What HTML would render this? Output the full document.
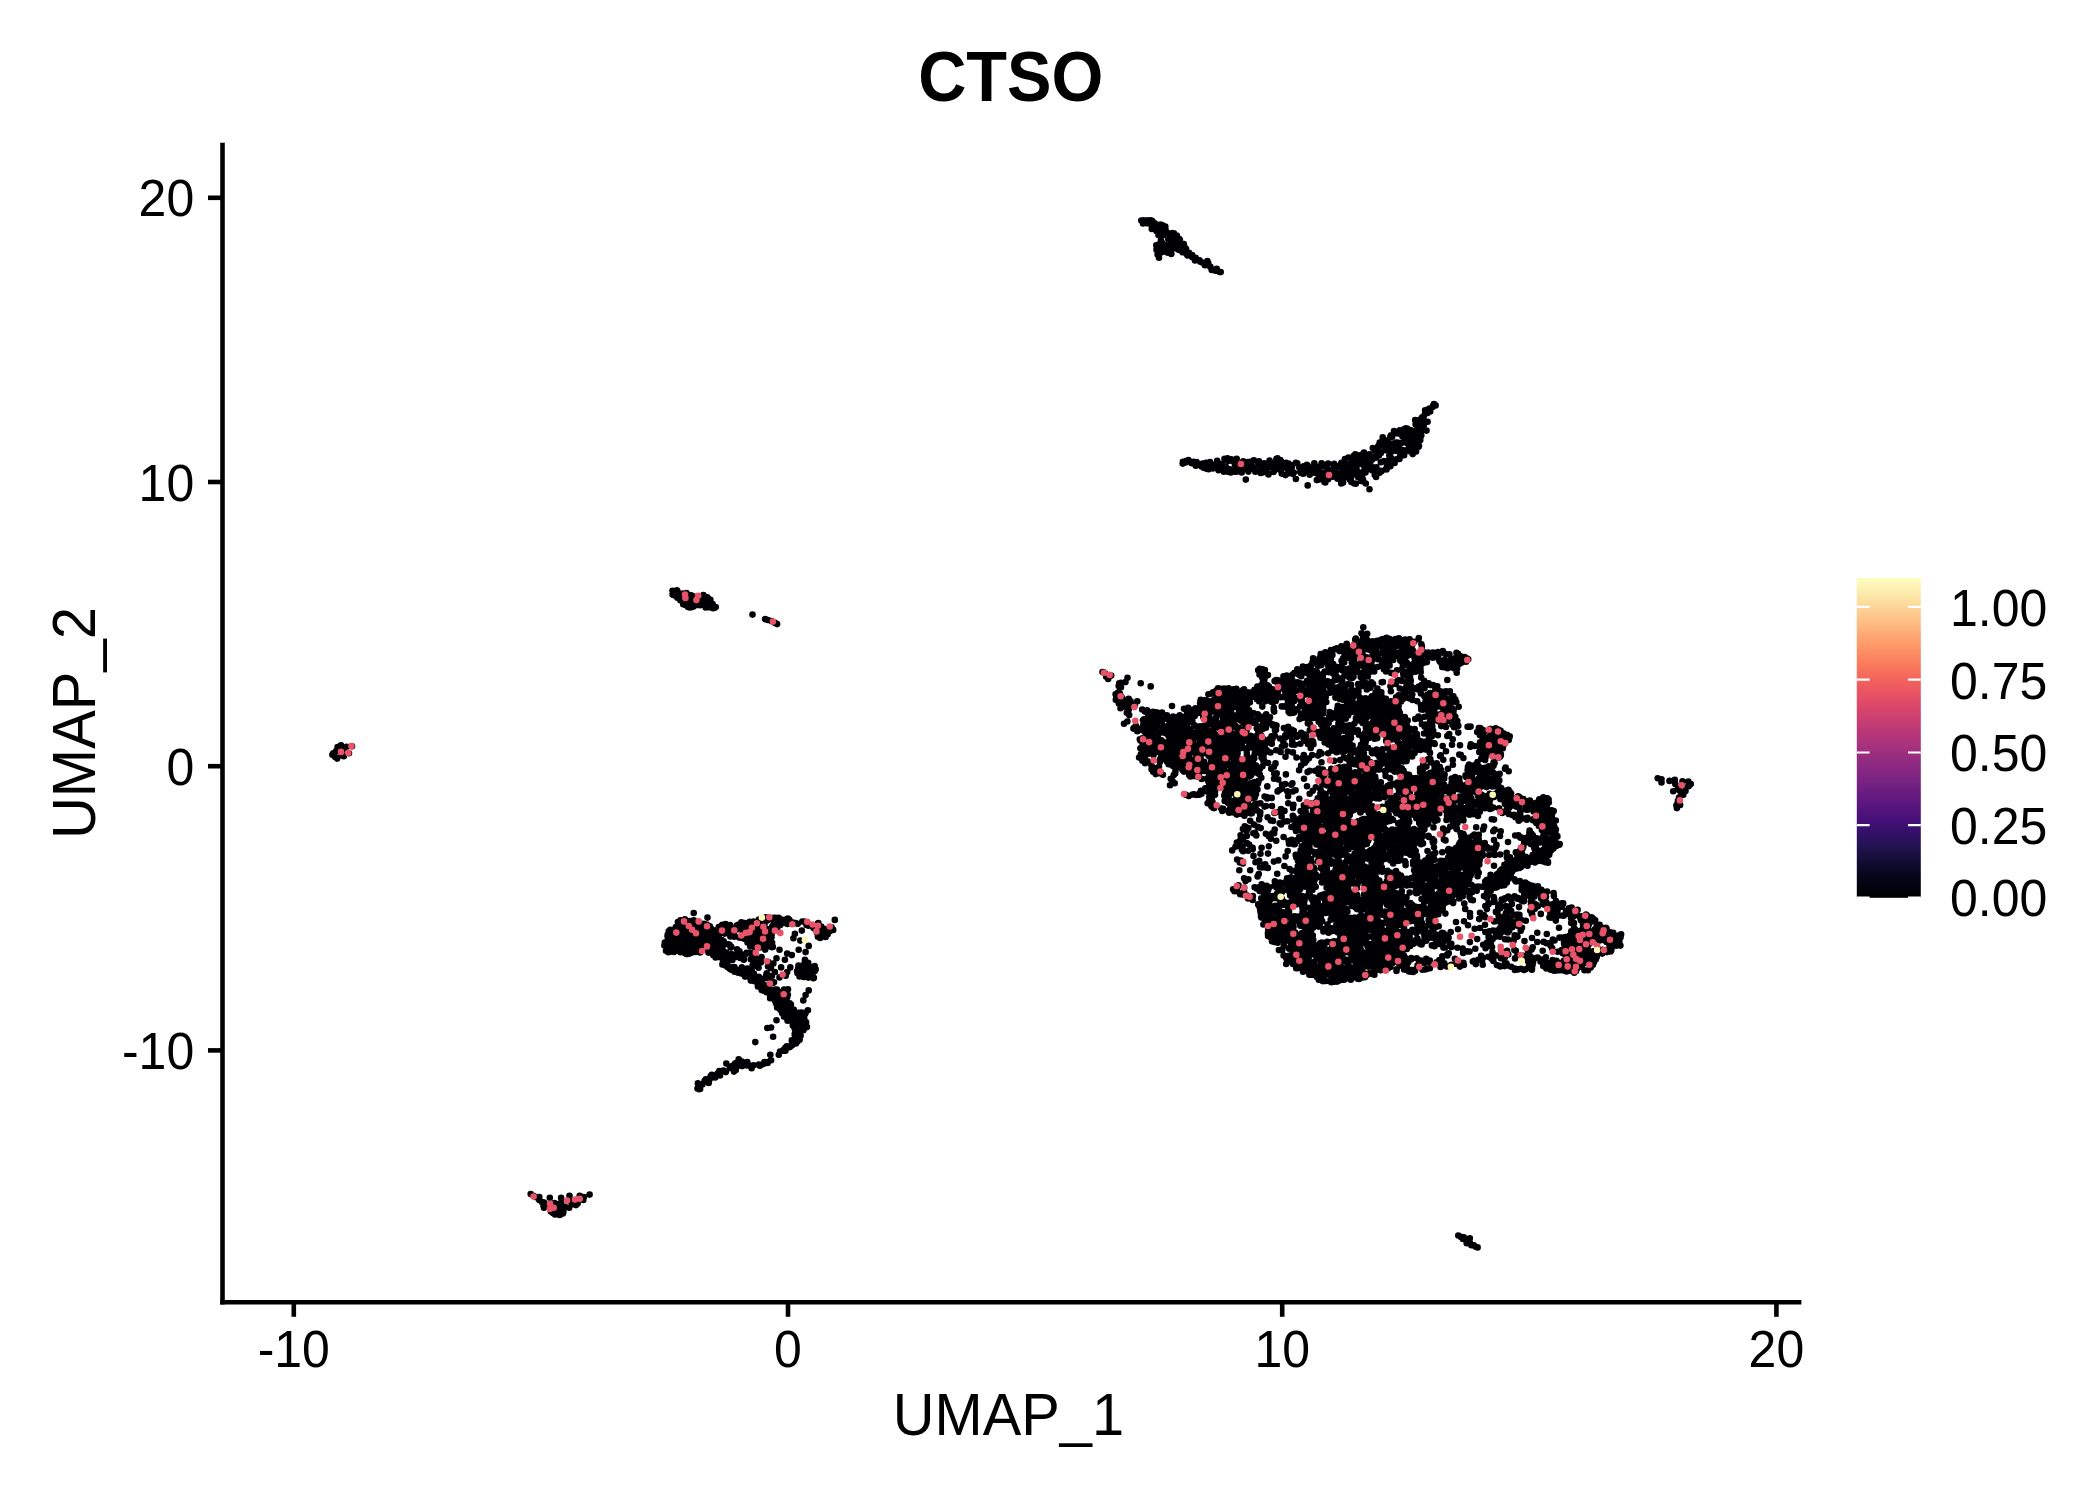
<!DOCTYPE html>
<html lang="en"><head><meta charset="utf-8"><title>CTSO</title><style>html,body{margin:0;padding:0;background:#fff}svg{display:block}</style></head><body>
<svg width="2100" height="1500" viewBox="0 0 2100 1500">
<rect width="2100" height="1500" fill="#fff"/>
<g fill="none" stroke-linecap="round" stroke-width="6.6">
<path stroke="#000004" d="M1147.7 220.4h0M1144.5 221.5h0M1146.3 221.3h0M1149.8 221.3h0M1150.9 221.2h0M1151.4 222.1h0M1152.4 222.6h0M1147.0 223.2h0M1150.9 223.0h0M1152.5 224.9h0M1154.0 224.4h0M1156.0 224.5h0M1159.2 224.9h0M1156.8 225.3h0M1162.4 225.3h0M1165.3 226.5h0M1159.5 227.5h0M1151.8 228.9h0M1152.2 228.1h0M1158.1 228.2h0M1162.4 228.3h0M1164.2 228.8h0M1158.1 229.9h0M1165.5 229.4h0M1156.6 231.3h0M1158.6 231.7h0M1163.2 231.2h0M1165.1 232.3h0M1167.5 232.8h0M1172.5 233.0h0M1161.5 233.9h0M1169.8 233.5h0M1173.9 233.3h0M1162.0 234.1h0M1171.1 234.4h0M1158.5 235.1h0M1163.0 235.2h0M1169.5 235.5h0M1176.8 235.5h0M1174.6 236.2h0M1176.5 236.7h0M1171.2 238.4h0M1174.8 239.0h0M1179.0 238.9h0M1168.3 239.5h0M1173.9 239.8h0M1178.9 239.4h0M1179.9 239.7h0M1160.9 240.9h0M1161.2 241.0h0M1171.4 240.9h0M1173.2 240.3h0M1174.4 240.7h0M1175.3 240.8h0M1177.5 240.7h0M1170.6 241.5h0M1172.5 241.9h0M1174.6 241.9h0M1161.7 242.3h0M1171.3 242.8h0M1174.4 242.4h0M1180.2 242.6h0M1161.5 243.4h0M1183.0 243.8h0M1183.8 244.0h0M1159.1 244.2h0M1171.7 244.4h0M1176.4 244.9h0M1178.1 244.6h0M1179.8 244.5h0M1156.3 245.2h0M1161.1 245.9h0M1164.4 245.1h0M1172.8 245.4h0M1174.3 245.5h0M1166.1 246.1h0M1167.5 246.4h0M1168.8 246.4h0M1170.8 246.1h0M1171.3 246.0h0M1179.3 246.5h0M1182.2 246.7h0M1184.5 246.8h0M1161.3 247.3h0M1164.2 247.0h0M1177.2 247.1h0M1181.7 247.9h0M1183.9 247.5h0M1156.7 248.2h0M1166.2 248.7h0M1175.1 248.0h0M1180.9 248.5h0M1156.5 249.8h0M1164.4 249.5h0M1166.2 249.6h0M1168.3 249.1h0M1169.9 249.3h0M1178.1 249.6h0M1184.8 249.7h0M1186.1 249.1h0M1163.1 250.1h0M1168.2 250.3h0M1171.1 250.3h0M1179.7 250.1h0M1162.8 251.7h0M1164.1 251.5h0M1167.8 251.7h0M1170.2 252.0h0M1184.5 251.7h0M1186.0 252.0h0M1160.0 252.2h0M1167.8 252.8h0M1182.6 252.3h0M1188.7 252.9h0M1160.2 253.0h0M1171.3 253.9h0M1187.7 253.8h0M1188.8 253.6h0M1157.6 254.5h0M1186.8 254.3h0M1158.6 255.1h0M1158.9 256.9h0M1159.0 257.7h0M1433.1 406.1h0M1430.2 411.5h0M1423.6 416.8h0M1422.8 419.8h0M1427.6 421.7h0M1424.1 422.2h0M1415.6 424.2h0M1416.1 424.4h0M1423.9 424.8h0M1417.6 425.2h0M1419.9 426.7h0M1421.4 426.7h0M1420.1 427.5h0M1423.1 427.3h0M1405.9 428.3h0M1407.1 428.6h0M1421.2 429.0h0M1404.4 429.1h0M1409.5 429.8h0M1399.8 430.4h0M1405.8 430.3h0M1411.1 430.2h0M1416.9 430.5h0M1417.2 430.4h0M1426.5 430.6h0M1394.0 431.0h0M1413.1 431.0h0M1421.0 431.9h0M1396.0 432.4h0M1416.0 432.8h0M1397.9 433.4h0M1399.6 433.3h0M1403.3 433.1h0M1410.0 433.4h0M1408.7 435.0h0M1410.7 434.5h0M1411.6 434.1h0M1391.1 435.2h0M1405.6 435.8h0M1406.8 435.5h0M1416.8 435.8h0M1421.3 435.6h0M1390.4 436.6h0M1392.2 436.8h0M1402.5 436.5h0M1405.6 436.5h0M1406.9 436.7h0M1404.0 437.1h0M1408.2 437.8h0M1413.9 437.7h0M1406.3 438.9h0M1414.2 438.3h0M1420.3 439.9h0M1383.5 440.4h0M1387.5 440.2h0M1419.0 440.1h0M1408.5 441.5h0M1415.8 441.7h0M1416.9 441.7h0M1379.7 442.5h0M1383.0 442.4h0M1384.6 442.1h0M1396.0 442.6h0M1397.6 442.5h0M1402.6 442.6h0M1391.3 443.8h0M1392.1 443.5h0M1396.2 443.7h0M1408.1 444.0h0M1410.1 443.4h0M1390.8 444.4h0M1397.7 444.8h0M1378.4 445.9h0M1380.7 445.7h0M1383.9 445.4h0M1388.1 445.7h0M1393.1 446.0h0M1394.7 445.2h0M1399.1 445.9h0M1411.2 445.8h0M1419.0 445.7h0M1388.0 446.0h0M1392.3 446.6h0M1417.2 446.8h0M1418.6 446.8h0M1372.8 448.0h0M1392.4 447.5h0M1414.6 447.8h0M1416.1 447.4h0M1373.9 448.8h0M1378.0 448.3h0M1389.1 448.9h0M1399.4 448.3h0M1411.2 448.4h0M1390.7 449.1h0M1374.7 450.8h0M1375.7 450.6h0M1385.4 450.1h0M1396.0 450.7h0M1397.2 450.2h0M1402.5 450.7h0M1403.3 450.4h0M1406.5 450.2h0M1407.5 450.9h0M1379.1 451.5h0M1391.6 451.7h0M1410.3 451.4h0M1411.0 451.1h0M1416.1 451.4h0M1364.0 452.6h0M1399.6 452.2h0M1363.4 453.6h0M1380.9 453.1h0M1412.7 453.6h0M1355.3 454.3h0M1363.0 454.1h0M1367.6 454.9h0M1369.4 454.3h0M1412.7 454.1h0M1353.8 455.7h0M1358.5 455.6h0M1359.8 455.3h0M1379.0 455.4h0M1389.3 455.2h0M1400.3 455.9h0M1404.1 455.2h0M1369.5 456.4h0M1375.1 456.7h0M1348.5 457.5h0M1356.3 457.2h0M1359.9 457.6h0M1360.2 457.5h0M1375.9 457.7h0M1390.8 457.8h0M1224.5 458.8h0M1227.5 458.4h0M1236.7 458.8h0M1276.5 458.7h0M1277.5 458.3h0M1351.6 458.6h0M1360.0 458.6h0M1363.8 458.2h0M1397.7 458.9h0M1227.6 459.9h0M1228.5 459.7h0M1231.3 459.4h0M1345.0 459.1h0M1364.0 459.4h0M1372.0 459.7h0M1389.1 459.8h0M1395.5 459.5h0M1399.5 459.0h0M1217.2 460.7h0M1227.5 460.3h0M1229.0 460.7h0M1230.3 460.3h0M1253.9 460.3h0M1269.6 460.6h0M1279.8 460.3h0M1280.3 460.1h0M1367.7 460.2h0M1370.0 461.0h0M1232.6 461.1h0M1233.9 461.5h0M1243.2 461.3h0M1250.2 461.8h0M1259.0 461.2h0M1281.1 461.3h0M1355.5 461.0h0M1364.9 461.5h0M1366.6 461.3h0M1367.4 461.6h0M1384.1 461.0h0M1385.3 461.4h0M1194.0 462.5h0M1206.0 462.8h0M1237.0 462.7h0M1246.0 462.9h0M1247.5 462.1h0M1248.5 462.8h0M1251.4 462.5h0M1258.2 462.2h0M1269.1 462.6h0M1272.6 462.8h0M1275.2 462.2h0M1286.3 462.7h0M1341.4 462.8h0M1380.8 462.2h0M1394.6 462.9h0M1191.6 463.2h0M1205.0 463.5h0M1221.7 463.8h0M1235.8 463.3h0M1244.0 463.7h0M1244.1 464.0h0M1264.1 463.3h0M1268.2 463.6h0M1274.2 463.1h0M1283.0 463.3h0M1288.5 463.6h0M1314.3 463.2h0M1321.6 463.3h0M1328.1 463.5h0M1334.1 463.9h0M1354.6 463.0h0M1359.0 463.3h0M1386.8 463.5h0M1392.4 463.1h0M1207.4 464.2h0M1219.6 464.4h0M1234.9 464.5h0M1237.0 464.9h0M1238.8 464.4h0M1278.0 464.6h0M1287.7 465.0h0M1306.9 464.7h0M1343.0 464.2h0M1349.0 464.2h0M1362.5 464.4h0M1217.3 465.9h0M1246.8 465.0h0M1247.5 465.2h0M1258.5 465.0h0M1260.0 465.5h0M1261.0 465.7h0M1262.6 465.7h0M1272.8 465.1h0M1274.8 465.6h0M1283.4 465.2h0M1284.1 465.9h0M1290.6 465.1h0M1291.5 465.6h0M1307.6 465.6h0M1315.3 465.8h0M1322.6 465.1h0M1325.3 465.0h0M1339.8 465.5h0M1340.6 466.0h0M1347.8 466.0h0M1352.6 465.1h0M1353.6 465.3h0M1370.0 465.9h0M1370.5 465.3h0M1387.0 465.9h0M1220.2 466.5h0M1225.8 466.6h0M1252.3 466.5h0M1271.1 466.7h0M1276.0 466.6h0M1279.6 467.0h0M1286.5 466.6h0M1303.7 466.4h0M1313.9 466.2h0M1314.1 466.7h0M1321.4 466.3h0M1324.2 466.4h0M1333.9 467.0h0M1338.8 466.9h0M1342.1 466.1h0M1364.4 466.8h0M1367.0 466.2h0M1390.3 466.3h0M1203.6 467.8h0M1212.6 467.5h0M1213.0 467.8h0M1247.4 467.6h0M1262.3 467.2h0M1264.6 467.3h0M1274.3 467.1h0M1284.1 467.4h0M1287.1 467.6h0M1291.9 467.0h0M1340.1 467.5h0M1345.5 467.7h0M1346.3 467.0h0M1356.5 467.5h0M1373.6 467.2h0M1376.4 467.3h0M1207.3 468.2h0M1212.8 468.4h0M1238.8 468.7h0M1241.3 468.4h0M1245.5 468.4h0M1251.2 468.4h0M1253.9 468.3h0M1260.7 468.9h0M1275.2 468.5h0M1288.3 468.1h0M1311.8 468.4h0M1327.2 468.3h0M1335.6 468.7h0M1351.8 468.7h0M1364.8 468.6h0M1375.4 468.9h0M1208.6 469.2h0M1218.9 469.4h0M1229.9 469.2h0M1236.2 469.3h0M1253.1 469.0h0M1262.2 469.2h0M1266.6 470.0h0M1278.6 469.3h0M1287.8 469.2h0M1307.0 469.8h0M1308.4 469.8h0M1312.1 469.3h0M1316.2 469.6h0M1328.7 470.0h0M1366.6 469.7h0M1369.4 469.1h0M1376.5 469.4h0M1385.8 469.2h0M1386.5 469.4h0M1218.5 470.2h0M1223.9 470.4h0M1224.7 470.6h0M1273.9 470.9h0M1304.3 471.0h0M1343.1 471.0h0M1350.7 470.9h0M1356.8 470.6h0M1372.5 470.4h0M1380.9 470.7h0M1223.9 471.8h0M1230.5 471.4h0M1234.4 471.6h0M1236.5 471.7h0M1248.4 471.6h0M1255.3 471.8h0M1273.5 471.9h0M1300.3 472.0h0M1307.5 471.3h0M1310.8 471.5h0M1314.4 471.4h0M1316.9 471.4h0M1319.1 471.5h0M1334.4 471.7h0M1335.0 471.2h0M1343.3 471.9h0M1344.7 471.6h0M1347.3 471.3h0M1349.0 471.3h0M1353.0 472.0h0M1356.9 471.7h0M1375.4 471.6h0M1381.5 471.3h0M1228.7 472.0h0M1230.8 472.4h0M1241.7 472.4h0M1260.7 473.0h0M1262.0 472.8h0M1267.6 473.0h0M1293.8 472.5h0M1301.8 472.5h0M1312.1 472.9h0M1347.2 472.5h0M1362.8 472.1h0M1365.5 472.4h0M1379.6 472.8h0M1260.9 473.0h0M1281.7 473.6h0M1288.7 473.2h0M1293.0 473.9h0M1301.8 473.1h0M1316.7 473.3h0M1322.4 473.0h0M1323.8 473.3h0M1329.9 473.7h0M1333.2 473.9h0M1334.6 473.8h0M1340.8 473.6h0M1346.4 473.9h0M1349.9 473.6h0M1359.0 473.3h0M1359.3 473.1h0M1268.5 474.4h0M1324.4 474.5h0M1325.5 474.2h0M1330.7 474.5h0M1350.4 475.0h0M1353.0 474.3h0M1359.8 474.5h0M1361.8 474.3h0M1362.7 474.0h0M1285.5 475.1h0M1318.8 475.8h0M1335.8 475.3h0M1342.8 475.2h0M1346.7 475.8h0M1349.1 475.6h0M1374.8 475.1h0M1327.0 476.4h0M1332.8 476.7h0M1337.4 476.9h0M1376.1 476.9h0M1323.4 477.9h0M1339.4 477.1h0M1340.0 477.9h0M1345.0 477.5h0M1350.9 477.8h0M1357.9 477.1h0M1361.1 477.6h0M1327.3 478.2h0M1337.6 478.8h0M1349.6 478.7h0M1318.9 479.6h0M1328.1 479.2h0M1343.0 479.5h0M1350.0 479.8h0M1362.9 479.2h0M1316.8 480.1h0M1350.8 480.3h0M1361.0 480.9h0M1324.4 482.0h0M1363.4 481.4h0M1325.3 482.4h0M1343.1 482.6h0M1351.4 482.1h0M1341.2 483.5h0M1354.3 483.5h0M1355.8 483.8h0M1365.8 483.5h0M676.9 590.3h0M677.7 591.9h0M683.1 593.5h0M686.5 593.0h0M672.6 594.5h0M673.4 595.0h0M675.0 594.6h0M687.2 594.4h0M674.8 595.6h0M675.4 595.4h0M676.8 595.7h0M678.7 595.2h0M688.9 595.1h0M691.1 595.2h0M703.4 595.0h0M680.3 596.1h0M693.2 596.2h0M696.1 596.8h0M677.4 597.7h0M680.5 597.5h0M690.2 597.4h0M695.2 597.3h0M698.3 597.0h0M700.6 597.6h0M701.8 597.2h0M707.3 597.3h0M679.3 598.2h0M684.3 598.3h0M687.0 598.4h0M693.3 598.2h0M694.9 598.0h0M695.8 598.5h0M708.2 598.5h0M686.9 599.2h0M690.7 599.3h0M695.7 599.1h0M697.6 599.4h0M707.5 599.1h0M708.6 599.8h0M710.4 599.9h0M680.4 600.3h0M694.2 600.0h0M695.6 600.6h0M705.4 600.9h0M706.8 600.3h0M688.3 601.9h0M692.2 601.3h0M694.0 601.9h0M696.8 601.8h0M697.1 601.1h0M699.3 601.8h0M702.5 601.2h0M706.5 601.6h0M709.2 601.6h0M686.1 602.5h0M690.0 602.0h0M686.9 603.9h0M694.6 603.4h0M701.5 603.2h0M707.9 603.8h0M709.7 603.7h0M685.2 605.0h0M693.4 604.6h0M697.7 604.9h0M698.0 604.4h0M701.1 604.0h0M712.6 604.1h0M700.1 605.3h0M688.4 606.8h0M693.4 606.4h0M709.5 606.4h0M688.1 607.0h0M692.1 607.1h0M705.7 607.4h0M708.0 607.3h0M708.9 607.2h0M714.4 607.9h0M713.0 608.2h0M713.8 608.0h0M1361.5 633.3h0M1367.2 633.8h0M1365.9 636.4h0M1363.0 637.9h0M1386.6 637.7h0M1418.8 638.0h0M1355.8 638.5h0M1384.0 638.7h0M1398.9 638.2h0M1355.2 639.5h0M1362.7 639.2h0M1364.7 639.5h0M1366.9 639.7h0M1381.5 639.5h0M1389.8 639.1h0M1395.6 639.0h0M1400.1 639.5h0M1405.2 639.5h0M1409.6 639.2h0M1418.6 639.1h0M1377.1 640.7h0M1379.4 640.5h0M1382.5 640.6h0M1397.8 640.1h0M1401.5 641.0h0M1361.0 641.6h0M1362.9 641.2h0M1372.4 641.3h0M1374.8 641.8h0M1377.2 641.7h0M1392.8 641.3h0M1399.8 641.3h0M1412.1 642.0h0M1414.3 641.8h0M1363.8 642.6h0M1385.4 642.0h0M1397.9 642.3h0M1399.4 642.7h0M1406.8 642.1h0M1410.5 642.7h0M1346.7 643.7h0M1361.2 643.1h0M1370.4 643.2h0M1388.4 643.1h0M1392.6 643.0h0M1393.1 643.6h0M1395.8 643.9h0M1408.0 643.4h0M1412.7 643.6h0M1354.1 644.7h0M1360.6 644.4h0M1361.8 644.8h0M1364.4 644.1h0M1380.0 644.8h0M1387.6 644.9h0M1402.5 644.3h0M1421.4 644.2h0M1346.7 645.9h0M1359.0 645.4h0M1365.5 645.5h0M1412.1 645.3h0M1341.4 646.3h0M1347.0 646.0h0M1348.2 646.9h0M1372.9 646.6h0M1377.4 646.2h0M1378.1 646.3h0M1391.0 646.3h0M1393.6 646.0h0M1395.8 646.4h0M1401.0 646.3h0M1421.9 646.4h0M1345.9 647.1h0M1354.2 647.2h0M1357.2 647.9h0M1369.9 647.2h0M1373.0 647.7h0M1376.5 647.8h0M1387.2 647.5h0M1411.1 647.7h0M1336.8 648.2h0M1341.7 648.5h0M1344.1 648.2h0M1362.8 648.1h0M1374.8 648.5h0M1383.6 648.1h0M1389.7 648.7h0M1405.0 648.1h0M1335.0 649.1h0M1351.9 649.2h0M1352.2 649.7h0M1366.6 649.1h0M1368.9 649.6h0M1383.0 649.1h0M1405.9 649.4h0M1406.4 649.1h0M1407.7 649.2h0M1421.8 649.1h0M1330.9 650.0h0M1346.8 650.7h0M1348.1 650.9h0M1358.1 650.5h0M1359.1 651.0h0M1403.9 650.8h0M1406.1 651.0h0M1412.8 650.6h0M1339.5 651.1h0M1344.4 651.5h0M1351.5 651.1h0M1352.2 651.4h0M1361.2 651.3h0M1387.6 651.1h0M1391.4 651.2h0M1400.9 651.9h0M1442.8 651.1h0M1325.4 652.2h0M1328.7 652.6h0M1344.2 652.8h0M1375.7 652.9h0M1395.4 652.6h0M1409.7 652.9h0M1410.2 652.3h0M1423.6 652.1h0M1428.4 652.5h0M1433.0 652.5h0M1438.0 652.1h0M1440.9 652.2h0M1456.5 652.7h0M1324.3 653.3h0M1330.9 653.5h0M1372.6 653.8h0M1379.1 653.3h0M1389.6 653.0h0M1402.9 654.0h0M1424.8 653.7h0M1434.0 653.8h0M1445.2 653.9h0M1458.0 653.9h0M1320.7 654.1h0M1332.4 654.9h0M1344.6 654.1h0M1362.6 654.3h0M1384.1 654.0h0M1392.4 654.4h0M1394.4 654.5h0M1409.7 654.8h0M1413.0 654.3h0M1415.4 654.2h0M1418.7 654.4h0M1434.2 654.8h0M1449.4 654.2h0M1457.4 654.9h0M1326.5 655.2h0M1348.2 655.7h0M1354.9 655.4h0M1377.5 655.8h0M1388.1 655.4h0M1393.3 655.1h0M1394.1 655.5h0M1397.4 655.3h0M1401.4 655.0h0M1407.4 655.8h0M1420.5 655.5h0M1427.5 655.1h0M1437.0 655.1h0M1438.5 655.1h0M1456.7 656.0h0M1459.1 655.5h0M1320.4 656.8h0M1324.6 657.0h0M1350.3 656.7h0M1361.9 656.1h0M1384.8 656.7h0M1393.6 656.4h0M1398.7 656.2h0M1401.8 656.2h0M1421.3 656.8h0M1460.1 656.6h0M1462.0 656.7h0M1321.6 657.3h0M1328.9 657.5h0M1348.4 657.6h0M1351.9 657.5h0M1362.2 657.2h0M1366.6 657.4h0M1388.9 657.4h0M1420.9 657.6h0M1432.7 657.7h0M1458.7 657.1h0M1464.7 657.1h0M1313.1 658.4h0M1323.6 658.6h0M1330.9 659.0h0M1343.1 658.2h0M1354.3 658.7h0M1371.6 658.8h0M1386.9 658.4h0M1405.5 658.1h0M1414.7 658.7h0M1455.2 658.2h0M1463.8 658.1h0M1466.6 658.3h0M1318.6 659.4h0M1320.1 659.6h0M1354.2 659.8h0M1377.9 659.3h0M1378.8 659.3h0M1382.4 659.8h0M1393.3 660.0h0M1401.0 659.4h0M1421.6 659.8h0M1438.9 659.7h0M1444.7 659.8h0M1451.9 659.4h0M1460.0 659.9h0M1468.2 659.2h0M1317.2 660.1h0M1319.2 660.5h0M1326.8 660.9h0M1341.6 660.7h0M1363.5 660.1h0M1371.9 660.8h0M1381.8 660.6h0M1384.2 660.9h0M1400.3 660.6h0M1401.5 660.6h0M1405.0 660.1h0M1426.6 660.2h0M1448.7 660.8h0M1453.7 660.5h0M1465.4 660.4h0M1342.2 661.2h0M1351.9 661.8h0M1361.7 661.6h0M1368.4 661.5h0M1371.4 661.9h0M1388.0 661.4h0M1401.4 661.5h0M1415.5 661.9h0M1439.9 661.8h0M1446.6 661.9h0M1466.0 661.7h0M1312.4 662.5h0M1313.9 662.2h0M1323.0 662.1h0M1330.0 662.8h0M1330.9 663.0h0M1344.2 662.4h0M1351.8 662.4h0M1352.3 662.5h0M1369.5 662.7h0M1423.9 662.5h0M1424.2 662.6h0M1426.9 662.1h0M1447.3 662.3h0M1460.6 662.0h0M1461.8 662.4h0M1320.6 663.4h0M1329.1 663.1h0M1331.7 663.4h0M1355.0 663.6h0M1407.1 663.1h0M1413.7 663.7h0M1421.9 663.8h0M1459.8 663.5h0M1332.7 664.7h0M1333.2 664.1h0M1357.3 664.3h0M1402.9 664.9h0M1403.4 664.2h0M1405.3 664.5h0M1412.2 664.7h0M1445.8 664.1h0M1450.5 664.6h0M1459.1 664.1h0M1310.9 665.6h0M1317.6 665.4h0M1318.9 665.6h0M1321.3 665.1h0M1328.1 665.5h0M1361.3 665.2h0M1365.9 665.9h0M1369.4 665.3h0M1381.2 665.7h0M1389.6 665.5h0M1420.5 665.5h0M1442.0 665.2h0M1302.9 666.6h0M1336.1 666.9h0M1341.3 666.2h0M1356.6 666.8h0M1365.1 666.2h0M1383.8 666.9h0M1411.6 666.5h0M1420.1 666.1h0M1442.2 666.9h0M1446.2 666.9h0M1452.0 666.1h0M1456.3 666.0h0M1307.3 667.0h0M1337.9 667.3h0M1357.5 667.1h0M1372.7 667.8h0M1373.1 667.4h0M1377.3 667.0h0M1409.6 667.9h0M1415.0 667.8h0M1443.1 667.1h0M1446.0 667.6h0M1449.9 667.1h0M1457.0 667.1h0M1259.7 668.8h0M1335.5 668.8h0M1338.1 668.4h0M1349.9 668.2h0M1352.0 668.5h0M1356.1 668.1h0M1365.6 668.4h0M1386.6 668.4h0M1402.3 668.5h0M1420.5 668.8h0M1447.6 668.2h0M1453.9 668.3h0M1457.1 668.4h0M1262.7 669.3h0M1297.3 669.2h0M1305.9 669.3h0M1311.2 669.8h0M1335.3 669.7h0M1346.1 669.4h0M1356.1 669.7h0M1364.7 669.6h0M1373.4 669.5h0M1383.8 669.3h0M1411.0 669.1h0M1415.0 669.1h0M1416.7 669.3h0M1258.2 670.2h0M1264.9 670.1h0M1313.5 671.0h0M1330.1 670.3h0M1336.3 670.6h0M1342.5 670.5h0M1356.1 670.2h0M1397.0 670.2h0M1409.5 670.4h0M1102.5 672.0h0M1264.7 671.9h0M1299.1 671.5h0M1316.8 671.8h0M1324.8 671.5h0M1325.7 671.6h0M1349.3 671.8h0M1350.5 671.2h0M1370.8 671.6h0M1374.2 671.4h0M1386.0 671.5h0M1408.1 671.5h0M1415.3 671.7h0M1420.7 672.0h0M1103.5 672.2h0M1294.5 672.7h0M1302.5 672.3h0M1306.3 672.8h0M1309.5 672.5h0M1316.9 672.2h0M1323.9 673.0h0M1328.7 672.1h0M1345.7 672.0h0M1350.8 672.9h0M1354.6 672.4h0M1359.9 672.7h0M1363.1 672.5h0M1391.2 672.9h0M1409.6 672.6h0M1104.8 673.2h0M1261.4 673.7h0M1264.6 673.8h0M1301.3 673.5h0M1333.0 673.5h0M1351.8 673.5h0M1392.0 673.2h0M1403.2 673.3h0M1405.9 673.0h0M1259.5 674.6h0M1260.2 674.2h0M1263.4 674.7h0M1292.6 674.5h0M1299.1 674.7h0M1309.4 674.7h0M1314.1 674.2h0M1317.2 674.4h0M1320.2 674.8h0M1366.8 674.8h0M1410.2 674.5h0M1111.2 675.6h0M1262.2 675.3h0M1267.9 675.1h0M1286.7 675.5h0M1291.6 675.8h0M1300.4 675.1h0M1312.1 675.8h0M1320.0 675.4h0M1322.5 675.2h0M1334.9 675.7h0M1344.5 675.8h0M1350.9 675.6h0M1352.7 675.6h0M1403.5 675.4h0M1408.3 675.3h0M1410.2 675.0h0M1106.2 676.7h0M1283.5 676.2h0M1286.9 676.3h0M1289.9 676.7h0M1301.2 676.2h0M1314.2 676.1h0M1336.4 676.3h0M1353.5 676.8h0M1367.8 676.5h0M1108.7 677.3h0M1262.0 677.3h0M1265.0 677.3h0M1286.1 677.7h0M1321.3 677.4h0M1322.8 677.5h0M1349.4 677.4h0M1350.3 677.7h0M1351.4 678.0h0M1352.1 677.9h0M1360.7 677.1h0M1363.2 677.9h0M1421.2 677.6h0M1108.2 679.0h0M1284.3 678.9h0M1288.3 678.8h0M1320.2 678.1h0M1334.9 678.8h0M1337.9 678.3h0M1342.0 678.3h0M1408.5 678.8h0M1410.2 678.8h0M1287.4 679.9h0M1336.2 680.0h0M1275.5 680.8h0M1276.1 680.1h0M1278.1 680.4h0M1290.1 680.6h0M1292.3 680.2h0M1307.1 680.8h0M1312.9 680.5h0M1313.3 680.9h0M1315.9 680.1h0M1317.3 680.7h0M1342.2 680.5h0M1362.6 680.9h0M1398.2 680.0h0M1401.8 680.9h0M1410.8 680.7h0M1424.1 680.7h0M1263.0 681.0h0M1264.3 681.3h0M1274.6 681.1h0M1289.9 681.1h0M1312.9 681.5h0M1317.2 681.8h0M1321.5 681.2h0M1326.3 681.4h0M1327.7 681.4h0M1332.1 682.0h0M1392.6 682.0h0M1407.9 681.3h0M1264.1 682.4h0M1277.6 682.6h0M1288.8 682.9h0M1297.4 682.3h0M1307.6 682.8h0M1313.4 682.1h0M1365.3 682.7h0M1371.4 682.4h0M1381.7 682.2h0M1382.9 682.1h0M1279.9 683.3h0M1300.3 683.3h0M1305.5 683.4h0M1306.5 683.6h0M1310.9 683.1h0M1311.4 683.7h0M1317.8 683.1h0M1342.0 683.7h0M1362.9 683.5h0M1370.9 683.2h0M1406.9 684.0h0M1428.6 683.2h0M1119.6 684.8h0M1261.4 685.0h0M1262.6 684.7h0M1281.7 684.1h0M1286.3 684.4h0M1293.2 684.4h0M1300.5 684.4h0M1321.7 684.3h0M1325.1 684.5h0M1342.6 684.9h0M1348.2 684.1h0M1351.1 684.9h0M1358.2 684.1h0M1370.8 684.0h0M1373.1 684.0h0M1395.9 684.0h0M1267.4 685.2h0M1286.0 685.7h0M1286.8 686.0h0M1319.8 685.6h0M1328.5 685.3h0M1331.0 685.4h0M1341.1 685.4h0M1365.5 685.6h0M1366.4 685.1h0M1406.6 685.7h0M1411.0 685.9h0M1421.5 685.1h0M1426.6 685.0h0M1430.6 685.1h0M1433.1 685.0h0M1257.4 686.5h0M1264.7 686.8h0M1268.9 686.5h0M1290.1 686.7h0M1294.4 686.1h0M1329.7 686.7h0M1342.3 686.3h0M1358.7 686.4h0M1359.7 686.8h0M1360.9 686.2h0M1365.3 686.2h0M1390.4 686.3h0M1418.8 686.6h0M1434.8 686.5h0M1435.9 686.2h0M1437.3 686.4h0M1121.0 687.3h0M1292.8 688.0h0M1313.5 687.8h0M1318.6 687.5h0M1319.0 687.6h0M1335.6 687.7h0M1336.0 687.8h0M1339.3 687.1h0M1369.3 687.5h0M1370.5 687.7h0M1405.9 687.7h0M1218.1 688.3h0M1222.1 688.7h0M1224.4 688.5h0M1228.6 688.4h0M1236.3 688.9h0M1281.8 688.3h0M1301.0 688.0h0M1314.2 689.0h0M1321.3 688.7h0M1345.0 688.2h0M1366.7 688.6h0M1377.4 688.5h0M1399.8 688.5h0M1407.8 688.7h0M1415.3 688.3h0M1416.8 689.0h0M1424.6 688.1h0M1221.5 689.9h0M1223.5 689.7h0M1226.2 689.3h0M1227.4 689.4h0M1233.5 689.2h0M1244.0 689.4h0M1254.5 689.8h0M1262.4 689.6h0M1265.4 689.2h0M1272.5 689.4h0M1284.6 689.3h0M1293.8 689.1h0M1301.1 689.7h0M1302.7 689.6h0M1308.3 689.2h0M1322.2 689.0h0M1366.8 689.4h0M1406.5 689.4h0M1418.1 689.5h0M1419.8 689.4h0M1216.5 690.4h0M1231.4 690.4h0M1242.7 690.2h0M1260.0 690.2h0M1270.4 690.9h0M1278.1 690.9h0M1285.8 690.7h0M1287.9 690.7h0M1298.5 690.8h0M1313.6 690.1h0M1315.6 690.9h0M1323.6 690.5h0M1330.5 690.0h0M1332.9 690.1h0M1336.3 690.4h0M1337.8 690.2h0M1339.3 690.3h0M1340.7 690.6h0M1341.2 690.7h0M1350.8 691.0h0M1354.0 690.7h0M1358.4 690.7h0M1408.6 690.7h0M1410.3 690.6h0M1435.4 690.1h0M1436.9 690.6h0M1439.8 691.0h0M1215.8 691.6h0M1221.4 691.4h0M1222.4 691.8h0M1226.9 691.7h0M1232.9 692.0h0M1235.3 691.5h0M1237.4 691.3h0M1244.8 691.4h0M1257.6 691.8h0M1259.2 691.2h0M1267.0 691.4h0M1270.9 691.3h0M1272.3 691.3h0M1285.3 691.9h0M1291.6 691.4h0M1293.5 691.1h0M1295.5 691.0h0M1335.1 691.1h0M1343.6 691.4h0M1345.9 691.7h0M1355.9 691.5h0M1358.4 692.0h0M1390.9 691.3h0M1403.8 691.7h0M1404.1 691.1h0M1405.8 691.2h0M1438.9 691.2h0M1443.8 691.9h0M1446.2 691.4h0M1449.9 691.2h0M1118.1 692.5h0M1213.0 692.2h0M1241.7 692.5h0M1247.8 692.3h0M1251.6 692.2h0M1257.4 692.6h0M1262.0 692.8h0M1293.1 692.2h0M1315.5 692.4h0M1329.9 692.8h0M1347.1 692.1h0M1375.6 692.6h0M1381.3 692.2h0M1404.2 692.5h0M1430.0 693.0h0M1434.5 692.8h0M1443.7 692.3h0M1448.4 692.2h0M1116.5 694.0h0M1119.9 693.5h0M1212.0 693.6h0M1212.3 693.3h0M1214.9 693.3h0M1217.9 693.3h0M1220.8 693.7h0M1224.5 694.0h0M1225.6 693.9h0M1232.9 693.3h0M1241.6 693.5h0M1244.2 693.5h0M1273.5 693.4h0M1311.9 694.0h0M1324.2 693.1h0M1342.0 693.8h0M1349.4 693.6h0M1405.7 693.8h0M1420.9 693.5h0M1430.4 693.7h0M1432.0 693.9h0M1208.4 694.3h0M1216.3 694.8h0M1227.9 694.3h0M1230.4 694.8h0M1231.9 695.0h0M1235.9 694.8h0M1257.6 694.4h0M1262.6 694.8h0M1264.6 694.1h0M1288.8 694.9h0M1305.6 694.5h0M1309.8 694.1h0M1314.6 694.6h0M1317.4 694.4h0M1321.8 694.4h0M1375.9 694.3h0M1381.2 694.9h0M1412.3 694.3h0M1427.5 694.6h0M1429.6 694.4h0M1434.2 694.5h0M1116.3 695.7h0M1218.7 695.9h0M1228.1 695.9h0M1241.4 695.4h0M1245.8 695.5h0M1253.0 695.9h0M1269.1 695.1h0M1301.2 695.1h0M1302.1 695.8h0M1315.1 695.9h0M1335.7 695.0h0M1339.1 695.6h0M1342.6 695.5h0M1354.0 695.9h0M1398.6 695.3h0M1428.0 695.0h0M1430.8 695.9h0M1431.7 695.5h0M1440.1 695.5h0M1116.3 696.4h0M1120.1 696.1h0M1234.6 696.5h0M1251.6 696.8h0M1256.3 696.1h0M1259.4 696.5h0M1261.7 696.3h0M1279.3 696.5h0M1283.3 697.0h0M1325.7 696.9h0M1346.1 696.1h0M1371.9 696.4h0M1375.8 696.7h0M1380.7 696.1h0M1405.3 696.6h0M1424.5 696.5h0M1431.0 696.5h0M1433.3 696.1h0M1453.4 696.4h0M1118.8 697.8h0M1226.2 697.1h0M1230.1 697.3h0M1234.9 697.5h0M1239.5 697.2h0M1244.7 697.6h0M1251.3 697.3h0M1268.0 697.9h0M1269.1 697.9h0M1280.6 697.3h0M1290.9 697.7h0M1294.4 697.5h0M1299.5 697.7h0M1301.9 697.5h0M1320.5 697.2h0M1323.0 697.8h0M1335.4 697.6h0M1338.6 697.4h0M1349.5 697.5h0M1359.7 697.3h0M1382.0 697.4h0M1396.1 697.3h0M1402.9 697.4h0M1405.2 697.8h0M1428.9 697.8h0M1434.0 697.4h0M1436.0 697.1h0M1440.9 697.3h0M1444.4 697.5h0M1451.4 697.9h0M1453.0 697.9h0M1119.8 698.4h0M1122.3 698.4h0M1232.1 698.9h0M1242.9 698.2h0M1247.2 698.1h0M1261.5 698.1h0M1268.6 698.0h0M1270.6 698.8h0M1296.0 698.1h0M1301.9 698.0h0M1310.8 698.9h0M1312.8 698.9h0M1319.2 698.0h0M1339.8 698.9h0M1365.4 698.3h0M1369.7 698.6h0M1374.2 698.0h0M1377.6 698.9h0M1385.9 698.8h0M1397.8 698.1h0M1400.9 698.6h0M1409.6 698.4h0M1434.4 698.1h0M1439.1 698.9h0M1445.2 698.4h0M1116.3 699.3h0M1200.8 699.9h0M1224.0 699.6h0M1227.6 699.2h0M1233.6 699.7h0M1237.4 699.5h0M1243.6 699.6h0M1244.6 699.8h0M1257.0 699.2h0M1261.2 699.0h0M1274.7 699.2h0M1301.0 699.7h0M1313.4 699.8h0M1322.5 700.0h0M1323.9 699.9h0M1343.4 699.9h0M1349.6 699.6h0M1365.2 699.9h0M1376.0 699.6h0M1397.2 699.6h0M1398.5 699.5h0M1402.7 699.2h0M1412.5 699.9h0M1433.0 699.8h0M1434.7 699.4h0M1447.1 699.6h0M1455.2 699.4h0M1117.8 700.5h0M1124.4 700.3h0M1200.5 700.9h0M1204.5 700.2h0M1205.7 700.3h0M1206.9 700.9h0M1213.3 700.4h0M1217.6 700.2h0M1228.2 700.9h0M1244.7 700.2h0M1258.5 700.3h0M1275.8 701.0h0M1287.8 700.1h0M1294.2 700.9h0M1311.6 700.6h0M1352.4 700.1h0M1371.3 700.1h0M1397.9 700.7h0M1435.1 700.6h0M1125.7 701.6h0M1130.6 701.4h0M1205.5 701.6h0M1208.0 701.6h0M1208.3 701.2h0M1210.1 701.8h0M1218.2 701.5h0M1226.5 701.3h0M1229.5 701.1h0M1245.7 702.0h0M1259.0 701.3h0M1265.4 701.2h0M1271.3 701.8h0M1273.4 701.7h0M1274.3 701.6h0M1300.9 701.0h0M1301.9 701.9h0M1347.6 701.5h0M1359.5 701.7h0M1363.2 701.7h0M1367.3 701.1h0M1369.7 701.2h0M1370.4 701.2h0M1391.1 701.3h0M1401.0 701.4h0M1417.2 701.2h0M1430.8 701.7h0M1431.3 701.8h0M1438.0 701.2h0M1448.5 702.0h0M1450.2 701.9h0M1453.4 701.1h0M1456.3 702.0h0M1123.6 702.6h0M1126.0 702.1h0M1212.6 702.3h0M1216.7 702.4h0M1231.9 702.5h0M1232.4 703.0h0M1235.6 702.2h0M1237.6 702.4h0M1249.9 702.2h0M1320.9 702.9h0M1321.4 702.9h0M1322.0 702.7h0M1326.3 702.0h0M1367.4 702.8h0M1373.9 703.0h0M1382.5 702.6h0M1385.8 702.8h0M1396.7 702.2h0M1425.4 702.1h0M1427.1 702.9h0M1434.3 702.4h0M1451.1 702.4h0M1118.9 703.4h0M1120.4 703.3h0M1125.8 703.9h0M1126.1 703.7h0M1200.1 703.2h0M1211.7 703.5h0M1227.6 703.3h0M1230.3 703.8h0M1235.2 704.0h0M1241.0 703.7h0M1244.7 704.0h0M1246.9 703.9h0M1315.1 703.2h0M1347.7 703.1h0M1362.3 703.4h0M1363.5 703.0h0M1366.4 703.9h0M1371.4 703.5h0M1395.1 703.7h0M1433.0 703.8h0M1445.2 703.4h0M1128.9 704.8h0M1133.8 704.8h0M1206.7 704.9h0M1213.2 704.7h0M1225.4 704.6h0M1226.9 704.6h0M1227.5 704.4h0M1235.8 704.0h0M1247.2 704.8h0M1318.3 704.7h0M1323.2 704.9h0M1347.2 704.9h0M1350.7 704.8h0M1354.8 704.3h0M1360.6 704.1h0M1366.5 704.3h0M1372.5 704.3h0M1374.9 704.4h0M1377.8 704.5h0M1395.4 705.0h0M1427.4 704.6h0M1430.8 704.7h0M1432.3 704.5h0M1435.8 704.0h0M1437.2 704.2h0M1443.3 704.4h0M1134.9 705.1h0M1200.8 705.5h0M1203.0 705.8h0M1207.4 705.8h0M1208.9 705.7h0M1214.2 705.2h0M1221.8 705.5h0M1224.0 705.5h0M1228.4 705.9h0M1233.7 705.3h0M1242.1 705.4h0M1286.7 705.4h0M1290.2 705.1h0M1301.9 705.6h0M1304.5 705.0h0M1312.6 705.2h0M1318.8 705.4h0M1337.8 705.9h0M1350.5 705.6h0M1355.8 705.6h0M1368.0 705.7h0M1374.1 705.6h0M1383.6 705.7h0M1384.1 705.6h0M1387.3 705.1h0M1388.7 705.5h0M1394.6 705.5h0M1398.6 705.9h0M1420.9 705.3h0M1424.4 705.2h0M1431.2 705.4h0M1434.6 705.9h0M1447.6 705.9h0M1202.8 707.0h0M1204.6 706.9h0M1212.9 706.2h0M1214.6 706.9h0M1220.9 706.6h0M1228.0 706.8h0M1235.6 706.6h0M1240.4 706.7h0M1242.0 706.4h0M1262.3 706.6h0M1281.7 706.4h0M1283.9 706.5h0M1285.6 706.7h0M1289.5 706.6h0M1291.9 706.2h0M1300.1 706.4h0M1351.5 706.4h0M1365.4 706.0h0M1379.9 706.8h0M1397.7 706.9h0M1422.3 706.4h0M1436.9 706.7h0M1441.8 706.9h0M1188.1 707.9h0M1208.1 707.3h0M1229.5 707.3h0M1231.6 707.8h0M1238.8 707.1h0M1239.9 707.6h0M1273.8 707.7h0M1288.4 707.8h0M1309.4 707.2h0M1314.0 707.5h0M1314.8 707.7h0M1318.4 707.9h0M1342.4 707.1h0M1360.1 707.7h0M1364.7 708.0h0M1365.6 707.4h0M1367.7 707.6h0M1371.7 707.3h0M1383.2 708.0h0M1384.8 707.9h0M1392.0 707.4h0M1431.6 707.3h0M1450.6 707.9h0M1195.5 708.2h0M1198.1 708.5h0M1208.2 708.8h0M1209.3 708.6h0M1213.4 708.0h0M1214.4 708.8h0M1222.7 708.7h0M1226.1 708.9h0M1228.1 708.1h0M1230.1 708.2h0M1232.0 708.1h0M1244.6 708.8h0M1313.7 708.5h0M1320.7 708.5h0M1341.9 708.7h0M1349.9 708.1h0M1357.8 708.6h0M1358.2 709.0h0M1381.0 708.5h0M1448.1 708.3h0M1452.1 708.4h0M1142.2 709.5h0M1196.5 709.1h0M1200.3 709.5h0M1211.1 709.4h0M1212.5 710.0h0M1214.6 709.8h0M1216.2 709.3h0M1221.1 709.6h0M1222.5 709.2h0M1245.7 709.2h0M1273.7 710.0h0M1296.9 709.0h0M1305.3 709.4h0M1318.7 709.9h0M1323.3 709.1h0M1337.2 709.4h0M1338.9 709.1h0M1360.1 709.6h0M1361.6 709.1h0M1379.2 709.5h0M1388.0 709.8h0M1421.2 709.4h0M1422.6 709.8h0M1427.5 709.9h0M1443.8 709.8h0M1448.5 709.3h0M1147.1 710.4h0M1189.1 710.5h0M1191.9 710.1h0M1205.8 710.8h0M1213.5 710.7h0M1214.7 710.2h0M1223.9 710.7h0M1231.1 710.1h0M1239.0 710.9h0M1241.7 710.5h0M1249.1 710.4h0M1292.9 710.1h0M1295.1 710.2h0M1316.3 710.1h0M1320.9 710.1h0M1338.3 710.8h0M1340.7 710.8h0M1344.5 710.6h0M1351.9 710.3h0M1373.0 710.4h0M1378.6 710.4h0M1383.5 710.2h0M1398.9 710.7h0M1431.0 710.3h0M1449.3 710.2h0M1453.6 710.2h0M1145.0 711.6h0M1152.9 711.8h0M1191.4 711.6h0M1199.4 711.3h0M1202.4 711.2h0M1203.8 711.6h0M1219.0 711.7h0M1222.9 711.3h0M1228.9 711.1h0M1229.7 711.7h0M1230.7 711.2h0M1274.2 711.6h0M1288.6 711.8h0M1320.0 711.2h0M1321.6 711.5h0M1345.2 711.7h0M1348.1 712.0h0M1351.5 711.9h0M1354.7 711.6h0M1357.7 711.7h0M1365.4 711.1h0M1382.5 711.0h0M1391.4 711.6h0M1395.0 711.3h0M1398.4 711.2h0M1434.4 711.8h0M1445.1 711.5h0M1447.8 711.4h0M1451.4 711.5h0M1156.2 712.2h0M1157.2 712.6h0M1162.0 712.5h0M1195.6 712.2h0M1198.4 712.9h0M1231.2 713.0h0M1250.2 712.5h0M1291.6 712.9h0M1294.0 712.6h0M1309.5 712.5h0M1312.9 712.9h0M1315.4 712.8h0M1322.7 712.6h0M1329.6 712.1h0M1348.3 712.6h0M1371.3 712.6h0M1392.7 712.7h0M1428.8 712.6h0M1433.3 712.1h0M1442.5 712.8h0M1451.3 712.6h0M1187.0 713.3h0M1216.4 714.0h0M1221.2 713.7h0M1230.7 713.7h0M1247.6 713.3h0M1253.8 713.4h0M1289.8 713.1h0M1300.9 713.5h0M1306.4 713.7h0M1317.7 713.9h0M1322.9 713.6h0M1331.5 713.2h0M1332.5 713.4h0M1348.9 713.1h0M1361.2 713.2h0M1362.2 713.2h0M1369.8 714.0h0M1370.3 713.8h0M1399.9 713.1h0M1446.4 713.1h0M1447.7 713.7h0M1155.1 714.5h0M1191.9 715.0h0M1195.1 714.3h0M1204.5 714.9h0M1209.4 714.6h0M1221.4 714.9h0M1222.5 714.4h0M1229.3 714.2h0M1243.4 714.2h0M1246.9 714.1h0M1249.9 714.8h0M1251.6 714.5h0M1257.8 714.4h0M1266.2 714.2h0M1307.9 714.2h0M1331.4 714.2h0M1340.4 714.9h0M1376.6 714.2h0M1386.8 714.1h0M1395.2 714.7h0M1429.3 714.6h0M1431.9 714.2h0M1440.3 714.4h0M1453.6 714.2h0M1151.5 715.1h0M1155.4 715.0h0M1166.9 715.4h0M1179.7 715.2h0M1191.7 715.9h0M1206.3 715.6h0M1231.3 715.6h0M1235.0 715.5h0M1241.1 715.2h0M1301.0 715.8h0M1307.2 715.9h0M1311.4 715.2h0M1339.7 715.7h0M1347.3 715.6h0M1348.1 715.5h0M1366.0 715.4h0M1369.3 715.2h0M1370.5 715.1h0M1378.4 715.6h0M1394.8 716.0h0M1398.9 715.8h0M1148.1 716.9h0M1149.4 716.0h0M1150.2 716.7h0M1151.1 716.0h0M1166.1 716.6h0M1173.1 716.5h0M1178.9 716.5h0M1181.6 716.9h0M1185.8 716.8h0M1188.8 716.1h0M1190.0 716.4h0M1194.7 716.1h0M1203.3 716.9h0M1223.1 716.6h0M1224.8 716.8h0M1230.3 716.6h0M1246.4 717.0h0M1261.2 716.8h0M1264.8 716.4h0M1302.1 716.6h0M1329.1 716.6h0M1330.7 716.5h0M1332.8 716.3h0M1336.2 716.4h0M1365.0 716.2h0M1371.0 716.3h0M1390.4 716.1h0M1395.5 716.5h0M1400.8 716.6h0M1404.8 717.0h0M1418.6 716.5h0M1424.6 716.8h0M1429.1 716.3h0M1434.6 716.2h0M1445.7 716.8h0M1454.6 716.2h0M1455.3 716.7h0M1158.7 717.3h0M1174.9 717.4h0M1179.0 717.2h0M1185.7 717.2h0M1188.2 717.2h0M1205.2 718.0h0M1206.6 717.0h0M1235.7 717.5h0M1239.9 718.0h0M1270.0 717.2h0M1301.9 717.9h0M1313.8 717.5h0M1336.2 717.7h0M1343.3 717.3h0M1356.5 717.4h0M1357.5 718.0h0M1373.6 717.4h0M1382.2 717.0h0M1398.2 717.6h0M1403.1 717.6h0M1430.2 718.0h0M1435.2 717.2h0M1160.2 718.6h0M1167.0 718.5h0M1167.5 718.9h0M1184.2 718.0h0M1191.1 718.9h0M1205.7 718.8h0M1215.8 718.3h0M1222.9 718.7h0M1223.2 718.5h0M1227.1 718.1h0M1230.2 718.9h0M1231.5 718.3h0M1235.4 718.9h0M1238.8 718.7h0M1241.8 718.8h0M1247.3 718.3h0M1306.9 718.2h0M1311.3 718.0h0M1313.8 718.0h0M1320.1 718.8h0M1328.8 718.4h0M1345.7 718.7h0M1355.9 718.3h0M1362.5 718.8h0M1366.0 718.4h0M1403.4 718.7h0M1419.7 718.8h0M1420.1 718.7h0M1431.8 718.7h0M1433.9 718.2h0M1441.6 718.3h0M1449.6 718.4h0M1144.0 719.3h0M1148.1 719.8h0M1150.5 719.0h0M1157.3 719.3h0M1162.0 719.8h0M1172.7 719.3h0M1176.2 719.5h0M1177.4 719.5h0M1179.2 719.5h0M1184.0 719.5h0M1189.7 719.4h0M1213.6 719.6h0M1225.5 719.0h0M1241.9 719.9h0M1250.0 719.1h0M1251.5 719.2h0M1256.7 719.8h0M1261.3 719.2h0M1299.6 719.1h0M1330.6 719.2h0M1339.4 719.9h0M1340.0 719.4h0M1388.3 719.9h0M1391.3 719.5h0M1401.4 719.2h0M1415.2 719.0h0M1432.6 719.5h0M1433.8 719.4h0M1444.2 719.9h0M1448.4 719.2h0M1143.0 720.3h0M1143.4 720.1h0M1145.1 720.5h0M1152.7 721.0h0M1157.6 720.9h0M1181.1 720.3h0M1211.3 720.1h0M1226.7 720.6h0M1230.9 720.4h0M1241.0 720.7h0M1242.8 720.4h0M1243.6 720.6h0M1255.5 720.9h0M1265.9 720.4h0M1266.4 720.7h0M1269.1 720.3h0M1323.1 720.1h0M1359.3 720.5h0M1360.1 720.1h0M1387.8 720.4h0M1399.6 720.6h0M1407.7 720.6h0M1434.1 720.4h0M1442.0 720.8h0M1445.4 720.1h0M1454.7 720.7h0M1457.3 721.0h0M1127.4 721.5h0M1145.2 721.5h0M1154.6 721.1h0M1155.5 721.6h0M1162.0 721.5h0M1169.8 721.2h0M1174.1 721.6h0M1178.0 721.0h0M1182.7 721.3h0M1183.1 721.7h0M1184.0 721.4h0M1189.9 721.7h0M1192.3 721.1h0M1225.6 721.8h0M1245.7 721.1h0M1264.1 721.4h0M1318.7 721.8h0M1340.6 721.2h0M1375.7 721.2h0M1380.2 721.2h0M1385.9 721.0h0M1391.3 721.3h0M1399.7 721.1h0M1430.0 721.9h0M1432.4 721.1h0M1439.0 721.4h0M1447.3 721.0h0M1147.3 722.7h0M1150.2 722.3h0M1154.7 722.5h0M1174.9 722.8h0M1176.1 722.6h0M1179.7 722.7h0M1181.4 722.5h0M1184.5 722.2h0M1207.6 722.5h0M1213.0 722.7h0M1216.7 722.4h0M1234.2 722.9h0M1244.0 722.3h0M1253.0 722.7h0M1265.0 722.5h0M1266.7 722.5h0M1362.6 722.9h0M1372.8 722.4h0M1392.4 722.9h0M1155.2 723.5h0M1175.9 723.0h0M1176.8 723.8h0M1177.3 723.1h0M1181.9 723.9h0M1222.3 723.1h0M1227.0 723.8h0M1232.4 723.1h0M1234.0 723.6h0M1243.5 723.8h0M1244.6 723.0h0M1248.0 723.4h0M1307.8 723.2h0M1323.2 723.4h0M1328.7 723.1h0M1338.4 723.6h0M1354.4 723.5h0M1378.8 723.3h0M1381.0 723.4h0M1384.9 724.0h0M1386.8 723.5h0M1388.6 723.1h0M1391.7 723.8h0M1400.6 723.2h0M1404.2 723.8h0M1143.3 724.8h0M1156.6 724.3h0M1180.3 724.5h0M1207.8 724.3h0M1209.7 724.4h0M1212.5 724.3h0M1214.0 724.6h0M1224.6 724.7h0M1230.0 724.0h0M1246.7 724.9h0M1263.1 724.1h0M1266.3 724.6h0M1272.3 724.3h0M1310.0 724.4h0M1321.1 724.5h0M1341.7 724.4h0M1368.2 724.2h0M1384.5 724.3h0M1387.5 724.4h0M1405.7 724.9h0M1406.6 724.8h0M1421.9 724.2h0M1425.6 724.5h0M1442.1 724.4h0M1452.4 724.8h0M1135.9 725.9h0M1154.1 725.3h0M1168.5 725.2h0M1176.6 725.1h0M1182.5 725.0h0M1183.1 725.6h0M1184.3 725.7h0M1194.1 725.1h0M1204.3 725.5h0M1220.1 725.2h0M1221.5 726.0h0M1233.8 725.6h0M1234.6 725.8h0M1235.3 725.8h0M1248.0 725.2h0M1265.5 725.9h0M1272.7 725.5h0M1275.3 725.0h0M1276.5 725.6h0M1338.8 725.6h0M1345.7 725.9h0M1349.4 725.4h0M1375.6 725.5h0M1388.6 725.3h0M1395.1 725.1h0M1404.9 725.6h0M1405.3 725.9h0M1443.6 725.6h0M1458.3 725.7h0M1144.5 726.4h0M1151.8 726.0h0M1155.7 726.4h0M1157.0 726.1h0M1163.4 726.4h0M1165.2 726.9h0M1172.5 726.9h0M1180.6 726.0h0M1195.5 726.1h0M1200.1 726.3h0M1205.0 726.4h0M1214.1 726.5h0M1217.9 726.8h0M1222.2 726.7h0M1257.8 726.4h0M1261.3 726.5h0M1276.0 726.5h0M1288.1 726.8h0M1322.6 726.3h0M1339.6 726.0h0M1344.1 726.7h0M1349.0 726.3h0M1383.5 726.8h0M1392.6 726.4h0M1424.8 726.7h0M1432.3 726.2h0M1441.3 726.1h0M1467.6 726.8h0M1468.5 726.7h0M1470.6 726.6h0M1134.0 727.9h0M1152.8 727.8h0M1153.6 727.1h0M1155.2 727.1h0M1163.7 727.3h0M1187.3 727.4h0M1200.3 727.0h0M1202.3 727.5h0M1203.8 727.9h0M1205.6 727.3h0M1214.4 727.4h0M1218.8 727.8h0M1221.0 727.2h0M1232.1 727.8h0M1236.7 727.7h0M1237.8 727.6h0M1257.1 727.3h0M1258.3 727.1h0M1261.6 727.2h0M1265.9 727.7h0M1341.1 727.8h0M1401.2 727.1h0M1402.8 727.9h0M1404.5 727.7h0M1406.8 727.1h0M1430.3 727.0h0M1445.9 727.0h0M1454.1 727.3h0M1133.4 728.6h0M1140.8 728.5h0M1147.1 728.1h0M1156.2 728.1h0M1163.7 728.2h0M1173.3 728.1h0M1202.7 728.3h0M1222.1 728.6h0M1223.5 728.7h0M1225.7 728.8h0M1256.7 728.2h0M1260.4 728.3h0M1283.9 728.1h0M1327.0 728.6h0M1333.8 728.2h0M1365.9 728.1h0M1370.4 728.9h0M1374.6 728.4h0M1394.9 728.2h0M1395.5 729.0h0M1407.7 728.6h0M1410.4 728.8h0M1428.2 728.0h0M1478.8 728.1h0M1480.2 728.0h0M1495.7 728.4h0M1154.0 729.7h0M1179.0 729.9h0M1188.4 729.8h0M1189.2 729.4h0M1197.7 729.2h0M1199.6 729.6h0M1206.4 729.8h0M1229.6 729.7h0M1243.5 729.6h0M1262.6 729.1h0M1276.0 729.7h0M1289.7 729.8h0M1291.9 729.9h0M1325.3 729.3h0M1340.8 729.4h0M1347.9 729.1h0M1352.8 729.1h0M1371.6 729.2h0M1379.1 729.7h0M1413.6 729.5h0M1414.7 729.0h0M1431.1 729.9h0M1482.0 729.5h0M1490.1 729.0h0M1491.1 729.1h0M1498.8 729.9h0M1143.2 730.5h0M1162.6 730.1h0M1168.2 730.8h0M1170.7 730.2h0M1174.6 730.2h0M1185.0 731.0h0M1187.8 730.1h0M1190.7 730.1h0M1206.0 730.7h0M1226.6 730.8h0M1239.9 730.9h0M1246.6 730.2h0M1260.4 730.1h0M1275.0 730.4h0M1293.8 730.7h0M1309.8 730.4h0M1313.8 730.6h0M1332.7 730.1h0M1340.7 730.5h0M1343.7 730.8h0M1345.9 730.6h0M1347.7 730.7h0M1357.8 730.4h0M1373.6 730.1h0M1376.0 730.3h0M1380.6 731.0h0M1381.1 730.7h0M1388.9 730.6h0M1390.3 730.4h0M1407.7 730.2h0M1408.1 730.3h0M1412.6 730.2h0M1433.2 730.9h0M1483.3 730.3h0M1500.6 730.8h0M1137.3 731.2h0M1144.9 731.9h0M1146.9 731.5h0M1147.3 731.2h0M1150.6 731.5h0M1160.1 731.8h0M1162.8 731.1h0M1168.0 731.6h0M1170.4 731.7h0M1172.3 731.5h0M1178.6 732.0h0M1185.1 731.8h0M1188.0 732.0h0M1201.3 731.2h0M1203.1 731.6h0M1210.7 731.4h0M1227.6 731.9h0M1229.0 731.6h0M1287.1 731.6h0M1319.5 731.9h0M1332.2 731.8h0M1335.7 731.5h0M1350.6 731.4h0M1356.6 731.9h0M1377.0 731.5h0M1378.5 731.5h0M1398.1 731.4h0M1427.5 731.6h0M1482.7 731.3h0M1483.1 731.7h0M1484.8 731.1h0M1495.3 731.7h0M1149.3 732.8h0M1162.8 732.5h0M1176.7 732.4h0M1188.5 732.0h0M1192.8 732.7h0M1201.5 732.7h0M1202.1 732.6h0M1205.3 732.7h0M1213.4 732.5h0M1226.6 732.6h0M1230.2 732.5h0M1240.2 732.4h0M1243.4 732.4h0M1258.3 732.0h0M1293.3 732.1h0M1301.2 732.9h0M1335.3 733.0h0M1338.6 732.8h0M1358.0 732.8h0M1372.3 732.0h0M1384.3 732.0h0M1393.2 732.7h0M1398.2 732.4h0M1405.6 732.9h0M1433.0 732.1h0M1458.3 732.6h0M1477.2 732.1h0M1480.3 732.8h0M1482.9 733.0h0M1494.0 732.4h0M1152.0 733.0h0M1166.4 733.6h0M1173.4 733.4h0M1175.3 733.9h0M1178.4 733.7h0M1183.0 733.5h0M1192.5 733.4h0M1193.2 733.4h0M1195.1 733.3h0M1207.2 733.5h0M1224.9 733.3h0M1227.9 733.5h0M1236.9 733.5h0M1240.3 733.8h0M1314.3 733.5h0M1317.3 733.2h0M1321.5 733.6h0M1326.8 733.3h0M1327.3 733.5h0M1348.1 733.3h0M1351.0 733.9h0M1364.8 733.2h0M1368.8 733.1h0M1369.3 733.5h0M1374.6 733.8h0M1404.2 733.2h0M1414.9 733.2h0M1424.0 733.5h0M1427.8 733.4h0M1429.7 733.8h0M1490.7 733.5h0M1492.1 733.2h0M1493.2 733.6h0M1495.0 733.0h0M1503.3 733.4h0M1150.8 734.6h0M1151.4 734.5h0M1153.1 735.0h0M1175.3 734.3h0M1190.0 734.5h0M1216.9 734.7h0M1220.0 734.5h0M1226.7 734.2h0M1233.3 734.0h0M1237.8 734.8h0M1240.2 734.0h0M1242.0 734.8h0M1300.5 734.3h0M1304.0 734.3h0M1336.2 735.0h0M1348.4 734.2h0M1358.9 734.7h0M1396.2 734.3h0M1405.4 734.8h0M1407.8 734.3h0M1416.8 734.0h0M1449.2 734.0h0M1479.8 734.9h0M1482.7 734.8h0M1496.2 734.2h0M1497.3 734.2h0M1502.0 735.0h0M1503.9 734.1h0M1506.1 734.9h0M1507.0 734.9h0M1157.9 735.4h0M1168.3 735.4h0M1181.6 735.8h0M1184.0 735.4h0M1188.6 735.6h0M1195.3 736.0h0M1223.0 735.1h0M1227.9 735.9h0M1235.7 735.2h0M1250.4 735.8h0M1261.2 735.6h0M1274.8 735.7h0M1285.3 735.4h0M1296.7 735.1h0M1303.6 735.5h0M1319.8 735.4h0M1368.4 735.9h0M1373.7 735.2h0M1385.5 735.5h0M1390.1 735.7h0M1393.9 736.0h0M1404.7 735.5h0M1408.4 735.7h0M1437.9 735.2h0M1493.6 735.2h0M1495.9 735.0h0M1500.1 735.8h0M1501.8 735.6h0M1171.2 737.0h0M1176.3 736.6h0M1180.4 736.9h0M1183.7 736.4h0M1187.8 736.9h0M1198.2 736.5h0M1201.0 736.7h0M1219.6 736.4h0M1236.8 736.4h0M1237.9 736.7h0M1246.1 736.1h0M1255.5 736.3h0M1271.5 736.3h0M1290.5 736.6h0M1297.0 736.8h0M1306.2 736.2h0M1327.3 736.4h0M1328.4 737.0h0M1331.9 736.2h0M1337.3 736.6h0M1362.3 736.1h0M1368.2 736.2h0M1369.7 736.5h0M1371.7 736.6h0M1374.3 736.7h0M1392.9 736.2h0M1404.8 736.2h0M1406.8 736.3h0M1417.0 736.6h0M1431.7 736.5h0M1483.3 736.9h0M1495.9 736.9h0M1499.5 736.7h0M1501.0 736.1h0M1504.4 736.5h0M1509.7 736.4h0M1146.6 737.6h0M1152.4 737.8h0M1153.8 737.3h0M1154.4 737.1h0M1186.5 737.2h0M1193.2 737.0h0M1196.2 737.8h0M1204.5 737.8h0M1207.5 737.1h0M1212.0 737.7h0M1215.6 737.7h0M1227.2 737.3h0M1229.8 737.6h0M1247.7 737.6h0M1261.8 737.1h0M1285.0 737.7h0M1320.5 737.8h0M1323.6 737.9h0M1331.1 737.8h0M1338.2 737.4h0M1351.0 738.0h0M1362.4 737.3h0M1368.9 738.0h0M1389.9 737.5h0M1392.1 737.1h0M1398.7 737.1h0M1403.8 737.4h0M1407.5 738.0h0M1411.5 737.0h0M1428.9 737.5h0M1488.1 737.2h0M1505.9 737.9h0M1509.3 737.6h0M1142.3 738.2h0M1143.2 738.7h0M1148.4 738.8h0M1151.6 738.6h0M1155.3 738.5h0M1176.0 738.0h0M1178.1 738.2h0M1188.4 738.4h0M1203.8 738.8h0M1209.9 738.9h0M1215.7 738.6h0M1223.4 738.9h0M1225.6 738.7h0M1241.2 738.5h0M1242.6 738.3h0M1249.3 738.7h0M1251.2 738.2h0M1253.7 738.8h0M1255.4 738.1h0M1262.3 738.0h0M1269.7 739.0h0M1272.4 738.8h0M1280.1 738.5h0M1303.5 738.0h0M1322.7 738.3h0M1341.3 738.7h0M1344.2 738.1h0M1346.7 738.4h0M1374.6 738.7h0M1377.3 738.1h0M1417.5 739.0h0M1490.9 738.0h0M1491.8 738.0h0M1499.7 738.2h0M1501.6 738.3h0M1139.8 739.2h0M1169.3 739.7h0M1172.5 740.0h0M1173.0 739.7h0M1175.2 739.2h0M1184.6 739.7h0M1192.9 739.9h0M1201.1 739.8h0M1211.9 739.9h0M1213.8 739.5h0M1215.7 739.8h0M1220.0 739.8h0M1226.3 739.0h0M1230.5 739.2h0M1231.5 739.8h0M1245.1 739.6h0M1248.8 739.5h0M1252.6 739.5h0M1257.8 739.7h0M1261.4 739.1h0M1263.6 739.2h0M1340.0 739.3h0M1341.6 739.0h0M1348.9 739.3h0M1365.1 739.1h0M1391.5 739.4h0M1396.3 739.7h0M1413.2 739.4h0M1414.0 739.2h0M1452.7 739.2h0M1482.6 739.9h0M1484.6 740.0h0M1488.9 739.1h0M1496.1 739.4h0M1508.7 739.9h0M1140.4 740.5h0M1161.4 740.3h0M1181.6 740.6h0M1182.4 740.7h0M1184.4 740.8h0M1188.7 740.5h0M1191.9 740.1h0M1205.8 740.5h0M1214.0 740.4h0M1224.4 740.7h0M1233.7 740.2h0M1239.6 740.2h0M1241.0 740.3h0M1244.5 740.2h0M1245.9 740.5h0M1263.3 740.7h0M1264.0 740.4h0M1311.9 740.6h0M1330.9 740.3h0M1334.0 740.9h0M1345.1 740.7h0M1346.4 740.4h0M1363.1 740.9h0M1386.2 740.6h0M1405.1 740.3h0M1407.6 740.2h0M1408.7 740.5h0M1486.4 740.7h0M1492.2 740.9h0M1493.1 740.1h0M1498.4 740.1h0M1503.9 740.5h0M1162.2 741.4h0M1169.0 741.2h0M1169.7 741.1h0M1177.3 741.9h0M1180.7 741.5h0M1185.8 741.9h0M1202.6 741.7h0M1208.2 741.2h0M1213.1 741.9h0M1218.3 741.3h0M1233.8 741.9h0M1236.6 741.3h0M1238.3 741.7h0M1242.5 741.9h0M1251.5 741.1h0M1256.9 741.6h0M1258.2 741.3h0M1292.2 741.0h0M1305.9 741.1h0M1313.1 741.8h0M1336.5 742.0h0M1343.1 742.0h0M1365.7 741.8h0M1386.1 741.1h0M1397.5 741.0h0M1405.8 742.0h0M1407.2 741.8h0M1413.3 741.5h0M1414.1 741.2h0M1417.9 741.5h0M1420.5 741.0h0M1424.9 741.7h0M1427.4 742.0h0M1491.9 742.0h0M1496.6 741.9h0M1502.9 741.1h0M1504.1 741.3h0M1142.3 742.2h0M1143.6 743.0h0M1144.5 742.7h0M1146.3 742.5h0M1163.9 742.3h0M1164.8 742.5h0M1173.0 742.1h0M1173.9 742.8h0M1174.6 742.8h0M1184.3 742.1h0M1206.4 742.1h0M1208.1 742.1h0M1213.3 742.5h0M1214.4 742.1h0M1229.9 742.1h0M1233.6 742.7h0M1249.9 742.4h0M1263.4 742.3h0M1267.3 742.2h0M1283.4 742.5h0M1324.7 742.4h0M1337.1 742.5h0M1348.9 742.8h0M1409.6 742.3h0M1480.1 742.2h0M1501.0 742.5h0M1145.6 743.5h0M1159.7 743.2h0M1173.9 744.0h0M1176.8 743.5h0M1179.1 744.0h0M1181.4 743.2h0M1188.4 743.3h0M1189.1 743.1h0M1193.2 743.2h0M1199.2 743.9h0M1206.9 743.5h0M1207.7 743.3h0M1208.4 743.9h0M1229.8 743.7h0M1233.6 743.1h0M1237.2 743.3h0M1250.7 743.4h0M1258.3 743.3h0M1261.2 743.5h0M1271.8 743.7h0M1300.4 743.7h0M1338.9 743.7h0M1349.6 743.1h0M1399.4 743.5h0M1431.6 743.0h0M1434.3 743.2h0M1483.6 743.3h0M1489.6 743.7h0M1504.5 743.6h0M1152.3 744.6h0M1155.5 744.4h0M1158.0 744.5h0M1160.6 744.7h0M1166.7 744.6h0M1167.8 744.4h0M1169.8 744.7h0M1184.7 744.5h0M1193.5 744.3h0M1194.3 744.8h0M1195.6 744.6h0M1205.4 744.9h0M1231.2 744.3h0M1236.9 744.2h0M1238.0 744.5h0M1239.9 745.0h0M1249.4 744.7h0M1250.8 744.4h0M1259.8 744.7h0M1261.8 744.2h0M1265.4 744.0h0M1292.0 744.6h0M1294.7 744.8h0M1308.0 744.0h0M1309.7 744.2h0M1313.5 744.2h0M1328.5 744.5h0M1329.2 744.6h0M1330.6 744.1h0M1331.5 744.4h0M1342.7 744.3h0M1361.0 744.7h0M1427.4 744.1h0M1434.7 744.0h0M1470.8 744.4h0M1488.5 744.0h0M1491.7 744.9h0M1497.5 744.1h0M1501.2 744.6h0M1154.7 745.6h0M1155.1 745.3h0M1159.1 745.0h0M1164.6 745.6h0M1166.6 745.4h0M1175.0 745.3h0M1177.4 745.3h0M1181.8 745.1h0M1195.0 745.4h0M1200.4 745.3h0M1218.9 745.9h0M1222.5 745.8h0M1227.3 745.7h0M1228.9 745.2h0M1229.5 745.9h0M1230.4 745.0h0M1254.2 745.6h0M1264.8 745.4h0M1285.1 745.2h0M1352.6 745.6h0M1387.8 745.4h0M1398.0 745.8h0M1408.5 745.3h0M1419.7 745.2h0M1481.0 745.1h0M1482.8 745.3h0M1486.0 745.0h0M1503.4 745.0h0M1142.5 746.0h0M1144.3 746.3h0M1154.8 746.7h0M1167.5 746.2h0M1200.0 746.2h0M1203.1 746.7h0M1204.8 746.3h0M1225.8 746.0h0M1235.6 746.6h0M1259.0 746.9h0M1281.8 746.7h0M1410.5 746.1h0M1422.7 746.8h0M1470.3 746.8h0M1480.7 746.2h0M1489.0 746.7h0M1492.8 746.3h0M1498.4 746.6h0M1499.1 746.4h0M1142.8 747.4h0M1153.2 747.7h0M1174.2 747.7h0M1188.0 747.8h0M1193.7 747.1h0M1200.4 747.5h0M1202.3 747.4h0M1209.0 747.9h0M1209.2 747.9h0M1217.0 747.3h0M1218.6 747.7h0M1231.7 747.8h0M1238.4 747.2h0M1243.0 747.6h0M1248.6 747.9h0M1251.8 747.1h0M1254.8 747.6h0M1261.7 748.0h0M1262.2 747.2h0M1264.9 747.3h0M1340.6 747.2h0M1347.4 747.2h0M1364.8 747.7h0M1367.9 747.8h0M1398.3 747.8h0M1403.2 747.3h0M1407.4 747.7h0M1415.9 747.6h0M1416.5 747.5h0M1418.6 747.0h0M1428.7 747.3h0M1487.3 747.1h0M1494.2 747.2h0M1499.4 747.9h0M1140.4 748.2h0M1145.6 748.9h0M1147.5 748.6h0M1148.3 748.8h0M1153.2 748.4h0M1155.1 748.2h0M1156.9 748.1h0M1160.6 748.9h0M1161.9 748.4h0M1169.7 749.0h0M1178.4 748.5h0M1188.7 748.2h0M1190.1 748.0h0M1209.8 748.1h0M1212.6 749.0h0M1214.5 748.9h0M1228.3 748.5h0M1232.5 748.1h0M1233.5 748.2h0M1234.8 748.1h0M1236.6 748.9h0M1240.6 748.3h0M1257.8 748.4h0M1310.7 748.0h0M1334.2 748.2h0M1340.5 748.1h0M1343.1 748.1h0M1345.9 748.3h0M1359.7 748.5h0M1363.4 748.6h0M1387.8 748.5h0M1398.3 748.1h0M1402.5 748.3h0M1405.7 748.2h0M1480.2 748.1h0M1492.6 748.4h0M1497.8 748.4h0M1502.8 748.3h0M1150.6 749.3h0M1153.0 749.6h0M1158.8 749.3h0M1170.5 750.0h0M1174.9 749.3h0M1178.3 749.9h0M1185.1 749.8h0M1195.7 749.9h0M1200.2 749.6h0M1201.3 749.7h0M1202.3 749.9h0M1211.8 749.6h0M1214.0 749.0h0M1214.1 749.4h0M1218.6 749.7h0M1221.6 749.6h0M1224.7 749.0h0M1227.8 749.2h0M1255.8 749.9h0M1360.4 749.8h0M1376.5 749.6h0M1382.4 749.4h0M1398.8 749.4h0M1420.4 749.9h0M1425.5 749.5h0M1145.7 750.1h0M1147.1 750.4h0M1158.5 750.2h0M1166.0 750.5h0M1167.2 751.0h0M1168.3 750.3h0M1174.3 750.8h0M1175.6 751.0h0M1177.4 750.3h0M1179.9 750.4h0M1193.5 750.5h0M1199.5 750.2h0M1200.5 750.1h0M1206.3 750.0h0M1211.4 750.0h0M1218.6 750.4h0M1255.0 750.7h0M1260.0 750.7h0M1261.0 750.4h0M1266.8 750.4h0M1276.2 750.2h0M1331.9 750.4h0M1349.2 750.3h0M1351.7 750.0h0M1354.3 750.4h0M1361.7 750.5h0M1371.8 750.6h0M1382.3 750.1h0M1394.6 750.9h0M1398.6 750.3h0M1485.4 750.4h0M1486.4 750.2h0M1154.4 751.1h0M1156.7 751.9h0M1160.1 751.8h0M1164.6 751.7h0M1174.0 751.1h0M1183.2 751.4h0M1189.0 751.1h0M1196.0 751.4h0M1197.9 751.9h0M1210.7 751.1h0M1246.8 751.8h0M1255.2 751.8h0M1258.1 752.0h0M1262.0 751.1h0M1280.6 751.9h0M1287.7 751.6h0M1319.8 752.0h0M1336.1 751.7h0M1341.2 751.4h0M1344.2 751.2h0M1354.2 751.8h0M1362.7 751.2h0M1377.2 751.6h0M1396.8 751.3h0M1405.4 751.3h0M1409.2 751.8h0M1415.1 751.3h0M1494.0 751.7h0M1496.3 751.0h0M1497.4 751.5h0M1498.9 751.1h0M1149.9 752.2h0M1167.8 752.9h0M1172.2 752.7h0M1178.4 752.7h0M1180.9 752.2h0M1183.0 752.3h0M1196.4 752.9h0M1197.5 752.5h0M1198.5 752.9h0M1210.1 752.9h0M1224.6 752.4h0M1225.5 752.1h0M1229.9 752.1h0M1236.2 752.9h0M1261.8 752.4h0M1270.5 752.5h0M1292.9 752.4h0M1336.6 752.3h0M1353.0 752.4h0M1359.2 752.4h0M1371.9 752.6h0M1378.6 752.2h0M1391.0 752.2h0M1396.5 752.4h0M1397.5 752.6h0M1414.6 752.9h0M1429.7 752.4h0M1479.2 752.1h0M1482.1 752.0h0M1483.3 752.9h0M1487.2 752.7h0M1496.9 752.5h0M1498.1 752.9h0M1144.6 753.2h0M1147.5 753.5h0M1149.8 753.4h0M1150.6 753.3h0M1151.4 753.6h0M1161.9 753.5h0M1166.5 753.9h0M1169.2 754.0h0M1170.0 753.7h0M1171.9 753.6h0M1174.2 753.5h0M1186.2 753.3h0M1197.7 753.3h0M1201.4 753.4h0M1206.3 753.4h0M1215.6 753.1h0M1217.4 753.7h0M1219.6 753.2h0M1222.7 753.0h0M1223.0 753.4h0M1233.1 753.8h0M1237.6 753.4h0M1254.8 753.8h0M1264.3 753.2h0M1321.6 753.5h0M1328.2 753.2h0M1363.9 753.2h0M1372.5 753.3h0M1380.9 753.6h0M1394.0 753.4h0M1397.4 753.2h0M1403.9 753.2h0M1430.0 753.1h0M1482.6 753.6h0M1491.6 753.4h0M1140.8 754.2h0M1146.8 754.1h0M1171.7 754.6h0M1174.2 754.7h0M1180.3 754.8h0M1189.5 754.1h0M1196.0 754.2h0M1198.6 754.7h0M1199.8 754.2h0M1210.7 754.3h0M1211.0 755.0h0M1212.5 754.6h0M1218.8 754.0h0M1228.1 754.3h0M1236.5 754.4h0M1246.8 754.6h0M1261.0 754.3h0M1312.1 755.0h0M1377.6 754.6h0M1383.1 754.8h0M1389.0 754.7h0M1459.3 754.6h0M1499.6 754.7h0M1500.9 754.2h0M1153.5 755.1h0M1179.4 755.6h0M1181.1 755.4h0M1182.9 755.7h0M1197.8 755.2h0M1208.6 755.6h0M1227.0 755.7h0M1228.8 755.9h0M1232.4 755.4h0M1235.9 755.0h0M1303.8 755.1h0M1318.0 755.6h0M1350.2 755.6h0M1382.4 755.7h0M1395.9 755.6h0M1400.7 755.8h0M1404.8 755.0h0M1406.7 755.7h0M1484.6 755.5h0M1493.9 755.7h0M1500.7 755.8h0M1140.8 756.2h0M1141.1 756.9h0M1142.3 756.9h0M1144.6 756.8h0M1162.1 756.6h0M1168.2 756.8h0M1170.2 756.1h0M1175.3 756.9h0M1178.1 756.1h0M1185.4 756.2h0M1198.7 756.9h0M1209.4 756.5h0M1215.9 756.2h0M1235.6 756.9h0M1236.9 756.4h0M1285.5 756.7h0M1358.5 756.0h0M1379.4 756.9h0M1384.3 756.5h0M1385.7 756.9h0M1388.7 756.0h0M1397.1 756.3h0M1402.8 756.6h0M1409.7 756.3h0M1412.2 756.5h0M1440.1 756.1h0M1482.7 756.2h0M1492.9 756.6h0M1498.5 756.5h0M1499.7 757.0h0M1139.1 757.5h0M1145.0 757.6h0M1160.9 757.5h0M1170.0 757.6h0M1175.4 757.7h0M1177.4 757.8h0M1182.0 757.7h0M1197.9 757.7h0M1199.4 757.3h0M1200.5 757.5h0M1211.9 757.3h0M1232.8 757.7h0M1252.6 757.8h0M1253.5 757.1h0M1261.6 757.7h0M1263.5 757.9h0M1296.5 757.5h0M1344.0 757.2h0M1362.8 757.5h0M1383.9 758.0h0M1387.4 757.4h0M1391.6 757.1h0M1392.3 757.8h0M1398.8 757.8h0M1485.6 757.1h0M1495.7 757.6h0M1498.8 757.4h0M1142.9 758.9h0M1166.4 758.5h0M1174.8 758.6h0M1182.7 759.0h0M1185.1 758.4h0M1187.2 758.3h0M1216.2 758.5h0M1222.1 758.2h0M1223.1 758.8h0M1236.7 758.6h0M1251.1 758.6h0M1253.4 758.0h0M1254.3 758.3h0M1263.5 758.8h0M1302.7 758.1h0M1309.0 758.2h0M1346.6 758.6h0M1350.7 758.4h0M1366.8 758.6h0M1367.3 758.8h0M1381.5 758.7h0M1388.5 758.4h0M1398.2 758.9h0M1404.7 758.8h0M1463.4 758.0h0M1481.3 758.6h0M1483.6 758.3h0M1160.0 759.5h0M1165.9 759.8h0M1169.1 759.6h0M1176.3 759.6h0M1177.1 759.8h0M1178.7 759.2h0M1182.1 759.5h0M1186.9 759.9h0M1192.6 759.7h0M1200.2 759.4h0M1239.7 759.2h0M1246.5 759.9h0M1354.1 759.7h0M1356.5 760.0h0M1359.0 759.6h0M1364.0 759.3h0M1392.9 759.6h0M1394.7 759.7h0M1404.7 759.8h0M1428.0 759.4h0M1430.3 759.0h0M1443.3 759.7h0M1484.5 759.2h0M1485.1 759.9h0M1142.4 760.7h0M1185.9 760.4h0M1211.2 760.4h0M1221.7 760.4h0M1222.2 760.0h0M1226.7 760.2h0M1238.9 760.0h0M1263.4 760.9h0M1303.5 760.6h0M1306.4 760.7h0M1334.1 760.9h0M1340.1 760.1h0M1352.5 760.6h0M1354.7 760.3h0M1396.1 760.8h0M1404.5 760.4h0M1485.0 760.0h0M1147.7 761.3h0M1166.8 761.3h0M1167.1 761.2h0M1180.5 761.7h0M1202.3 761.3h0M1204.1 761.7h0M1215.6 761.2h0M1221.3 761.4h0M1223.4 761.7h0M1227.0 762.0h0M1235.6 761.4h0M1246.5 761.4h0M1249.3 761.8h0M1252.9 761.7h0M1264.2 761.1h0M1304.8 761.7h0M1359.9 761.8h0M1361.1 761.3h0M1370.2 762.0h0M1394.8 761.2h0M1403.2 761.4h0M1406.6 761.1h0M1159.9 762.1h0M1168.8 762.3h0M1175.3 762.2h0M1183.3 762.9h0M1186.7 762.4h0M1187.1 762.3h0M1198.3 762.1h0M1201.3 762.1h0M1202.0 762.7h0M1222.7 762.1h0M1239.2 762.8h0M1240.4 762.6h0M1245.3 762.9h0M1268.1 763.0h0M1304.9 762.8h0M1321.5 762.2h0M1349.6 762.4h0M1364.7 762.9h0M1431.2 762.3h0M1477.5 762.1h0M1493.5 762.7h0M1145.1 763.3h0M1168.8 763.4h0M1191.1 763.8h0M1194.2 763.6h0M1203.2 763.4h0M1204.5 763.5h0M1226.1 763.2h0M1230.0 763.7h0M1233.0 763.8h0M1233.1 763.1h0M1235.3 763.5h0M1242.5 763.1h0M1247.4 763.6h0M1275.5 763.4h0M1303.8 763.1h0M1364.3 763.0h0M1365.3 763.7h0M1376.2 763.0h0M1381.8 763.7h0M1385.5 763.2h0M1392.8 763.9h0M1398.1 763.5h0M1423.3 763.7h0M1436.7 763.4h0M1494.6 763.0h0M1168.6 764.2h0M1171.8 765.0h0M1174.4 764.1h0M1181.5 764.7h0M1185.2 764.1h0M1190.1 764.3h0M1194.4 764.9h0M1196.4 764.1h0M1201.1 764.7h0M1209.9 765.0h0M1217.5 764.6h0M1226.5 764.9h0M1229.2 764.5h0M1231.5 764.4h0M1241.2 764.5h0M1243.7 764.0h0M1350.0 764.3h0M1354.6 764.2h0M1357.4 764.4h0M1358.4 764.9h0M1390.9 764.1h0M1394.4 764.7h0M1434.1 764.4h0M1452.9 764.7h0M1469.0 764.6h0M1475.3 764.7h0M1151.4 765.5h0M1174.6 765.4h0M1187.6 765.2h0M1188.1 765.5h0M1221.9 765.1h0M1255.8 765.3h0M1301.1 765.6h0M1363.0 765.4h0M1377.9 765.8h0M1379.8 766.0h0M1472.3 765.7h0M1493.5 765.8h0M1159.0 766.8h0M1173.0 766.1h0M1176.7 766.8h0M1178.7 766.7h0M1183.8 766.7h0M1196.7 766.4h0M1197.7 766.9h0M1212.0 766.4h0M1212.5 766.3h0M1213.2 766.5h0M1214.2 766.5h0M1233.0 766.1h0M1242.3 766.1h0M1244.3 766.6h0M1246.3 766.6h0M1247.2 766.7h0M1254.1 766.6h0M1262.4 766.3h0M1344.2 766.8h0M1378.2 767.0h0M1388.7 766.5h0M1391.0 766.2h0M1393.2 766.8h0M1426.4 766.6h0M1434.7 766.2h0M1436.1 766.3h0M1439.7 766.9h0M1478.5 766.5h0M1488.7 766.4h0M1492.3 766.9h0M1153.5 767.6h0M1175.2 767.7h0M1176.7 767.7h0M1184.2 767.5h0M1189.6 767.1h0M1193.8 767.3h0M1206.7 767.4h0M1214.5 767.0h0M1219.7 767.4h0M1245.2 767.1h0M1247.6 767.2h0M1252.3 767.8h0M1254.5 767.7h0M1256.8 767.7h0M1339.2 767.4h0M1340.0 767.5h0M1345.3 767.6h0M1362.3 767.9h0M1377.2 767.4h0M1388.1 767.5h0M1467.9 767.1h0M1476.6 768.0h0M1479.7 767.2h0M1484.9 767.7h0M1505.6 767.5h0M1187.6 768.0h0M1198.9 768.6h0M1209.4 768.9h0M1223.8 768.5h0M1241.4 768.4h0M1260.1 768.5h0M1271.3 768.8h0M1318.7 768.6h0M1331.3 768.7h0M1336.4 768.6h0M1337.7 768.6h0M1340.9 768.9h0M1360.4 768.6h0M1369.9 768.1h0M1370.6 768.3h0M1375.1 768.5h0M1400.3 768.9h0M1401.8 768.3h0M1420.0 768.6h0M1434.7 768.6h0M1469.2 768.4h0M1472.8 768.5h0M1475.2 768.7h0M1479.1 768.4h0M1485.9 768.0h0M1489.3 768.4h0M1505.0 768.7h0M1151.6 769.2h0M1153.1 769.6h0M1183.1 769.7h0M1189.1 769.6h0M1194.7 769.6h0M1195.3 769.2h0M1199.2 769.3h0M1208.5 769.6h0M1210.1 769.7h0M1222.7 769.1h0M1230.8 769.7h0M1235.9 769.8h0M1237.2 769.6h0M1238.3 769.2h0M1245.8 769.2h0M1322.9 769.6h0M1331.1 769.9h0M1335.5 769.5h0M1349.1 769.4h0M1362.6 769.3h0M1374.7 769.9h0M1379.1 769.6h0M1391.3 769.5h0M1392.9 769.5h0M1397.9 769.8h0M1399.0 769.6h0M1423.1 769.3h0M1434.6 769.1h0M1437.5 769.1h0M1474.5 769.8h0M1491.6 769.1h0M1153.9 771.0h0M1182.5 770.1h0M1183.9 770.3h0M1186.9 770.8h0M1194.0 770.9h0M1196.7 770.0h0M1203.9 770.3h0M1204.5 770.9h0M1206.2 770.6h0M1207.8 770.4h0M1248.2 770.5h0M1251.2 770.9h0M1254.9 770.9h0M1299.1 770.3h0M1309.6 770.7h0M1315.1 770.8h0M1321.5 770.1h0M1334.8 770.7h0M1335.2 770.4h0M1341.7 770.2h0M1343.5 770.8h0M1364.9 770.4h0M1384.9 771.0h0M1386.2 770.5h0M1403.5 770.6h0M1438.8 770.2h0M1441.1 770.1h0M1467.6 770.1h0M1153.2 771.7h0M1157.4 771.2h0M1175.4 771.6h0M1183.9 771.6h0M1195.0 771.5h0M1210.8 771.2h0M1219.4 771.5h0M1229.5 771.6h0M1231.4 771.7h0M1243.9 771.9h0M1251.0 771.3h0M1253.2 771.2h0M1258.7 772.0h0M1333.8 771.1h0M1339.9 771.9h0M1340.5 771.2h0M1341.6 771.9h0M1347.4 771.3h0M1348.4 771.2h0M1367.9 771.3h0M1394.5 771.6h0M1396.9 771.5h0M1402.1 772.0h0M1420.1 772.0h0M1477.9 771.3h0M1481.4 771.8h0M1490.7 771.3h0M1160.3 772.1h0M1211.8 772.6h0M1224.7 772.0h0M1231.6 772.3h0M1234.3 772.2h0M1238.0 772.2h0M1238.0 772.9h0M1239.8 772.4h0M1246.4 772.2h0M1250.9 772.2h0M1254.6 772.1h0M1258.6 772.3h0M1307.6 772.1h0M1325.0 772.2h0M1326.7 772.5h0M1345.6 772.8h0M1350.9 773.0h0M1355.4 772.3h0M1420.3 772.5h0M1430.3 772.8h0M1431.6 772.6h0M1433.6 772.9h0M1439.8 772.8h0M1477.8 772.0h0M1485.1 772.6h0M1486.9 772.9h0M1488.7 772.7h0M1493.7 773.0h0M1159.2 773.2h0M1175.2 773.6h0M1209.2 773.7h0M1215.9 773.4h0M1216.8 773.7h0M1224.6 773.9h0M1230.3 773.7h0M1231.8 773.9h0M1243.8 773.9h0M1247.1 773.7h0M1250.7 773.2h0M1258.2 773.4h0M1274.2 773.5h0M1321.7 773.4h0M1332.0 773.8h0M1341.4 773.6h0M1365.5 773.8h0M1372.9 773.9h0M1422.4 773.3h0M1469.0 773.8h0M1472.5 773.6h0M1499.6 773.9h0M1155.7 774.1h0M1162.9 774.8h0M1173.7 775.0h0M1189.2 774.9h0M1199.0 774.1h0M1209.3 774.5h0M1214.0 774.1h0M1220.4 774.2h0M1226.4 774.4h0M1259.8 774.6h0M1285.9 774.4h0M1318.6 774.1h0M1333.0 774.0h0M1333.7 774.3h0M1334.2 774.9h0M1339.7 774.2h0M1358.7 774.8h0M1369.2 774.8h0M1400.5 774.0h0M1406.5 774.4h0M1408.9 774.9h0M1428.1 774.2h0M1444.6 774.6h0M1479.8 774.6h0M1494.6 774.1h0M1234.2 775.7h0M1236.0 775.2h0M1240.6 775.9h0M1250.2 775.7h0M1251.2 775.1h0M1324.4 775.0h0M1353.2 775.8h0M1385.6 775.9h0M1404.9 775.2h0M1422.1 775.6h0M1424.2 775.1h0M1465.6 775.4h0M1467.3 775.7h0M1494.3 775.1h0M1496.6 776.0h0M1190.4 776.5h0M1193.9 776.0h0M1197.8 776.7h0M1211.8 776.1h0M1215.8 776.5h0M1222.6 776.2h0M1225.9 776.0h0M1239.7 776.7h0M1249.6 776.4h0M1331.9 776.0h0M1346.0 776.1h0M1347.8 776.3h0M1349.2 776.1h0M1360.7 776.9h0M1371.2 776.1h0M1375.2 776.9h0M1428.5 776.1h0M1437.1 776.8h0M1438.1 776.7h0M1441.0 776.6h0M1444.2 776.4h0M1468.4 776.4h0M1487.4 776.6h0M1220.4 777.4h0M1229.4 777.1h0M1231.7 777.2h0M1238.2 777.7h0M1239.7 777.5h0M1243.2 777.2h0M1261.3 777.8h0M1359.8 777.8h0M1365.2 777.8h0M1369.5 777.5h0M1371.9 777.4h0M1390.1 778.0h0M1405.6 777.7h0M1407.8 777.2h0M1409.1 777.3h0M1411.4 777.8h0M1423.1 777.7h0M1426.4 777.9h0M1455.1 777.1h0M1466.3 777.2h0M1469.7 777.0h0M1472.0 777.3h0M1482.2 777.9h0M1484.9 777.9h0M1486.0 777.9h0M1486.8 777.0h0M1487.8 777.5h0M1495.7 777.5h0M1201.6 778.9h0M1207.1 778.6h0M1229.2 778.5h0M1233.2 778.6h0M1245.2 778.2h0M1322.6 778.6h0M1330.7 778.7h0M1344.2 778.3h0M1364.0 778.7h0M1371.4 778.3h0M1406.7 778.7h0M1407.3 778.8h0M1416.0 778.1h0M1431.5 778.8h0M1443.5 779.0h0M1444.2 778.5h0M1451.7 778.6h0M1459.3 778.3h0M1478.5 778.8h0M1493.6 778.7h0M1207.4 779.2h0M1212.3 779.4h0M1243.0 779.0h0M1278.3 779.5h0M1331.8 779.6h0M1337.6 779.1h0M1344.7 779.6h0M1359.1 779.0h0M1360.9 779.3h0M1366.0 779.0h0M1370.8 779.2h0M1375.6 779.8h0M1403.9 779.6h0M1408.4 779.4h0M1435.6 779.5h0M1487.9 779.2h0M1172.4 780.7h0M1209.8 780.2h0M1210.2 780.5h0M1215.7 780.7h0M1226.9 780.5h0M1236.2 780.1h0M1239.6 780.1h0M1240.5 780.8h0M1241.9 780.5h0M1258.6 780.9h0M1341.4 780.6h0M1349.5 780.8h0M1362.0 780.1h0M1372.1 780.1h0M1403.8 780.4h0M1407.2 780.8h0M1411.2 780.7h0M1420.0 780.1h0M1440.1 780.9h0M1456.2 780.8h0M1471.9 780.9h0M1475.1 780.9h0M1477.4 780.6h0M1481.7 780.2h0M1495.3 780.3h0M1499.3 780.4h0M1172.7 782.0h0M1208.4 781.4h0M1209.7 781.6h0M1218.0 781.9h0M1218.9 781.5h0M1233.2 781.5h0M1234.1 781.1h0M1243.5 781.3h0M1329.3 782.0h0M1332.5 781.9h0M1334.8 781.3h0M1346.4 781.9h0M1349.3 781.3h0M1350.1 781.1h0M1362.2 781.9h0M1364.2 781.3h0M1365.6 781.4h0M1402.6 781.0h0M1418.5 781.3h0M1420.4 781.3h0M1424.7 781.7h0M1429.8 781.6h0M1433.7 781.9h0M1437.1 781.9h0M1441.8 781.9h0M1458.3 781.1h0M1459.5 781.7h0M1493.6 781.6h0M1209.0 782.8h0M1213.0 782.7h0M1214.5 782.1h0M1224.0 782.8h0M1241.8 782.2h0M1242.5 782.7h0M1254.5 782.1h0M1255.7 782.9h0M1323.8 782.0h0M1327.8 782.3h0M1334.1 782.3h0M1335.7 782.3h0M1338.1 782.2h0M1351.6 782.8h0M1359.5 782.2h0M1365.9 782.3h0M1367.9 783.0h0M1372.0 782.7h0M1375.9 782.1h0M1380.8 782.4h0M1397.4 782.6h0M1414.8 782.1h0M1429.7 782.4h0M1430.1 782.9h0M1436.7 782.7h0M1439.9 782.5h0M1442.7 782.0h0M1451.7 782.9h0M1482.7 782.7h0M1485.0 782.9h0M1489.8 782.5h0M1210.3 783.1h0M1231.9 783.9h0M1250.1 783.3h0M1257.3 783.4h0M1258.0 783.4h0M1292.4 783.3h0M1338.9 783.3h0M1341.6 783.1h0M1346.3 783.2h0M1360.6 783.8h0M1372.4 783.7h0M1373.3 783.0h0M1376.7 783.1h0M1392.7 783.8h0M1396.3 783.8h0M1398.6 783.3h0M1399.6 783.2h0M1423.2 783.3h0M1454.4 783.4h0M1455.2 783.4h0M1459.9 783.8h0M1467.6 783.5h0M1474.1 783.3h0M1218.1 784.3h0M1220.5 784.4h0M1238.4 784.8h0M1243.5 784.7h0M1247.6 784.4h0M1285.2 784.1h0M1322.3 784.2h0M1329.2 784.2h0M1344.7 784.6h0M1350.8 784.8h0M1389.9 784.5h0M1406.0 784.5h0M1409.9 784.7h0M1418.8 784.3h0M1424.8 784.2h0M1426.6 784.2h0M1428.5 784.5h0M1430.2 784.6h0M1432.2 784.3h0M1444.1 784.8h0M1454.7 784.5h0M1468.1 784.9h0M1470.4 784.6h0M1471.0 784.0h0M1475.7 784.9h0M1486.4 784.5h0M1491.5 784.1h0M1213.6 785.5h0M1215.2 785.7h0M1229.6 785.4h0M1246.2 785.1h0M1327.0 785.4h0M1340.8 785.9h0M1343.0 785.5h0M1344.6 785.4h0M1346.5 785.6h0M1356.5 785.0h0M1358.8 786.0h0M1367.4 785.7h0M1369.9 785.3h0M1372.7 785.6h0M1376.5 785.4h0M1380.6 786.0h0M1388.2 785.7h0M1395.8 785.1h0M1396.4 785.6h0M1400.1 785.6h0M1402.1 785.4h0M1406.4 785.8h0M1409.4 785.4h0M1413.4 785.0h0M1435.7 785.4h0M1451.1 785.5h0M1455.7 785.3h0M1462.8 785.2h0M1465.2 785.7h0M1467.5 785.7h0M1473.1 785.3h0M1477.0 785.1h0M1482.5 785.8h0M1498.3 785.1h0M1213.9 786.5h0M1222.1 786.1h0M1227.8 786.5h0M1231.5 786.2h0M1234.9 786.0h0M1246.6 786.2h0M1247.6 786.0h0M1267.3 786.4h0M1307.0 786.3h0M1329.6 786.0h0M1338.3 786.6h0M1350.8 786.7h0M1352.5 786.3h0M1356.1 786.4h0M1365.1 786.7h0M1366.8 786.3h0M1372.4 787.0h0M1377.9 786.3h0M1387.5 786.0h0M1398.8 786.9h0M1401.8 786.9h0M1410.4 786.7h0M1413.2 786.4h0M1418.8 786.0h0M1425.4 786.0h0M1432.5 786.5h0M1451.9 786.8h0M1466.9 786.7h0M1470.0 786.9h0M1481.1 786.8h0M1492.3 786.5h0M1494.5 786.3h0M1497.9 786.3h0M1213.8 787.4h0M1215.9 787.4h0M1251.7 787.8h0M1256.4 787.6h0M1315.8 787.3h0M1335.9 788.0h0M1336.3 787.2h0M1344.2 787.4h0M1345.1 787.2h0M1346.0 787.1h0M1350.8 787.0h0M1378.0 787.4h0M1387.2 787.0h0M1389.8 787.3h0M1403.4 787.3h0M1411.0 787.3h0M1416.5 787.8h0M1420.9 788.0h0M1437.8 787.1h0M1444.3 787.3h0M1449.5 787.1h0M1451.1 787.4h0M1468.8 788.0h0M1469.8 787.9h0M1478.5 787.1h0M1486.6 787.1h0M1205.3 788.2h0M1209.2 788.9h0M1210.1 788.3h0M1215.2 788.7h0M1240.1 788.4h0M1241.4 788.2h0M1246.1 788.8h0M1281.8 788.8h0M1333.7 788.3h0M1344.4 788.7h0M1351.3 788.8h0M1352.3 788.9h0M1385.4 788.2h0M1389.6 788.6h0M1398.6 788.4h0M1399.6 788.8h0M1405.4 788.2h0M1410.7 788.4h0M1411.2 788.8h0M1413.6 788.5h0M1415.8 788.6h0M1418.9 788.1h0M1419.6 788.6h0M1423.7 788.2h0M1428.8 788.5h0M1449.8 788.9h0M1461.3 788.2h0M1476.2 788.2h0M1479.0 788.8h0M1499.5 788.5h0M1500.0 788.6h0M1501.1 788.1h0M1211.7 789.9h0M1214.3 789.2h0M1230.6 789.5h0M1244.4 789.3h0M1246.6 789.2h0M1256.0 789.8h0M1257.5 789.5h0M1320.6 789.4h0M1342.7 789.9h0M1345.0 789.7h0M1358.8 789.3h0M1359.8 789.1h0M1361.6 789.3h0M1363.0 789.1h0M1377.1 789.7h0M1378.3 789.8h0M1419.9 789.9h0M1430.7 789.9h0M1434.4 789.3h0M1437.7 789.4h0M1447.7 789.1h0M1457.8 789.3h0M1460.9 789.1h0M1461.4 789.9h0M1477.1 789.0h0M1500.3 789.2h0M1501.2 789.4h0M1508.5 789.8h0M1200.9 790.7h0M1205.3 790.5h0M1210.1 790.5h0M1212.6 790.3h0M1226.7 790.8h0M1227.7 790.7h0M1229.4 790.3h0M1233.0 790.2h0M1240.0 790.3h0M1295.6 790.3h0M1339.1 790.9h0M1359.7 790.8h0M1360.5 790.3h0M1363.6 790.6h0M1388.0 790.7h0M1399.4 790.3h0M1422.3 790.0h0M1433.6 790.6h0M1438.8 790.1h0M1441.3 790.5h0M1448.1 790.3h0M1468.0 790.2h0M1469.5 790.0h0M1475.2 790.8h0M1501.5 790.4h0M1502.6 790.3h0M1507.3 790.3h0M1207.7 791.8h0M1215.1 791.3h0M1225.3 791.5h0M1246.5 791.6h0M1247.4 791.6h0M1255.8 791.6h0M1277.6 791.4h0M1292.8 791.5h0M1330.2 791.2h0M1331.3 791.4h0M1333.6 791.9h0M1347.3 791.6h0M1350.2 791.9h0M1359.4 792.0h0M1362.2 791.2h0M1369.4 791.7h0M1376.0 791.4h0M1383.0 791.8h0M1387.4 791.3h0M1389.2 791.8h0M1406.6 791.7h0M1410.1 791.7h0M1423.0 792.0h0M1432.7 791.0h0M1446.2 791.2h0M1502.8 791.0h0M1509.7 791.9h0M1225.6 792.1h0M1235.1 792.1h0M1243.3 792.1h0M1245.9 792.4h0M1251.5 792.7h0M1336.8 792.5h0M1362.3 792.3h0M1382.9 792.2h0M1399.0 792.7h0M1400.1 792.5h0M1418.1 792.4h0M1420.6 792.8h0M1421.9 792.3h0M1437.2 792.5h0M1438.6 792.6h0M1452.7 792.4h0M1464.2 792.2h0M1470.2 792.7h0M1476.5 792.7h0M1497.4 792.5h0M1199.9 793.0h0M1201.5 793.7h0M1214.5 793.0h0M1226.6 793.5h0M1227.0 793.6h0M1230.3 793.8h0M1236.0 793.2h0M1238.0 793.8h0M1242.5 793.4h0M1243.9 793.6h0M1309.7 793.7h0M1320.4 793.9h0M1321.7 793.9h0M1324.1 793.6h0M1332.6 793.5h0M1344.4 793.1h0M1352.9 793.4h0M1354.1 793.7h0M1356.0 793.9h0M1363.8 793.5h0M1366.5 793.6h0M1378.4 793.6h0M1386.9 794.0h0M1417.4 793.7h0M1418.5 793.2h0M1423.7 793.5h0M1428.6 793.9h0M1433.0 793.4h0M1450.2 793.9h0M1469.7 793.1h0M1470.1 793.8h0M1489.7 793.9h0M1506.5 793.4h0M1510.4 793.8h0M1511.1 793.5h0M1185.7 794.7h0M1192.6 794.5h0M1194.2 794.2h0M1197.6 794.8h0M1199.2 794.7h0M1212.2 794.8h0M1213.9 794.7h0M1215.0 794.8h0M1224.5 794.7h0M1226.8 794.2h0M1228.1 794.0h0M1236.8 794.8h0M1256.0 794.3h0M1323.8 794.8h0M1324.2 794.2h0M1325.5 794.9h0M1333.7 794.6h0M1337.7 794.7h0M1338.6 794.4h0M1340.5 794.4h0M1362.9 794.4h0M1363.3 794.1h0M1374.9 794.1h0M1388.8 794.6h0M1403.9 794.1h0M1406.7 794.1h0M1408.6 794.5h0M1409.6 794.3h0M1467.3 794.2h0M1480.6 794.2h0M1481.5 794.5h0M1493.8 794.3h0M1497.4 794.4h0M1509.0 794.4h0M1196.4 795.0h0M1224.3 795.8h0M1228.7 795.7h0M1251.5 795.3h0M1333.0 795.6h0M1352.0 795.6h0M1354.0 795.8h0M1355.7 795.3h0M1358.9 795.6h0M1362.8 795.1h0M1371.2 796.0h0M1375.7 795.3h0M1396.3 795.9h0M1407.2 795.3h0M1418.1 795.7h0M1421.2 795.7h0M1441.1 795.4h0M1498.7 795.6h0M1209.3 797.0h0M1228.0 796.1h0M1237.2 796.9h0M1248.0 796.1h0M1251.3 796.8h0M1254.8 796.3h0M1264.6 796.6h0M1288.1 796.3h0M1339.9 796.8h0M1342.6 796.2h0M1351.6 796.6h0M1362.6 796.5h0M1363.2 797.0h0M1367.5 796.9h0M1371.1 796.4h0M1425.1 797.0h0M1433.7 796.0h0M1434.3 796.4h0M1453.3 796.8h0M1459.8 796.6h0M1465.7 796.5h0M1478.3 796.5h0M1483.8 797.0h0M1485.4 796.3h0M1486.7 796.3h0M1494.0 797.0h0M1501.4 796.3h0M1505.9 796.8h0M1518.2 796.4h0M1211.9 797.9h0M1228.0 797.4h0M1236.3 797.6h0M1244.8 797.9h0M1245.2 797.1h0M1254.7 797.6h0M1267.4 797.3h0M1271.7 797.9h0M1320.7 797.3h0M1335.1 797.1h0M1368.7 797.8h0M1384.7 797.1h0M1393.2 797.9h0M1397.2 797.7h0M1415.2 797.1h0M1417.2 798.0h0M1419.5 797.3h0M1429.6 797.4h0M1435.1 797.8h0M1436.4 797.4h0M1461.0 797.5h0M1479.2 797.8h0M1483.1 797.8h0M1485.1 797.3h0M1490.5 797.2h0M1507.2 797.8h0M1512.0 797.6h0M1519.6 797.4h0M1211.0 798.6h0M1238.7 798.1h0M1241.5 798.3h0M1252.1 798.2h0M1267.2 798.4h0M1299.3 798.7h0M1317.8 798.2h0M1322.2 798.4h0M1332.2 798.5h0M1346.8 798.5h0M1362.7 798.4h0M1365.0 798.5h0M1368.9 798.1h0M1370.3 798.9h0M1375.9 798.3h0M1379.3 798.4h0M1392.2 798.9h0M1394.1 798.0h0M1395.4 798.5h0M1403.2 798.6h0M1408.1 799.0h0M1413.9 798.9h0M1421.6 799.0h0M1425.6 799.0h0M1426.0 798.4h0M1432.8 798.7h0M1445.5 798.5h0M1447.1 798.9h0M1471.4 798.4h0M1480.3 798.8h0M1510.7 798.9h0M1511.1 798.5h0M1519.6 798.1h0M1520.5 798.6h0M1542.7 798.5h0M1543.9 798.1h0M1547.0 798.4h0M1237.7 799.3h0M1240.0 799.6h0M1322.6 799.3h0M1328.6 799.3h0M1339.6 799.2h0M1345.7 799.6h0M1358.5 799.3h0M1403.3 799.3h0M1414.1 799.4h0M1425.7 799.8h0M1433.7 799.9h0M1447.1 800.0h0M1451.7 799.9h0M1456.9 799.1h0M1463.5 799.6h0M1465.9 799.4h0M1500.3 799.1h0M1512.1 799.7h0M1517.9 799.2h0M1523.2 799.1h0M1539.3 799.4h0M1540.4 799.3h0M1543.6 799.8h0M1548.6 799.6h0M1209.3 800.5h0M1228.1 800.5h0M1230.9 800.8h0M1321.6 800.1h0M1329.8 800.1h0M1335.6 800.3h0M1345.0 800.7h0M1347.8 800.1h0M1353.3 800.9h0M1361.4 800.9h0M1364.9 800.5h0M1367.8 800.5h0M1390.6 800.7h0M1396.4 800.2h0M1421.6 800.2h0M1424.1 800.1h0M1442.5 800.9h0M1444.6 800.5h0M1455.3 800.6h0M1464.1 800.4h0M1469.3 800.4h0M1471.8 800.8h0M1486.4 800.1h0M1490.0 800.0h0M1510.0 800.0h0M1529.0 800.8h0M1529.9 800.6h0M1546.2 800.1h0M1211.7 801.4h0M1224.7 801.0h0M1231.8 801.6h0M1233.9 801.3h0M1244.6 801.2h0M1245.5 801.2h0M1316.4 801.9h0M1326.8 801.3h0M1333.2 801.4h0M1340.5 801.8h0M1360.4 801.4h0M1369.0 801.8h0M1404.8 801.3h0M1412.3 801.5h0M1426.1 801.1h0M1429.4 801.6h0M1435.9 801.1h0M1445.9 801.8h0M1453.8 801.1h0M1460.5 801.2h0M1462.1 801.5h0M1483.2 801.6h0M1486.0 801.6h0M1514.9 801.3h0M1516.2 801.5h0M1526.2 801.1h0M1545.3 801.2h0M1212.5 802.1h0M1238.1 802.3h0M1240.9 802.7h0M1247.8 803.0h0M1324.4 803.0h0M1328.9 802.2h0M1337.0 802.6h0M1345.0 802.4h0M1354.2 802.5h0M1355.8 803.0h0M1356.1 802.7h0M1391.6 802.6h0M1409.7 802.3h0M1417.3 802.2h0M1437.6 802.6h0M1438.4 802.4h0M1471.0 802.8h0M1472.9 802.1h0M1476.9 802.1h0M1479.1 802.6h0M1504.8 802.8h0M1519.5 802.5h0M1525.7 803.0h0M1530.8 802.6h0M1536.2 802.9h0M1537.7 802.2h0M1542.8 802.0h0M1548.8 802.6h0M1207.6 803.3h0M1209.8 803.6h0M1211.7 803.7h0M1228.2 803.0h0M1237.3 803.2h0M1239.4 803.4h0M1257.2 803.7h0M1260.4 803.3h0M1288.3 803.2h0M1310.9 803.5h0M1311.5 803.7h0M1313.6 803.6h0M1315.5 804.0h0M1344.0 803.7h0M1345.8 803.7h0M1350.3 803.5h0M1353.3 803.3h0M1356.4 803.8h0M1387.8 803.4h0M1393.6 803.7h0M1397.2 803.4h0M1401.6 803.9h0M1413.4 803.8h0M1421.3 803.6h0M1436.6 803.8h0M1445.1 803.7h0M1449.5 803.2h0M1450.6 803.9h0M1460.6 804.0h0M1481.7 803.2h0M1505.0 803.9h0M1510.2 803.2h0M1536.4 803.0h0M1544.2 803.7h0M1230.2 804.3h0M1241.3 804.1h0M1255.2 804.2h0M1293.4 804.8h0M1317.4 804.0h0M1330.8 804.3h0M1338.3 804.5h0M1352.7 804.8h0M1362.9 804.0h0M1390.0 804.8h0M1400.6 804.5h0M1414.8 804.8h0M1424.1 804.1h0M1450.3 804.5h0M1468.3 804.7h0M1475.0 804.8h0M1483.0 804.9h0M1483.9 804.5h0M1489.7 804.6h0M1505.5 804.0h0M1514.8 804.9h0M1517.1 804.1h0M1531.9 804.8h0M1538.0 804.9h0M1541.3 804.3h0M1543.9 804.4h0M1211.3 806.0h0M1230.3 805.8h0M1241.2 805.0h0M1249.9 805.9h0M1251.0 805.9h0M1303.8 805.3h0M1308.2 805.7h0M1311.9 805.2h0M1314.6 805.6h0M1319.4 805.5h0M1329.7 805.8h0M1341.2 805.1h0M1342.2 805.6h0M1350.5 805.9h0M1353.8 805.2h0M1362.9 805.5h0M1365.2 805.2h0M1367.3 805.5h0M1370.8 805.8h0M1390.0 805.9h0M1390.8 805.9h0M1400.3 805.4h0M1402.7 805.3h0M1422.3 805.3h0M1431.1 805.1h0M1433.2 805.1h0M1440.0 805.8h0M1450.5 805.6h0M1451.5 805.5h0M1471.2 805.3h0M1473.3 805.6h0M1481.4 805.7h0M1512.6 805.5h0M1516.1 805.7h0M1536.0 805.5h0M1538.9 805.1h0M1541.4 805.1h0M1212.1 806.7h0M1234.8 806.5h0M1264.6 806.6h0M1324.6 806.6h0M1326.8 806.4h0M1346.9 806.5h0M1354.3 806.5h0M1360.7 806.2h0M1364.5 806.6h0M1367.2 806.4h0M1372.0 806.1h0M1382.2 806.7h0M1388.1 806.7h0M1393.2 806.4h0M1412.2 806.5h0M1415.7 806.1h0M1432.0 806.7h0M1447.2 806.7h0M1454.2 806.7h0M1479.6 806.4h0M1480.3 806.8h0M1507.5 806.5h0M1516.1 806.6h0M1517.5 806.8h0M1519.0 806.6h0M1528.4 806.1h0M1535.9 806.9h0M1232.4 807.5h0M1233.0 807.2h0M1293.0 808.0h0M1336.4 807.5h0M1350.3 807.0h0M1351.8 807.3h0M1355.1 807.6h0M1367.3 807.1h0M1372.4 807.6h0M1373.8 807.9h0M1386.4 807.8h0M1387.7 807.5h0M1393.2 807.4h0M1395.8 807.6h0M1401.8 807.3h0M1403.4 807.1h0M1434.8 807.9h0M1436.5 807.8h0M1493.2 807.5h0M1507.2 807.7h0M1509.1 807.8h0M1525.6 807.0h0M1545.6 807.9h0M1546.9 807.3h0M1213.4 808.0h0M1214.3 808.1h0M1221.3 808.6h0M1223.1 808.7h0M1230.0 809.0h0M1231.9 808.6h0M1242.7 808.6h0M1246.3 809.0h0M1255.9 809.0h0M1304.2 808.6h0M1322.4 808.4h0M1326.2 808.7h0M1340.8 808.3h0M1349.3 808.4h0M1359.9 809.0h0M1394.3 808.2h0M1396.0 808.5h0M1396.0 808.5h0M1400.3 808.3h0M1409.3 808.2h0M1421.8 808.1h0M1427.3 808.0h0M1432.7 808.2h0M1435.3 808.1h0M1440.8 808.7h0M1452.0 808.8h0M1456.3 808.7h0M1461.3 808.8h0M1465.8 808.1h0M1470.7 808.1h0M1480.7 808.1h0M1484.9 808.3h0M1490.0 808.9h0M1491.5 808.5h0M1499.1 808.2h0M1536.6 808.7h0M1542.0 808.5h0M1546.3 808.7h0M1239.5 809.9h0M1245.5 809.5h0M1255.2 809.0h0M1280.9 809.1h0M1305.3 809.1h0M1323.0 809.2h0M1324.8 809.4h0M1330.7 809.9h0M1333.4 809.3h0M1345.9 809.3h0M1347.0 809.4h0M1361.3 809.9h0M1362.1 809.9h0M1363.6 809.7h0M1368.4 809.8h0M1389.0 809.4h0M1394.5 809.2h0M1413.8 809.1h0M1421.7 809.5h0M1438.0 810.0h0M1455.0 809.2h0M1462.3 809.8h0M1465.4 809.1h0M1470.4 809.7h0M1526.4 809.7h0M1527.6 809.7h0M1531.7 809.1h0M1222.3 811.0h0M1246.2 810.4h0M1252.4 810.2h0M1253.1 810.4h0M1257.1 810.5h0M1284.5 810.9h0M1300.6 811.0h0M1304.8 810.8h0M1313.0 810.9h0M1313.6 810.0h0M1317.7 810.8h0M1326.6 810.6h0M1336.1 810.2h0M1340.3 810.1h0M1341.8 810.9h0M1353.8 810.1h0M1361.9 810.7h0M1371.7 810.5h0M1373.5 810.7h0M1387.1 810.2h0M1389.0 810.1h0M1394.8 810.6h0M1405.8 810.3h0M1431.0 810.3h0M1446.1 810.7h0M1520.1 810.8h0M1536.8 810.6h0M1544.3 810.6h0M1550.7 810.6h0M1551.8 810.4h0M1553.7 811.0h0M1228.3 811.1h0M1230.4 811.4h0M1240.7 811.9h0M1247.1 811.5h0M1279.9 811.5h0M1305.6 811.5h0M1322.1 811.1h0M1329.7 811.5h0M1344.9 811.8h0M1351.2 811.3h0M1360.0 811.4h0M1398.7 811.2h0M1415.3 812.0h0M1417.3 812.0h0M1425.2 811.3h0M1431.0 811.7h0M1452.2 811.4h0M1461.0 811.8h0M1472.9 811.5h0M1474.8 811.4h0M1479.8 811.7h0M1503.9 811.9h0M1520.5 811.2h0M1533.6 811.5h0M1546.0 811.6h0M1547.1 811.0h0M1229.2 812.7h0M1233.1 812.5h0M1239.2 812.1h0M1241.2 812.7h0M1245.0 812.0h0M1246.1 812.6h0M1249.8 813.0h0M1260.3 812.3h0M1276.1 812.2h0M1317.1 812.9h0M1322.9 812.7h0M1332.6 812.8h0M1345.0 812.4h0M1360.4 812.5h0M1384.0 812.8h0M1387.7 812.7h0M1410.8 812.8h0M1424.0 812.3h0M1467.5 812.4h0M1502.2 812.9h0M1240.6 813.8h0M1251.0 813.5h0M1251.9 813.2h0M1274.5 813.0h0M1315.8 813.8h0M1330.5 813.8h0M1336.8 813.6h0M1337.2 813.9h0M1339.5 813.6h0M1346.9 813.3h0M1368.8 813.0h0M1369.3 813.7h0M1387.2 813.9h0M1396.4 813.3h0M1403.0 813.9h0M1407.0 813.2h0M1437.3 813.3h0M1439.3 813.3h0M1452.4 813.2h0M1453.5 813.3h0M1463.5 813.5h0M1466.5 813.1h0M1471.0 813.9h0M1476.6 813.5h0M1508.8 813.9h0M1539.5 813.7h0M1544.3 813.3h0M1548.1 813.1h0M1552.2 813.6h0M1236.8 814.6h0M1260.1 814.7h0M1302.9 814.9h0M1307.0 815.0h0M1313.0 814.4h0M1323.3 814.0h0M1327.3 814.3h0M1330.3 814.7h0M1338.9 814.3h0M1346.0 814.3h0M1346.4 814.5h0M1348.4 814.5h0M1377.7 814.8h0M1379.2 814.4h0M1381.9 814.6h0M1386.7 814.4h0M1388.6 814.6h0M1404.1 814.4h0M1411.9 814.5h0M1429.9 814.7h0M1449.8 814.4h0M1451.8 814.1h0M1455.0 814.1h0M1469.5 814.7h0M1473.5 814.1h0M1514.0 814.7h0M1520.2 814.9h0M1542.2 814.3h0M1544.5 814.3h0M1244.4 815.7h0M1292.8 815.7h0M1331.3 815.5h0M1336.0 815.1h0M1344.2 815.9h0M1345.4 815.3h0M1349.8 815.0h0M1373.1 815.6h0M1377.7 815.5h0M1381.0 815.4h0M1401.0 815.3h0M1408.1 815.4h0M1434.1 815.8h0M1447.0 815.5h0M1453.4 815.6h0M1462.5 815.9h0M1512.6 815.3h0M1516.8 815.9h0M1551.4 815.5h0M1281.6 816.4h0M1293.6 817.0h0M1307.2 816.6h0M1312.6 816.3h0M1318.4 816.9h0M1325.3 816.7h0M1332.4 816.0h0M1334.9 816.7h0M1338.0 816.6h0M1369.9 816.3h0M1376.7 816.4h0M1379.6 816.8h0M1380.1 816.2h0M1388.7 816.9h0M1403.5 816.3h0M1405.2 816.1h0M1408.6 816.1h0M1418.1 816.0h0M1419.4 816.1h0M1421.4 816.9h0M1427.2 816.6h0M1430.7 816.2h0M1433.1 816.2h0M1267.6 817.3h0M1301.0 817.9h0M1303.7 817.6h0M1307.3 817.3h0M1327.5 817.9h0M1331.7 817.8h0M1333.0 817.9h0M1336.4 817.0h0M1344.0 817.2h0M1348.2 817.4h0M1370.5 817.2h0M1375.5 817.1h0M1382.5 818.0h0M1403.5 817.8h0M1430.6 817.7h0M1433.7 817.4h0M1448.7 817.5h0M1455.8 817.7h0M1458.6 817.7h0M1463.1 817.1h0M1515.4 817.2h0M1527.5 817.9h0M1549.4 817.5h0M1551.8 817.5h0M1318.0 818.3h0M1334.4 818.6h0M1344.4 818.7h0M1347.3 818.8h0M1374.5 818.9h0M1383.1 818.5h0M1386.0 818.2h0M1391.6 818.8h0M1408.4 818.9h0M1416.3 818.3h0M1432.4 818.6h0M1436.0 818.9h0M1450.0 818.7h0M1456.0 818.3h0M1521.0 818.3h0M1524.9 818.5h0M1533.9 818.8h0M1537.7 818.0h0M1548.7 818.9h0M1259.2 819.4h0M1293.3 819.7h0M1299.0 819.3h0M1316.8 819.9h0M1317.9 819.9h0M1320.5 819.2h0M1324.2 819.9h0M1329.7 819.0h0M1332.3 819.9h0M1361.8 819.8h0M1363.5 819.1h0M1365.0 819.1h0M1368.4 819.1h0M1372.5 819.2h0M1377.6 819.5h0M1381.0 819.0h0M1384.7 819.5h0M1393.0 820.0h0M1407.4 819.3h0M1425.1 820.0h0M1435.2 819.7h0M1446.5 819.9h0M1451.7 819.3h0M1463.0 819.9h0M1491.8 819.2h0M1494.0 819.6h0M1519.9 819.7h0M1526.8 819.8h0M1541.5 819.3h0M1546.6 819.6h0M1549.0 819.8h0M1549.4 819.7h0M1250.2 820.7h0M1270.8 820.4h0M1273.0 820.9h0M1296.8 820.6h0M1303.3 820.9h0M1307.1 820.6h0M1321.3 820.3h0M1324.6 821.0h0M1330.8 820.1h0M1331.1 820.6h0M1336.3 820.3h0M1339.6 820.6h0M1340.3 820.5h0M1342.2 820.5h0M1346.2 820.7h0M1347.7 820.0h0M1361.7 820.2h0M1363.6 820.9h0M1376.9 820.2h0M1386.6 820.6h0M1389.8 821.0h0M1402.8 820.5h0M1437.5 820.1h0M1463.4 820.4h0M1532.9 820.2h0M1549.5 820.4h0M1555.8 820.6h0M1284.5 821.4h0M1287.5 821.2h0M1297.4 821.4h0M1310.9 821.6h0M1326.2 821.3h0M1327.6 821.3h0M1329.4 821.9h0M1334.8 821.6h0M1357.9 821.4h0M1359.9 821.5h0M1362.6 822.0h0M1372.1 821.4h0M1376.2 822.0h0M1378.9 821.9h0M1387.4 821.6h0M1405.7 821.5h0M1409.2 821.9h0M1421.4 821.3h0M1434.7 821.1h0M1452.7 821.3h0M1540.7 821.4h0M1547.1 821.3h0M1549.5 821.6h0M1553.4 821.2h0M1318.6 822.5h0M1330.4 822.2h0M1336.7 822.7h0M1345.5 822.2h0M1350.8 822.4h0M1369.6 822.5h0M1372.2 822.2h0M1373.2 822.8h0M1377.1 822.6h0M1382.2 822.7h0M1399.4 822.8h0M1402.9 822.6h0M1406.7 822.1h0M1419.2 822.9h0M1420.4 822.8h0M1424.1 822.7h0M1457.5 822.9h0M1546.5 822.7h0M1279.7 823.3h0M1303.8 823.7h0M1308.1 823.7h0M1327.9 823.1h0M1351.7 823.6h0M1362.3 823.8h0M1370.4 823.6h0M1372.2 823.9h0M1398.1 823.3h0M1404.6 823.6h0M1428.2 823.6h0M1536.3 823.0h0M1542.9 823.4h0M1543.2 823.5h0M1546.4 823.7h0M1550.9 823.7h0M1551.6 823.1h0M1253.9 824.6h0M1281.1 824.4h0M1294.5 825.0h0M1305.8 824.7h0M1314.7 824.3h0M1327.2 824.4h0M1334.9 824.4h0M1338.8 824.6h0M1348.8 824.2h0M1349.9 824.2h0M1350.5 824.5h0M1357.1 824.7h0M1364.6 824.5h0M1366.4 824.8h0M1367.5 824.2h0M1407.8 824.7h0M1424.7 824.9h0M1427.0 824.5h0M1542.0 824.2h0M1297.1 825.6h0M1299.6 825.8h0M1303.2 825.7h0M1327.1 825.3h0M1328.3 825.3h0M1336.9 825.9h0M1352.2 825.6h0M1356.7 825.4h0M1366.9 825.3h0M1369.3 826.0h0M1378.0 825.4h0M1383.5 825.7h0M1455.5 825.7h0M1538.9 826.0h0M1244.7 826.2h0M1257.7 826.8h0M1291.4 827.0h0M1305.6 827.0h0M1308.1 826.3h0M1311.3 826.0h0M1314.7 826.4h0M1317.6 826.3h0M1320.0 826.9h0M1323.1 827.0h0M1327.5 826.9h0M1330.4 826.1h0M1331.3 826.9h0M1352.3 826.2h0M1355.8 826.7h0M1357.3 826.5h0M1362.7 826.7h0M1370.6 826.5h0M1378.0 826.1h0M1379.7 826.4h0M1403.8 826.8h0M1420.7 826.0h0M1424.2 827.0h0M1450.3 826.6h0M1484.1 826.6h0M1554.4 826.7h0M1247.7 827.7h0M1248.3 828.0h0M1310.6 827.9h0M1329.0 827.5h0M1333.1 827.3h0M1341.4 827.4h0M1348.8 827.8h0M1354.6 827.2h0M1360.0 827.1h0M1373.0 827.8h0M1383.9 827.5h0M1401.0 827.1h0M1420.6 827.5h0M1433.5 827.4h0M1455.8 827.2h0M1476.2 827.2h0M1548.4 827.9h0M1549.5 827.1h0M1260.7 828.1h0M1296.5 828.1h0M1307.9 828.3h0M1315.1 828.1h0M1328.4 828.3h0M1334.6 828.3h0M1351.0 828.7h0M1354.2 828.5h0M1363.4 828.3h0M1367.2 828.5h0M1374.9 829.0h0M1382.3 828.7h0M1407.7 828.5h0M1443.1 828.6h0M1456.8 828.6h0M1545.0 828.4h0M1545.6 828.6h0M1547.4 828.9h0M1550.0 828.5h0M1552.3 828.7h0M1242.9 829.1h0M1274.7 829.6h0M1299.8 829.2h0M1301.9 829.8h0M1305.4 829.6h0M1307.8 829.3h0M1313.9 829.2h0M1314.3 829.7h0M1334.2 829.7h0M1339.2 829.2h0M1346.7 829.3h0M1355.7 829.7h0M1361.0 829.1h0M1362.8 829.9h0M1369.5 829.9h0M1376.5 829.0h0M1377.1 829.7h0M1385.1 829.2h0M1392.2 829.6h0M1396.9 829.5h0M1413.9 829.0h0M1424.4 829.3h0M1456.5 829.1h0M1483.1 829.5h0M1494.7 829.6h0M1541.9 830.0h0M1544.3 829.6h0M1547.1 829.8h0M1551.6 829.6h0M1553.7 829.1h0M1554.3 829.6h0M1555.9 829.6h0M1246.6 830.7h0M1296.0 831.0h0M1301.1 830.3h0M1303.6 830.5h0M1314.3 830.5h0M1318.5 830.0h0M1334.2 830.3h0M1337.8 830.1h0M1341.5 830.8h0M1347.6 830.5h0M1350.8 830.4h0M1352.9 830.2h0M1353.4 830.9h0M1357.4 830.3h0M1359.6 830.4h0M1364.4 830.4h0M1370.2 830.4h0M1373.7 830.9h0M1378.8 830.7h0M1389.7 830.7h0M1402.3 830.4h0M1406.9 830.9h0M1413.9 830.6h0M1414.9 830.5h0M1422.2 831.0h0M1447.3 830.3h0M1529.6 830.5h0M1545.3 830.8h0M1552.9 830.6h0M1330.3 832.0h0M1331.6 831.5h0M1343.3 831.3h0M1347.2 832.0h0M1365.3 831.3h0M1374.4 831.8h0M1377.0 831.8h0M1396.6 831.6h0M1405.6 831.1h0M1417.0 831.6h0M1422.6 831.7h0M1493.3 831.3h0M1543.2 831.5h0M1255.1 832.8h0M1303.7 832.1h0M1306.6 832.3h0M1314.5 832.8h0M1315.8 832.2h0M1332.3 832.9h0M1338.5 832.5h0M1340.4 832.5h0M1346.2 832.9h0M1355.9 832.5h0M1356.1 832.3h0M1360.6 832.9h0M1362.2 832.0h0M1367.4 832.3h0M1370.8 833.0h0M1388.9 832.4h0M1397.0 832.3h0M1412.4 832.9h0M1418.1 832.9h0M1443.3 832.9h0M1529.4 832.7h0M1545.3 832.7h0M1546.4 832.5h0M1547.9 832.1h0M1253.3 833.2h0M1265.9 833.8h0M1272.2 833.4h0M1274.2 833.3h0M1316.4 833.9h0M1320.7 833.7h0M1328.6 833.1h0M1329.3 833.5h0M1350.2 833.8h0M1355.6 833.2h0M1368.5 833.7h0M1374.5 833.5h0M1402.7 833.4h0M1403.2 833.7h0M1410.2 833.4h0M1417.3 833.2h0M1460.6 833.0h0M1531.5 833.9h0M1554.2 833.9h0M1309.7 834.1h0M1312.5 834.1h0M1315.8 834.1h0M1336.0 834.2h0M1339.9 834.3h0M1349.7 834.7h0M1355.3 834.4h0M1368.9 834.9h0M1371.8 834.1h0M1395.3 834.8h0M1402.4 834.1h0M1407.5 834.3h0M1411.3 834.5h0M1412.2 834.8h0M1413.1 834.6h0M1418.6 834.7h0M1419.8 834.9h0M1442.0 834.4h0M1463.4 834.0h0M1474.4 834.5h0M1478.8 834.7h0M1552.4 834.5h0M1556.1 834.7h0M1240.6 835.2h0M1246.8 835.9h0M1256.3 835.4h0M1305.7 835.9h0M1310.0 835.3h0M1317.0 835.9h0M1321.8 835.6h0M1324.0 835.7h0M1325.6 835.5h0M1348.2 835.9h0M1357.4 835.3h0M1358.1 835.5h0M1362.9 835.7h0M1383.0 835.5h0M1384.9 835.4h0M1392.8 835.5h0M1406.0 835.2h0M1413.6 835.1h0M1428.4 835.8h0M1463.8 835.3h0M1476.6 835.9h0M1515.2 835.5h0M1518.4 835.3h0M1532.8 835.4h0M1556.3 835.8h0M1268.7 836.1h0M1283.6 837.0h0M1301.1 836.2h0M1302.2 836.7h0M1306.6 836.1h0M1309.0 836.7h0M1310.9 836.6h0M1323.5 836.1h0M1338.0 836.9h0M1341.9 836.8h0M1357.9 836.4h0M1367.9 836.0h0M1380.6 836.6h0M1389.5 837.0h0M1397.0 836.2h0M1403.0 836.1h0M1420.9 836.8h0M1422.6 836.6h0M1428.8 836.9h0M1461.3 836.4h0M1463.9 836.8h0M1472.4 836.1h0M1519.6 836.8h0M1528.3 836.8h0M1530.9 836.3h0M1531.8 837.0h0M1542.9 836.9h0M1553.8 836.1h0M1554.8 836.2h0M1557.4 836.4h0M1299.2 837.1h0M1301.4 837.8h0M1310.2 837.1h0M1320.1 837.1h0M1329.4 837.3h0M1333.3 837.0h0M1336.6 837.8h0M1340.7 837.1h0M1347.2 837.9h0M1355.4 837.2h0M1358.4 837.5h0M1362.0 837.3h0M1379.5 837.7h0M1402.1 837.5h0M1414.7 837.5h0M1419.9 838.0h0M1468.4 837.9h0M1478.1 837.6h0M1520.6 837.7h0M1523.7 838.0h0M1530.7 837.8h0M1552.3 837.2h0M1554.5 838.0h0M1270.8 838.8h0M1325.8 838.3h0M1328.5 838.0h0M1330.5 838.7h0M1339.4 838.4h0M1343.6 838.7h0M1345.5 838.7h0M1350.1 838.1h0M1355.3 838.6h0M1356.5 838.5h0M1376.3 838.7h0M1377.2 838.8h0M1381.4 838.9h0M1403.5 838.7h0M1404.1 838.1h0M1406.4 838.4h0M1416.8 838.5h0M1432.6 839.0h0M1462.3 838.7h0M1478.6 838.8h0M1522.4 838.1h0M1536.8 838.4h0M1546.4 838.3h0M1552.0 838.7h0M1240.6 839.5h0M1242.7 839.8h0M1291.8 839.8h0M1297.8 840.0h0M1302.8 839.2h0M1312.5 839.8h0M1319.4 839.9h0M1325.7 840.0h0M1332.2 839.9h0M1335.6 839.2h0M1341.0 839.7h0M1354.5 840.0h0M1360.3 839.2h0M1361.1 839.2h0M1365.5 840.0h0M1368.8 839.2h0M1388.1 839.3h0M1396.2 839.4h0M1409.6 839.2h0M1443.9 839.5h0M1469.1 839.1h0M1544.2 839.0h0M1549.4 839.4h0M1554.7 840.0h0M1240.2 840.5h0M1276.2 840.8h0M1288.6 840.8h0M1295.6 840.5h0M1304.2 840.3h0M1306.0 840.6h0M1307.0 840.6h0M1313.5 840.9h0M1317.5 840.1h0M1330.3 840.5h0M1338.5 840.0h0M1339.5 840.7h0M1341.3 840.1h0M1347.0 840.2h0M1361.8 840.1h0M1364.1 840.8h0M1368.1 840.8h0M1378.9 840.0h0M1381.0 840.2h0M1387.9 840.3h0M1392.8 840.0h0M1394.8 840.5h0M1400.1 840.8h0M1405.8 840.1h0M1415.3 840.8h0M1421.2 840.4h0M1434.0 840.5h0M1445.5 840.4h0M1476.2 840.1h0M1477.7 840.1h0M1524.9 841.0h0M1527.4 840.2h0M1537.5 840.1h0M1541.0 840.4h0M1296.9 841.3h0M1305.5 841.7h0M1309.5 841.6h0M1330.2 841.5h0M1340.0 841.7h0M1342.7 841.0h0M1349.1 841.9h0M1354.3 841.3h0M1403.7 841.0h0M1408.5 841.3h0M1413.1 841.3h0M1432.7 841.5h0M1434.1 841.5h0M1460.4 842.0h0M1463.3 841.0h0M1476.8 841.5h0M1524.1 841.5h0M1537.0 842.0h0M1540.4 841.4h0M1550.8 841.3h0M1552.5 841.3h0M1236.8 842.5h0M1305.5 842.8h0M1311.0 842.1h0M1317.4 843.0h0M1324.8 842.8h0M1344.8 842.4h0M1346.7 842.8h0M1351.5 842.4h0M1354.7 842.0h0M1359.2 842.4h0M1365.9 842.0h0M1377.5 842.6h0M1384.0 842.9h0M1403.4 842.1h0M1407.4 842.9h0M1416.4 842.7h0M1418.8 842.3h0M1433.0 842.7h0M1464.6 842.7h0M1478.3 842.9h0M1479.5 842.0h0M1525.3 842.7h0M1535.0 842.8h0M1536.5 842.4h0M1539.9 842.4h0M1543.4 842.4h0M1546.6 842.4h0M1552.2 842.8h0M1556.0 842.9h0M1246.8 843.1h0M1289.0 843.8h0M1305.4 843.3h0M1327.3 843.5h0M1363.6 843.2h0M1381.5 843.5h0M1394.1 843.5h0M1404.0 843.1h0M1412.7 843.6h0M1421.9 843.1h0M1423.0 843.4h0M1459.4 843.7h0M1460.1 843.1h0M1464.7 843.7h0M1467.8 843.7h0M1471.6 843.1h0M1477.4 843.2h0M1480.7 843.3h0M1484.8 843.0h0M1545.4 843.4h0M1549.8 843.1h0M1554.2 843.1h0M1559.7 844.0h0M1249.1 844.5h0M1293.7 844.2h0M1294.8 844.3h0M1316.4 844.4h0M1322.1 844.2h0M1324.7 844.7h0M1332.3 845.0h0M1335.9 844.6h0M1338.0 844.4h0M1339.5 844.3h0M1352.3 844.4h0M1364.3 844.6h0M1366.8 844.0h0M1376.4 844.8h0M1393.8 844.1h0M1402.9 844.4h0M1406.0 844.2h0M1407.8 844.2h0M1409.0 844.9h0M1411.0 844.8h0M1421.0 844.3h0M1458.9 844.8h0M1459.2 844.6h0M1462.6 844.1h0M1464.3 844.4h0M1467.9 844.6h0M1471.6 845.0h0M1480.8 844.8h0M1496.5 844.9h0M1530.8 844.1h0M1531.8 844.2h0M1532.9 844.8h0M1534.6 844.1h0M1545.2 844.9h0M1556.4 844.4h0M1306.4 845.6h0M1309.4 845.7h0M1320.4 845.9h0M1334.0 845.4h0M1351.9 845.1h0M1352.2 845.8h0M1355.6 845.3h0M1357.8 845.9h0M1385.8 845.9h0M1386.6 845.8h0M1391.0 845.9h0M1394.1 845.1h0M1400.7 845.7h0M1402.5 845.7h0M1405.3 845.2h0M1411.8 845.1h0M1412.4 845.3h0M1467.6 845.6h0M1468.5 845.7h0M1469.6 845.9h0M1471.8 846.0h0M1472.9 845.8h0M1480.3 845.2h0M1496.1 845.8h0M1533.7 845.5h0M1555.5 845.0h0M1235.5 846.7h0M1239.7 846.2h0M1242.6 846.5h0M1268.9 846.2h0M1301.8 846.2h0M1303.8 846.4h0M1305.7 846.2h0M1325.1 846.1h0M1326.0 846.2h0M1337.0 846.2h0M1339.4 846.1h0M1347.4 846.2h0M1349.9 846.3h0M1352.7 846.5h0M1381.7 846.2h0M1397.2 846.9h0M1399.4 846.2h0M1401.4 846.6h0M1402.7 846.2h0M1403.0 846.4h0M1463.9 846.4h0M1466.1 846.7h0M1475.1 846.1h0M1477.8 846.4h0M1478.3 846.8h0M1479.3 846.5h0M1484.0 846.8h0M1523.1 846.3h0M1535.7 846.5h0M1548.7 846.2h0M1556.2 846.0h0M1252.6 847.7h0M1261.6 847.7h0M1304.7 847.1h0M1306.1 847.8h0M1327.9 847.7h0M1329.6 847.0h0M1332.6 848.0h0M1334.6 847.3h0M1338.9 848.0h0M1340.2 847.4h0M1349.2 847.5h0M1350.3 847.4h0M1355.5 848.0h0M1374.5 847.8h0M1378.4 847.5h0M1384.2 847.5h0M1385.7 847.5h0M1397.2 847.6h0M1401.0 847.5h0M1405.5 847.7h0M1406.7 847.7h0M1408.5 847.5h0M1411.6 847.4h0M1412.4 847.9h0M1434.0 847.2h0M1456.2 847.7h0M1459.2 847.1h0M1476.9 847.6h0M1486.9 847.1h0M1495.5 847.8h0M1523.3 847.0h0M1545.9 847.4h0M1309.5 848.3h0M1320.7 848.9h0M1326.3 848.0h0M1329.0 848.7h0M1338.6 848.6h0M1339.9 848.3h0M1359.3 848.2h0M1361.8 848.6h0M1374.6 848.5h0M1383.4 848.8h0M1390.0 848.9h0M1391.4 848.7h0M1394.7 848.4h0M1412.2 848.6h0M1414.0 848.1h0M1455.9 848.4h0M1460.1 848.9h0M1461.7 848.2h0M1470.1 848.7h0M1475.8 848.1h0M1476.3 848.3h0M1477.8 848.1h0M1482.6 848.5h0M1490.8 848.5h0M1521.0 848.0h0M1522.5 848.2h0M1534.3 848.1h0M1547.8 848.3h0M1549.1 848.4h0M1550.9 848.6h0M1553.4 848.5h0M1241.9 849.7h0M1252.8 849.1h0M1302.3 849.3h0M1307.2 849.1h0M1323.2 849.0h0M1326.9 849.1h0M1335.3 849.9h0M1338.4 849.2h0M1339.1 849.0h0M1345.3 849.0h0M1347.5 849.1h0M1348.6 849.3h0M1374.7 849.6h0M1376.8 849.6h0M1379.8 849.5h0M1402.9 849.7h0M1409.1 849.2h0M1448.6 849.0h0M1453.1 849.9h0M1457.7 849.6h0M1458.9 849.3h0M1465.0 849.4h0M1467.4 849.4h0M1469.9 849.2h0M1477.2 849.1h0M1522.4 849.0h0M1543.7 849.6h0M1544.0 849.6h0M1232.2 850.4h0M1248.2 850.8h0M1287.7 851.0h0M1300.7 850.4h0M1326.2 850.3h0M1333.4 850.9h0M1336.5 851.0h0M1340.6 850.5h0M1342.2 850.2h0M1358.7 850.6h0M1370.0 850.7h0M1371.0 850.1h0M1373.3 850.1h0M1393.7 850.7h0M1404.1 850.5h0M1415.7 851.0h0M1447.8 850.4h0M1450.7 850.1h0M1462.2 850.1h0M1465.5 850.1h0M1467.4 850.8h0M1471.5 850.3h0M1477.0 850.6h0M1494.0 850.4h0M1535.1 850.0h0M1537.8 850.2h0M1551.2 850.3h0M1243.1 851.3h0M1306.0 851.1h0M1306.0 851.1h0M1312.6 851.5h0M1317.7 852.0h0M1341.3 851.7h0M1359.2 851.5h0M1360.0 851.6h0M1361.2 851.3h0M1370.0 851.9h0M1375.6 851.8h0M1381.8 851.0h0M1390.7 851.2h0M1395.0 851.1h0M1399.2 851.7h0M1407.8 851.7h0M1409.9 851.1h0M1410.3 851.4h0M1427.5 851.1h0M1450.6 851.3h0M1463.5 851.4h0M1470.3 851.0h0M1472.3 851.3h0M1480.7 851.0h0M1519.5 851.4h0M1536.4 851.2h0M1537.7 851.6h0M1548.8 851.1h0M1307.0 852.4h0M1314.3 852.5h0M1321.5 852.7h0M1323.6 852.5h0M1335.1 852.9h0M1339.0 852.7h0M1357.4 852.9h0M1366.9 852.4h0M1370.6 852.5h0M1373.1 852.5h0M1382.7 852.1h0M1394.0 852.7h0M1406.2 852.8h0M1409.4 852.1h0M1411.9 852.3h0M1415.5 852.9h0M1435.3 852.8h0M1442.3 852.3h0M1449.2 852.8h0M1458.8 852.1h0M1460.0 852.1h0M1463.2 853.0h0M1471.2 852.2h0M1515.8 852.4h0M1541.9 852.6h0M1543.9 852.7h0M1549.5 852.9h0M1260.5 853.8h0M1268.0 853.6h0M1301.6 853.2h0M1303.7 853.7h0M1306.0 854.0h0M1317.0 853.8h0M1327.1 853.8h0M1329.1 853.1h0M1333.3 853.5h0M1334.1 853.2h0M1354.6 853.8h0M1367.7 853.9h0M1375.6 853.3h0M1382.5 853.8h0M1392.5 853.3h0M1393.9 853.5h0M1412.0 853.0h0M1449.4 853.6h0M1453.3 853.9h0M1461.1 853.2h0M1472.4 853.7h0M1482.5 853.5h0M1521.9 854.0h0M1539.6 853.1h0M1544.6 853.7h0M1295.7 854.9h0M1299.0 854.8h0M1304.4 854.4h0M1315.4 854.3h0M1328.2 854.8h0M1329.9 854.8h0M1341.4 854.4h0M1344.7 854.2h0M1345.1 854.8h0M1356.1 854.1h0M1361.9 854.8h0M1364.1 854.4h0M1368.6 854.6h0M1381.4 854.5h0M1385.5 854.9h0M1386.0 854.4h0M1410.4 854.8h0M1432.9 854.3h0M1457.0 854.8h0M1458.8 854.3h0M1463.8 854.2h0M1465.9 854.2h0M1475.9 854.5h0M1477.0 854.3h0M1494.8 854.9h0M1500.2 854.5h0M1517.4 854.5h0M1542.1 854.7h0M1544.9 854.2h0M1549.2 854.8h0M1253.5 855.9h0M1296.2 855.3h0M1336.3 855.7h0M1340.4 855.3h0M1345.4 855.0h0M1346.8 855.8h0M1354.9 855.5h0M1372.8 855.5h0M1376.0 855.4h0M1395.0 855.9h0M1400.6 855.3h0M1413.5 855.8h0M1416.9 855.7h0M1433.6 855.2h0M1456.3 855.6h0M1457.7 855.3h0M1462.0 855.7h0M1466.2 855.1h0M1480.5 855.6h0M1482.7 855.6h0M1489.1 855.0h0M1532.7 855.0h0M1537.9 855.5h0M1285.6 856.4h0M1301.6 856.1h0M1307.7 856.0h0M1349.5 856.7h0M1359.7 856.1h0M1367.3 856.9h0M1371.4 856.4h0M1374.0 856.2h0M1380.8 856.9h0M1381.2 856.2h0M1382.2 856.5h0M1388.8 856.9h0M1391.1 856.0h0M1414.3 856.6h0M1417.1 856.9h0M1453.7 856.1h0M1458.8 856.1h0M1461.2 856.4h0M1468.8 856.4h0M1470.0 857.0h0M1518.3 856.5h0M1525.7 856.9h0M1534.8 856.9h0M1535.5 856.9h0M1544.8 856.0h0M1547.1 856.3h0M1296.3 857.3h0M1302.4 857.5h0M1305.7 857.2h0M1319.1 857.2h0M1322.9 857.4h0M1324.9 857.3h0M1325.7 857.2h0M1360.5 857.7h0M1367.8 857.3h0M1369.9 857.5h0M1377.7 857.2h0M1391.4 857.1h0M1398.2 857.9h0M1415.5 857.9h0M1428.6 857.5h0M1430.1 857.3h0M1448.0 857.8h0M1449.4 857.8h0M1451.0 857.6h0M1451.5 857.7h0M1452.3 857.0h0M1455.9 857.7h0M1469.0 857.6h0M1469.8 857.0h0M1476.5 857.7h0M1480.0 858.0h0M1506.9 857.4h0M1510.0 857.3h0M1520.8 857.3h0M1521.6 857.4h0M1531.0 857.9h0M1532.9 857.3h0M1534.0 857.5h0M1537.5 857.9h0M1541.4 857.1h0M1546.1 857.5h0M1299.8 858.5h0M1310.9 858.8h0M1318.9 859.0h0M1321.5 858.1h0M1327.6 858.3h0M1338.4 858.5h0M1352.7 858.9h0M1356.4 858.3h0M1364.0 858.0h0M1368.7 858.9h0M1370.5 858.0h0M1375.5 858.6h0M1378.0 858.9h0M1384.0 858.7h0M1386.0 858.5h0M1414.8 858.7h0M1416.6 858.7h0M1452.8 858.2h0M1459.9 859.0h0M1460.6 858.2h0M1466.0 858.7h0M1468.8 858.1h0M1473.6 858.2h0M1478.8 858.5h0M1516.9 858.9h0M1525.7 858.6h0M1528.6 858.4h0M1533.6 858.2h0M1541.9 858.3h0M1542.8 858.4h0M1237.1 859.5h0M1302.3 859.2h0M1326.9 859.5h0M1329.6 859.4h0M1338.5 859.2h0M1347.2 859.8h0M1350.6 859.8h0M1356.2 859.7h0M1369.7 859.4h0M1371.2 859.1h0M1379.0 859.6h0M1384.4 859.1h0M1390.3 859.3h0M1394.6 859.4h0M1397.4 859.5h0M1400.6 859.9h0M1429.0 859.6h0M1433.0 860.0h0M1434.6 859.8h0M1461.3 859.8h0M1462.3 859.0h0M1466.3 859.8h0M1469.1 859.2h0M1472.8 859.6h0M1474.4 859.9h0M1478.4 859.7h0M1510.9 859.9h0M1523.1 859.2h0M1526.9 859.6h0M1532.1 859.1h0M1533.6 859.8h0M1538.2 859.7h0M1545.1 859.9h0M1241.0 860.5h0M1259.2 860.9h0M1278.3 860.4h0M1297.8 860.5h0M1308.8 860.5h0M1321.2 860.2h0M1322.8 860.5h0M1329.2 860.1h0M1351.1 860.2h0M1352.8 860.7h0M1361.1 860.9h0M1362.4 860.5h0M1390.5 860.5h0M1391.1 860.0h0M1394.3 860.0h0M1396.4 860.8h0M1398.8 860.8h0M1416.1 860.3h0M1425.2 860.6h0M1430.8 860.4h0M1440.9 860.7h0M1449.8 860.3h0M1451.0 860.4h0M1455.4 860.6h0M1458.8 860.2h0M1461.4 860.5h0M1462.3 860.0h0M1463.3 860.9h0M1468.7 860.4h0M1475.2 860.1h0M1479.6 860.5h0M1508.0 860.8h0M1522.6 860.1h0M1523.9 860.0h0M1529.7 861.0h0M1531.8 860.8h0M1538.0 860.9h0M1540.4 860.2h0M1542.7 860.5h0M1546.5 860.6h0M1273.8 861.6h0M1298.8 861.9h0M1309.1 861.1h0M1310.0 861.3h0M1317.7 861.2h0M1325.4 861.1h0M1331.9 861.5h0M1339.0 861.3h0M1350.2 861.7h0M1374.2 862.0h0M1395.0 861.3h0M1405.0 861.4h0M1413.1 861.9h0M1415.0 861.5h0M1417.5 861.6h0M1440.9 861.7h0M1442.8 861.0h0M1443.3 861.2h0M1451.9 861.6h0M1452.8 861.5h0M1466.5 861.2h0M1476.1 861.2h0M1477.9 861.5h0M1530.8 861.8h0M1542.5 861.2h0M1548.0 861.8h0M1239.8 862.4h0M1255.5 862.2h0M1303.3 862.4h0M1307.7 862.0h0M1311.4 862.9h0M1327.9 862.7h0M1335.9 862.1h0M1338.1 862.3h0M1339.8 862.7h0M1345.5 862.3h0M1377.5 862.5h0M1379.9 862.1h0M1380.7 862.4h0M1405.5 862.5h0M1420.3 862.6h0M1451.9 862.4h0M1452.8 862.8h0M1468.1 862.9h0M1471.4 862.9h0M1472.9 862.8h0M1507.1 863.0h0M1513.0 862.3h0M1514.0 862.6h0M1517.0 862.6h0M1518.0 862.7h0M1525.3 862.6h0M1527.8 862.5h0M1534.9 862.4h0M1545.5 862.3h0M1242.9 863.4h0M1304.8 863.3h0M1320.6 863.7h0M1331.1 863.6h0M1335.6 863.4h0M1336.4 863.8h0M1361.8 863.9h0M1371.7 863.3h0M1373.3 863.4h0M1378.3 863.4h0M1393.2 863.5h0M1414.3 863.6h0M1426.4 863.8h0M1430.8 864.0h0M1455.8 863.6h0M1457.6 863.7h0M1458.2 863.2h0M1464.5 863.4h0M1468.2 863.2h0M1510.9 863.1h0M1514.8 863.4h0M1521.0 863.4h0M1264.3 864.6h0M1265.3 864.2h0M1299.3 864.3h0M1308.3 864.0h0M1326.6 864.1h0M1335.6 864.6h0M1337.7 864.0h0M1341.5 864.7h0M1343.7 864.5h0M1355.8 864.4h0M1379.0 864.2h0M1413.2 864.4h0M1416.3 864.8h0M1417.9 864.2h0M1425.7 864.0h0M1447.3 864.8h0M1450.2 864.1h0M1453.8 864.2h0M1460.9 864.4h0M1463.2 864.7h0M1465.3 864.8h0M1466.0 864.8h0M1478.8 864.1h0M1479.3 864.5h0M1504.4 864.8h0M1516.0 864.8h0M1517.2 864.7h0M1521.4 864.7h0M1523.4 864.6h0M1300.9 865.1h0M1301.3 865.7h0M1336.0 865.6h0M1339.2 865.2h0M1352.8 865.5h0M1359.3 866.0h0M1372.9 865.4h0M1405.6 865.1h0M1439.2 865.2h0M1441.5 865.7h0M1451.2 865.2h0M1452.4 866.0h0M1454.0 865.2h0M1466.7 865.1h0M1467.6 865.6h0M1470.2 865.0h0M1475.7 865.2h0M1515.9 865.5h0M1521.0 865.9h0M1523.0 865.2h0M1527.5 865.7h0M1284.4 866.0h0M1297.8 866.2h0M1301.5 866.8h0M1308.0 866.8h0M1326.0 866.9h0M1341.7 866.2h0M1345.0 866.4h0M1357.4 866.6h0M1364.7 866.6h0M1373.2 866.0h0M1381.0 866.5h0M1415.9 866.9h0M1420.5 866.5h0M1427.2 866.4h0M1436.7 866.3h0M1439.8 866.2h0M1442.4 866.3h0M1444.1 866.7h0M1456.7 866.3h0M1464.9 866.1h0M1466.1 866.8h0M1469.7 866.1h0M1471.8 866.7h0M1506.5 866.5h0M1508.9 866.9h0M1513.0 866.7h0M1515.0 866.3h0M1260.0 867.2h0M1261.8 867.4h0M1265.6 867.4h0M1267.8 867.9h0M1303.5 867.6h0M1313.8 867.5h0M1321.0 867.9h0M1336.7 867.6h0M1343.1 867.7h0M1353.4 867.5h0M1368.7 867.6h0M1371.6 867.8h0M1373.4 867.6h0M1377.5 867.2h0M1381.8 867.3h0M1423.6 867.9h0M1431.8 867.1h0M1442.9 867.3h0M1446.0 867.3h0M1447.2 867.7h0M1449.7 867.5h0M1458.5 867.7h0M1461.8 867.3h0M1468.7 867.1h0M1472.5 867.4h0M1507.1 867.6h0M1518.0 867.7h0M1519.5 868.0h0M1521.0 867.1h0M1289.6 869.0h0M1305.5 868.7h0M1321.6 868.4h0M1325.9 868.5h0M1326.9 868.8h0M1349.3 868.3h0M1354.6 868.1h0M1355.6 868.4h0M1361.2 868.1h0M1363.8 868.4h0M1364.8 868.5h0M1371.8 869.0h0M1373.0 868.1h0M1377.2 868.9h0M1380.7 868.8h0M1415.2 868.2h0M1418.2 868.1h0M1420.2 868.2h0M1423.8 868.8h0M1430.4 868.2h0M1436.3 868.8h0M1442.6 868.8h0M1459.0 868.2h0M1465.6 868.5h0M1468.7 868.6h0M1470.0 868.7h0M1475.6 868.3h0M1505.8 868.3h0M1506.4 868.8h0M1509.8 868.7h0M1516.6 868.6h0M1297.3 869.2h0M1298.9 870.0h0M1300.3 869.9h0M1305.9 869.2h0M1312.1 869.6h0M1313.4 869.6h0M1314.5 869.2h0M1335.6 869.5h0M1349.8 869.3h0M1350.1 869.7h0M1351.1 869.4h0M1353.6 869.9h0M1365.0 869.4h0M1376.1 869.5h0M1423.5 869.4h0M1426.7 869.5h0M1428.7 869.6h0M1432.4 869.8h0M1453.2 869.3h0M1467.2 869.9h0M1501.7 869.4h0M1510.5 869.4h0M1511.7 869.2h0M1239.3 870.2h0M1250.2 870.2h0M1291.9 870.8h0M1297.7 870.9h0M1303.2 870.8h0M1306.5 871.0h0M1339.0 870.7h0M1356.5 870.9h0M1360.4 870.2h0M1366.9 870.7h0M1368.6 870.7h0M1377.0 871.0h0M1387.5 870.7h0M1414.1 870.3h0M1415.7 870.0h0M1442.3 870.2h0M1457.8 870.3h0M1467.0 870.7h0M1473.0 870.9h0M1500.2 870.8h0M1504.0 870.5h0M1507.0 870.6h0M1508.2 870.9h0M1296.4 871.3h0M1307.1 871.0h0M1323.4 871.5h0M1324.7 871.6h0M1336.4 871.5h0M1350.1 871.8h0M1355.1 871.1h0M1361.9 871.7h0M1367.5 871.8h0M1368.4 871.5h0M1373.4 871.6h0M1377.8 871.6h0M1382.2 871.8h0M1396.0 871.0h0M1416.1 871.0h0M1440.9 871.2h0M1444.4 871.9h0M1452.8 871.9h0M1472.3 871.1h0M1501.5 871.7h0M1508.4 871.8h0M1510.5 871.0h0M1512.4 871.3h0M1298.4 872.8h0M1311.4 872.3h0M1326.6 872.3h0M1333.9 872.6h0M1335.8 872.6h0M1336.5 872.8h0M1368.6 872.6h0M1391.6 872.9h0M1417.3 872.1h0M1419.0 872.1h0M1420.8 872.9h0M1426.9 872.3h0M1427.3 872.5h0M1434.7 872.2h0M1442.7 872.7h0M1466.3 872.2h0M1467.8 872.1h0M1472.9 872.1h0M1507.9 872.4h0M1277.2 873.8h0M1297.5 873.6h0M1300.4 873.8h0M1310.5 873.1h0M1313.8 873.6h0M1325.4 873.1h0M1328.8 873.6h0M1329.6 873.9h0M1330.6 873.7h0M1335.0 873.5h0M1341.2 874.0h0M1342.7 873.4h0M1344.9 873.1h0M1351.8 873.3h0M1363.1 873.1h0M1375.5 873.1h0M1388.4 873.5h0M1390.6 873.2h0M1416.8 873.1h0M1417.9 873.6h0M1432.2 873.4h0M1434.7 873.3h0M1447.7 874.0h0M1450.3 874.0h0M1454.6 873.3h0M1457.0 874.0h0M1469.7 873.6h0M1470.3 873.3h0M1498.8 873.1h0M1499.7 873.1h0M1500.2 873.1h0M1502.7 873.4h0M1258.8 874.1h0M1301.9 874.3h0M1312.3 875.0h0M1315.8 874.5h0M1324.3 874.7h0M1325.3 874.3h0M1334.3 875.0h0M1339.1 874.2h0M1343.4 874.9h0M1352.5 874.1h0M1394.2 874.4h0M1395.9 874.3h0M1398.3 874.2h0M1418.4 874.8h0M1437.5 874.4h0M1440.0 874.1h0M1456.0 874.3h0M1462.8 874.7h0M1464.9 874.1h0M1490.6 874.9h0M1497.0 874.4h0M1500.1 874.2h0M1502.4 874.8h0M1503.4 874.1h0M1505.0 874.5h0M1506.4 874.7h0M1507.2 874.4h0M1508.4 874.2h0M1510.9 874.5h0M1322.1 875.9h0M1333.6 875.9h0M1344.9 876.0h0M1353.3 875.1h0M1357.9 875.9h0M1366.5 875.0h0M1394.6 875.3h0M1400.8 875.6h0M1415.0 875.4h0M1421.5 875.9h0M1454.7 875.6h0M1455.8 875.3h0M1459.6 875.8h0M1460.9 875.7h0M1465.0 875.7h0M1470.7 875.2h0M1499.8 875.5h0M1503.1 875.1h0M1257.6 876.4h0M1297.9 876.8h0M1308.7 876.6h0M1327.1 876.6h0M1330.5 876.7h0M1335.2 876.2h0M1373.6 876.4h0M1374.8 876.2h0M1387.6 876.2h0M1392.1 876.0h0M1394.0 876.8h0M1398.9 876.9h0M1427.5 876.9h0M1434.8 876.5h0M1454.2 876.4h0M1462.1 876.0h0M1466.5 876.9h0M1477.6 876.2h0M1502.0 876.1h0M1502.9 876.6h0M1507.1 876.9h0M1291.0 877.3h0M1296.2 877.9h0M1301.0 877.5h0M1302.9 877.9h0M1305.3 877.9h0M1311.6 877.3h0M1312.6 877.3h0M1316.8 877.6h0M1321.3 877.5h0M1322.7 877.1h0M1350.7 877.4h0M1358.5 877.2h0M1361.5 877.7h0M1363.5 877.1h0M1369.2 877.8h0M1372.8 877.7h0M1376.0 877.8h0M1391.8 878.0h0M1394.9 877.6h0M1395.7 877.2h0M1420.6 877.6h0M1449.8 877.5h0M1462.7 877.7h0M1468.6 877.9h0M1491.0 877.5h0M1493.2 877.4h0M1501.2 877.1h0M1503.0 877.6h0M1507.7 877.9h0M1244.1 878.3h0M1287.1 878.3h0M1303.4 878.7h0M1304.0 878.6h0M1306.5 878.4h0M1324.9 878.1h0M1336.7 878.1h0M1338.5 878.1h0M1339.0 878.7h0M1351.9 878.2h0M1372.6 878.5h0M1376.0 878.9h0M1391.3 878.0h0M1396.4 878.7h0M1400.6 878.8h0M1402.3 878.1h0M1406.8 878.8h0M1411.4 878.0h0M1413.9 878.6h0M1414.8 878.6h0M1416.0 878.9h0M1426.5 878.3h0M1427.1 878.5h0M1435.3 878.2h0M1444.2 878.1h0M1446.7 878.9h0M1447.7 878.8h0M1457.5 878.8h0M1461.5 879.0h0M1463.3 878.5h0M1466.3 878.6h0M1492.4 878.5h0M1496.1 878.2h0M1499.6 878.7h0M1501.2 878.4h0M1507.9 878.8h0M1248.4 879.3h0M1290.2 879.9h0M1296.2 879.6h0M1301.9 879.1h0M1309.5 879.8h0M1325.2 879.0h0M1326.3 879.8h0M1331.5 879.9h0M1332.4 879.9h0M1339.7 879.4h0M1343.1 879.4h0M1349.8 879.3h0M1400.2 879.9h0M1401.3 879.9h0M1405.8 879.1h0M1408.2 879.1h0M1431.8 879.0h0M1442.0 879.2h0M1449.6 879.4h0M1463.0 879.4h0M1466.7 879.4h0M1487.0 879.9h0M1502.8 879.5h0M1504.8 879.6h0M1505.5 879.8h0M1508.0 879.2h0M1514.4 879.3h0M1286.9 880.0h0M1305.7 880.5h0M1308.6 880.1h0M1314.3 880.8h0M1324.3 880.7h0M1328.6 880.7h0M1337.4 880.7h0M1347.7 880.3h0M1360.6 880.1h0M1361.0 880.4h0M1363.4 880.9h0M1369.9 880.3h0M1379.3 880.5h0M1387.7 880.4h0M1388.8 880.6h0M1399.1 881.0h0M1407.5 880.8h0M1418.6 880.6h0M1422.1 880.2h0M1430.2 880.8h0M1435.0 880.6h0M1454.5 880.3h0M1461.8 880.4h0M1462.4 880.6h0M1464.1 880.7h0M1466.9 880.9h0M1486.1 880.7h0M1487.1 880.5h0M1490.2 880.1h0M1491.2 880.5h0M1501.2 880.5h0M1515.4 880.7h0M1245.5 881.1h0M1274.8 881.3h0M1290.9 881.9h0M1297.0 881.7h0M1300.6 881.9h0M1309.8 881.8h0M1342.0 881.6h0M1342.4 881.2h0M1346.0 881.3h0M1350.0 881.4h0M1372.7 881.4h0M1374.4 881.2h0M1387.0 881.1h0M1388.4 881.2h0M1398.0 882.0h0M1405.9 881.3h0M1406.9 881.1h0M1432.9 881.7h0M1437.8 881.9h0M1446.6 881.6h0M1459.3 881.2h0M1485.2 881.6h0M1498.6 881.9h0M1503.6 881.8h0M1506.1 881.5h0M1516.0 881.5h0M1519.8 881.1h0M1279.9 882.6h0M1287.1 882.4h0M1289.6 882.2h0M1291.3 882.5h0M1293.5 882.3h0M1299.5 882.5h0M1311.0 882.3h0M1322.1 882.5h0M1325.0 882.4h0M1354.4 882.3h0M1377.0 882.3h0M1386.5 883.0h0M1395.8 882.7h0M1396.8 882.2h0M1399.7 882.9h0M1422.3 882.8h0M1429.6 882.4h0M1452.2 883.0h0M1458.5 883.0h0M1461.4 882.8h0M1464.7 882.8h0M1465.0 882.3h0M1489.0 882.4h0M1493.0 882.6h0M1504.4 882.3h0M1506.8 882.5h0M1525.2 882.5h0M1283.3 883.0h0M1297.2 883.0h0M1303.4 884.0h0M1328.9 883.5h0M1338.6 883.7h0M1341.2 883.3h0M1344.3 883.9h0M1348.5 883.8h0M1354.4 883.8h0M1365.8 883.3h0M1370.4 884.0h0M1400.5 884.0h0M1405.3 883.8h0M1418.2 883.2h0M1422.1 883.8h0M1432.4 884.0h0M1434.6 883.8h0M1449.4 883.1h0M1460.1 883.8h0M1461.2 883.4h0M1465.2 883.2h0M1494.3 883.9h0M1499.1 883.3h0M1503.8 883.8h0M1505.0 883.9h0M1521.7 883.3h0M1526.5 883.5h0M1261.7 884.3h0M1290.2 884.3h0M1296.4 884.1h0M1314.1 884.5h0M1329.0 884.5h0M1332.2 884.4h0M1334.2 884.2h0M1357.6 884.0h0M1365.2 884.6h0M1371.3 884.7h0M1372.6 884.6h0M1379.7 884.5h0M1382.1 884.1h0M1384.0 884.6h0M1386.9 884.2h0M1393.8 884.2h0M1402.7 884.1h0M1411.1 884.9h0M1412.5 884.9h0M1417.6 884.2h0M1419.6 884.6h0M1421.5 884.3h0M1434.4 884.5h0M1438.3 884.2h0M1442.0 884.6h0M1444.6 884.5h0M1462.2 884.7h0M1471.3 884.7h0M1487.2 884.7h0M1496.9 884.4h0M1499.4 884.7h0M1503.2 884.6h0M1524.8 884.6h0M1528.4 884.6h0M1238.5 885.3h0M1266.6 885.7h0M1274.4 885.7h0M1279.1 885.3h0M1307.7 885.8h0M1312.1 885.8h0M1338.2 885.3h0M1339.4 885.6h0M1344.2 885.8h0M1347.0 885.6h0M1348.6 885.1h0M1364.6 885.8h0M1366.3 885.1h0M1378.1 885.9h0M1388.3 885.2h0M1391.9 885.5h0M1392.9 885.0h0M1395.7 885.7h0M1397.1 885.2h0M1401.1 885.6h0M1406.7 885.4h0M1409.5 885.0h0M1424.1 885.7h0M1433.1 885.6h0M1435.7 885.3h0M1436.3 886.0h0M1437.3 885.6h0M1440.3 885.8h0M1442.3 885.3h0M1445.6 885.5h0M1459.4 885.5h0M1461.3 885.7h0M1465.3 886.0h0M1491.2 885.1h0M1495.3 885.6h0M1501.6 885.6h0M1504.2 885.3h0M1529.7 885.2h0M1532.3 885.7h0M1259.4 887.0h0M1287.4 886.6h0M1289.7 886.5h0M1293.7 886.1h0M1305.0 886.6h0M1314.0 886.3h0M1315.7 886.8h0M1329.5 886.7h0M1331.8 886.6h0M1332.6 886.4h0M1337.0 886.1h0M1373.1 886.9h0M1392.0 886.2h0M1395.0 886.3h0M1424.9 886.5h0M1442.9 886.5h0M1448.7 886.1h0M1451.6 886.0h0M1452.9 886.6h0M1458.8 886.6h0M1459.9 886.1h0M1478.3 886.5h0M1481.8 886.8h0M1494.5 886.8h0M1496.7 886.4h0M1522.8 886.7h0M1528.6 886.5h0M1533.0 886.1h0M1537.9 886.4h0M1237.4 887.8h0M1244.2 887.8h0M1254.6 887.3h0M1268.6 887.9h0M1269.4 887.3h0M1276.2 887.2h0M1280.1 887.5h0M1294.4 887.1h0M1326.6 887.7h0M1336.2 887.3h0M1337.4 887.2h0M1342.4 887.3h0M1356.9 888.0h0M1378.7 887.0h0M1381.6 887.5h0M1382.3 887.9h0M1392.8 887.6h0M1424.8 887.9h0M1428.4 887.6h0M1439.5 887.2h0M1442.3 887.3h0M1443.4 887.7h0M1444.2 887.4h0M1452.3 887.6h0M1485.5 887.5h0M1494.2 887.7h0M1496.3 887.5h0M1497.1 887.0h0M1521.8 887.3h0M1525.3 887.2h0M1256.5 888.4h0M1262.9 888.5h0M1291.0 888.7h0M1300.2 888.9h0M1311.8 888.3h0M1330.8 888.8h0M1332.1 888.2h0M1333.3 888.2h0M1336.0 888.1h0M1348.2 888.9h0M1371.6 888.9h0M1372.6 888.4h0M1382.2 888.4h0M1417.8 888.5h0M1418.8 888.2h0M1451.6 888.6h0M1454.7 888.4h0M1487.3 888.5h0M1523.6 888.3h0M1526.5 888.1h0M1531.9 888.5h0M1233.1 889.2h0M1268.2 889.9h0M1279.7 889.1h0M1285.2 889.6h0M1288.8 889.4h0M1292.2 889.8h0M1309.5 889.8h0M1312.4 889.9h0M1334.5 889.2h0M1346.7 889.3h0M1375.3 889.5h0M1383.8 889.3h0M1419.9 889.3h0M1421.1 889.3h0M1422.6 889.6h0M1429.3 889.2h0M1430.2 889.7h0M1431.6 889.3h0M1448.4 889.5h0M1455.1 889.3h0M1459.5 889.7h0M1461.6 889.9h0M1521.7 890.0h0M1530.7 889.6h0M1535.6 889.4h0M1541.4 889.7h0M1234.7 890.4h0M1259.6 891.0h0M1291.8 890.7h0M1292.0 890.3h0M1296.2 890.3h0M1297.3 890.7h0M1368.7 890.1h0M1379.4 890.6h0M1380.8 891.0h0M1383.5 890.1h0M1386.2 890.5h0M1416.0 890.0h0M1429.5 890.7h0M1440.8 890.5h0M1448.7 891.0h0M1456.1 890.2h0M1461.0 890.3h0M1466.5 890.2h0M1490.6 890.9h0M1526.8 890.0h0M1527.4 890.6h0M1529.4 890.6h0M1541.0 890.6h0M1541.3 890.2h0M1234.4 891.2h0M1244.1 891.4h0M1262.9 891.1h0M1279.4 891.5h0M1282.1 891.8h0M1309.0 891.7h0M1329.4 891.0h0M1333.1 891.7h0M1337.0 891.6h0M1339.6 891.9h0M1348.5 891.9h0M1373.3 891.9h0M1380.0 891.6h0M1386.6 891.8h0M1391.0 891.5h0M1392.4 891.8h0M1401.8 891.1h0M1441.5 891.4h0M1442.4 891.6h0M1443.6 891.5h0M1455.8 891.2h0M1456.2 891.9h0M1465.7 891.7h0M1470.5 891.1h0M1523.9 891.7h0M1535.2 891.8h0M1540.8 891.3h0M1547.1 891.5h0M1263.5 892.7h0M1265.3 892.1h0M1266.9 892.4h0M1281.7 892.2h0M1289.7 892.7h0M1328.4 892.7h0M1342.7 892.7h0M1349.2 892.2h0M1366.0 892.6h0M1370.5 892.6h0M1409.7 892.5h0M1423.6 892.1h0M1442.3 892.9h0M1448.6 892.4h0M1449.4 892.7h0M1454.1 892.4h0M1456.0 892.3h0M1458.3 892.1h0M1463.1 893.0h0M1472.3 892.1h0M1486.9 893.0h0M1539.8 892.6h0M1239.7 893.2h0M1277.1 893.5h0M1279.8 893.9h0M1290.2 893.3h0M1294.2 893.6h0M1329.1 893.6h0M1341.7 893.6h0M1347.1 894.0h0M1348.7 893.3h0M1349.0 893.3h0M1351.2 893.2h0M1377.7 893.5h0M1385.3 893.5h0M1392.1 893.5h0M1396.1 893.2h0M1416.2 893.3h0M1417.7 893.0h0M1425.4 894.0h0M1432.3 893.5h0M1438.9 893.2h0M1459.0 893.7h0M1460.8 893.5h0M1533.6 893.1h0M1540.2 893.6h0M1553.6 893.0h0M1240.2 894.2h0M1242.5 894.5h0M1267.5 894.6h0M1295.0 894.2h0M1309.7 894.3h0M1321.9 895.0h0M1324.1 894.4h0M1333.4 894.8h0M1336.7 894.3h0M1341.5 894.1h0M1352.9 894.6h0M1356.9 894.6h0M1364.1 894.6h0M1372.9 894.6h0M1377.1 894.6h0M1381.1 894.4h0M1384.7 895.0h0M1385.3 894.4h0M1389.4 894.3h0M1400.5 894.5h0M1401.6 894.5h0M1427.0 894.6h0M1430.4 894.4h0M1433.1 894.4h0M1439.6 894.4h0M1441.7 894.3h0M1443.3 895.0h0M1447.9 894.2h0M1455.8 894.3h0M1487.8 894.3h0M1524.3 894.5h0M1533.3 894.9h0M1544.1 894.4h0M1246.6 895.4h0M1276.4 895.7h0M1278.0 895.2h0M1279.3 895.7h0M1290.2 895.6h0M1294.2 895.7h0M1300.0 895.4h0M1320.3 895.5h0M1323.5 895.6h0M1324.0 895.9h0M1325.3 895.3h0M1327.3 895.4h0M1329.6 895.3h0M1339.1 895.1h0M1345.6 895.9h0M1352.4 895.4h0M1353.0 895.5h0M1364.8 895.9h0M1389.8 895.9h0M1391.4 895.1h0M1395.5 895.8h0M1427.4 895.9h0M1428.1 895.2h0M1431.5 895.0h0M1447.3 895.5h0M1452.8 895.3h0M1528.5 895.8h0M1532.1 895.2h0M1545.1 895.6h0M1553.9 896.0h0M1252.9 896.1h0M1267.0 896.2h0M1271.3 896.4h0M1272.6 896.1h0M1279.1 896.8h0M1299.0 896.2h0M1302.0 896.1h0M1304.2 896.9h0M1306.4 896.2h0M1308.6 896.1h0M1309.4 896.4h0M1310.3 896.9h0M1319.7 896.2h0M1342.9 896.6h0M1348.4 896.8h0M1356.1 896.2h0M1357.4 896.2h0M1365.2 896.1h0M1379.1 896.2h0M1380.7 896.5h0M1389.7 896.7h0M1397.3 896.2h0M1440.5 896.7h0M1444.7 896.4h0M1448.0 896.6h0M1451.3 897.0h0M1462.7 896.2h0M1469.6 896.9h0M1484.0 896.1h0M1508.3 896.6h0M1514.6 896.3h0M1524.0 896.9h0M1534.5 896.6h0M1541.5 896.5h0M1546.0 896.8h0M1263.6 897.3h0M1273.8 897.9h0M1275.4 897.7h0M1276.9 897.8h0M1293.5 897.0h0M1312.0 897.6h0M1313.7 897.6h0M1314.1 897.9h0M1321.9 897.5h0M1332.6 897.2h0M1335.2 897.9h0M1347.2 897.8h0M1355.3 897.4h0M1370.6 897.3h0M1375.7 897.6h0M1379.3 897.6h0M1380.4 897.3h0M1387.2 897.3h0M1391.8 897.9h0M1406.5 897.4h0M1424.6 897.1h0M1448.3 897.9h0M1451.9 897.4h0M1487.0 897.8h0M1493.7 897.1h0M1517.5 897.8h0M1248.1 898.4h0M1251.8 898.2h0M1252.3 898.9h0M1261.3 898.4h0M1263.8 898.9h0M1269.4 898.6h0M1276.7 898.3h0M1281.7 898.5h0M1293.5 898.1h0M1312.1 898.6h0M1324.7 898.4h0M1334.0 898.6h0M1338.0 898.3h0M1343.4 898.7h0M1371.6 898.7h0M1373.3 898.8h0M1375.0 898.2h0M1383.5 899.0h0M1384.9 898.9h0M1388.2 898.4h0M1391.1 898.7h0M1421.6 899.0h0M1422.5 898.9h0M1432.0 898.6h0M1433.3 898.8h0M1437.5 898.6h0M1459.3 898.5h0M1494.0 898.3h0M1504.8 898.2h0M1505.3 898.5h0M1517.5 898.7h0M1518.6 898.3h0M1541.2 898.4h0M1543.8 898.7h0M1252.7 900.0h0M1270.1 899.9h0M1311.6 899.1h0M1333.0 900.0h0M1341.7 899.1h0M1344.9 899.7h0M1359.2 899.5h0M1367.9 899.4h0M1369.6 899.3h0M1376.0 900.0h0M1377.2 899.3h0M1386.7 899.7h0M1393.0 899.4h0M1423.8 899.4h0M1426.7 899.9h0M1427.8 899.2h0M1428.3 899.6h0M1431.0 899.6h0M1435.8 899.6h0M1438.3 899.4h0M1440.3 899.1h0M1450.7 899.4h0M1471.0 899.8h0M1501.7 899.6h0M1503.8 899.8h0M1511.2 899.7h0M1531.6 900.0h0M1265.3 900.9h0M1267.7 900.3h0M1293.3 900.4h0M1294.1 900.3h0M1298.1 900.2h0M1304.5 900.4h0M1326.0 900.9h0M1327.0 900.4h0M1330.1 900.4h0M1334.8 900.0h0M1351.0 900.9h0M1360.2 901.0h0M1376.9 900.5h0M1387.8 901.0h0M1390.0 900.6h0M1391.9 900.3h0M1401.6 900.8h0M1427.3 900.4h0M1436.8 900.2h0M1437.6 900.4h0M1443.3 900.8h0M1472.9 900.3h0M1494.3 900.5h0M1521.6 900.8h0M1531.4 900.2h0M1542.9 900.3h0M1262.4 901.4h0M1283.9 901.8h0M1291.4 901.5h0M1293.0 901.7h0M1296.7 901.2h0M1304.2 901.8h0M1313.1 901.5h0M1316.5 901.2h0M1317.6 901.9h0M1347.6 901.8h0M1349.6 901.8h0M1364.9 901.2h0M1365.2 901.5h0M1372.6 901.8h0M1377.0 901.4h0M1384.3 901.2h0M1386.7 901.5h0M1389.2 901.5h0M1395.7 902.0h0M1397.1 901.7h0M1398.4 901.6h0M1434.7 901.6h0M1436.2 901.2h0M1443.4 901.2h0M1447.6 901.8h0M1453.3 901.5h0M1493.6 901.9h0M1522.7 901.2h0M1524.1 901.1h0M1531.0 901.6h0M1542.9 902.0h0M1544.7 902.0h0M1546.0 902.0h0M1555.9 901.0h0M1262.7 902.1h0M1286.0 902.7h0M1291.0 902.3h0M1313.5 902.8h0M1325.2 902.4h0M1330.2 902.6h0M1334.2 902.7h0M1343.9 902.4h0M1360.6 902.8h0M1368.6 902.7h0M1379.5 902.4h0M1395.3 902.9h0M1405.1 902.2h0M1424.1 902.3h0M1439.9 902.5h0M1440.4 902.3h0M1445.3 902.8h0M1262.5 903.8h0M1280.3 903.3h0M1289.6 903.4h0M1302.0 903.4h0M1303.5 903.1h0M1317.8 903.1h0M1326.5 904.0h0M1327.8 903.1h0M1336.0 903.3h0M1354.9 903.2h0M1367.0 903.5h0M1367.0 903.9h0M1372.9 903.9h0M1380.1 904.0h0M1387.6 903.4h0M1397.3 903.8h0M1410.4 903.1h0M1434.5 903.0h0M1435.1 903.7h0M1439.1 903.1h0M1441.1 903.7h0M1453.1 903.1h0M1464.3 903.5h0M1488.4 903.3h0M1534.1 903.5h0M1545.9 903.8h0M1546.7 903.1h0M1555.3 903.1h0M1561.6 903.3h0M1563.2 903.4h0M1258.2 904.4h0M1261.9 904.4h0M1269.1 904.9h0M1281.2 904.3h0M1289.5 904.3h0M1291.7 904.6h0M1296.1 904.5h0M1301.7 904.6h0M1302.6 904.1h0M1303.9 904.8h0M1338.7 904.3h0M1355.2 904.0h0M1361.8 904.7h0M1364.4 904.3h0M1369.7 904.4h0M1375.5 904.4h0M1387.0 904.7h0M1388.3 904.2h0M1394.2 904.5h0M1408.0 904.6h0M1408.4 904.3h0M1434.7 904.8h0M1435.2 904.4h0M1441.9 904.1h0M1443.1 905.0h0M1488.6 904.3h0M1499.7 904.4h0M1511.9 904.1h0M1531.0 904.8h0M1536.0 904.6h0M1543.9 904.6h0M1544.6 904.8h0M1546.2 904.4h0M1552.5 904.3h0M1561.1 904.7h0M1264.0 905.0h0M1265.2 905.8h0M1268.5 905.8h0M1269.3 905.0h0M1275.4 905.7h0M1276.7 906.0h0M1281.4 905.3h0M1286.8 905.5h0M1287.1 905.1h0M1294.6 905.0h0M1303.9 905.9h0M1317.6 905.5h0M1326.7 905.0h0M1332.6 905.2h0M1351.6 906.0h0M1352.5 905.8h0M1365.5 905.9h0M1376.8 905.2h0M1378.0 905.8h0M1412.4 905.1h0M1430.8 905.4h0M1432.8 905.3h0M1436.7 905.4h0M1437.3 905.1h0M1440.5 905.2h0M1441.8 906.0h0M1532.8 905.3h0M1546.8 905.3h0M1550.2 905.5h0M1259.2 906.2h0M1265.7 906.4h0M1270.8 906.4h0M1302.2 906.7h0M1313.5 906.9h0M1317.8 906.2h0M1322.7 906.2h0M1332.6 906.5h0M1336.9 906.7h0M1355.2 906.6h0M1361.7 906.4h0M1363.7 906.4h0M1365.7 906.5h0M1366.7 906.6h0M1367.7 906.2h0M1370.3 906.8h0M1371.0 906.2h0M1373.0 906.5h0M1389.6 906.1h0M1400.5 906.4h0M1401.1 906.9h0M1410.7 906.7h0M1416.0 906.8h0M1423.6 906.5h0M1433.5 906.5h0M1505.2 906.3h0M1506.4 906.4h0M1509.4 906.6h0M1533.1 906.7h0M1537.8 906.3h0M1558.6 906.4h0M1562.1 906.8h0M1305.8 907.4h0M1310.3 907.7h0M1311.7 908.0h0M1312.7 907.8h0M1316.9 907.2h0M1329.3 907.5h0M1331.9 907.7h0M1342.5 907.4h0M1355.6 907.6h0M1359.2 907.8h0M1364.0 907.7h0M1379.7 907.9h0M1392.3 907.9h0M1399.6 907.0h0M1409.9 907.5h0M1416.4 907.6h0M1420.0 907.0h0M1433.8 907.6h0M1435.2 907.3h0M1440.9 907.6h0M1498.2 907.1h0M1519.0 907.1h0M1571.6 907.6h0M1262.9 909.0h0M1266.3 908.2h0M1272.0 908.5h0M1302.6 908.9h0M1316.1 908.0h0M1321.2 908.7h0M1323.4 908.8h0M1328.0 908.6h0M1334.3 908.4h0M1335.5 908.6h0M1345.4 908.4h0M1370.4 908.6h0M1375.6 909.0h0M1395.6 908.7h0M1400.2 908.1h0M1420.3 908.6h0M1465.2 908.9h0M1500.2 908.2h0M1534.9 908.8h0M1553.1 908.2h0M1568.9 908.3h0M1263.7 909.1h0M1269.9 909.8h0M1276.6 909.8h0M1288.7 909.5h0M1313.2 909.9h0M1317.5 909.8h0M1318.6 909.9h0M1325.7 909.5h0M1327.2 909.9h0M1331.4 909.6h0M1346.0 909.0h0M1357.0 909.1h0M1359.8 909.4h0M1361.0 909.1h0M1364.0 909.3h0M1370.8 909.2h0M1396.6 909.7h0M1398.9 909.4h0M1400.4 910.0h0M1411.8 909.0h0M1417.4 910.0h0M1427.4 909.2h0M1430.2 909.9h0M1442.7 909.0h0M1486.9 909.1h0M1550.5 909.4h0M1551.6 909.9h0M1555.0 909.6h0M1570.2 910.0h0M1577.6 909.9h0M1260.2 910.0h0M1273.5 911.0h0M1279.0 910.7h0M1287.9 910.7h0M1310.8 910.8h0M1313.2 910.1h0M1320.4 910.2h0M1336.0 910.2h0M1336.9 911.0h0M1346.3 910.7h0M1360.8 910.2h0M1372.1 910.2h0M1374.8 910.9h0M1376.4 910.5h0M1378.1 910.4h0M1389.8 910.9h0M1398.8 910.1h0M1401.0 910.4h0M1401.9 910.5h0M1402.8 910.7h0M1406.6 910.7h0M1407.5 910.5h0M1418.2 911.0h0M1422.1 910.7h0M1423.9 910.3h0M1425.7 910.2h0M1436.3 910.5h0M1439.4 910.6h0M1440.5 910.4h0M1530.3 910.6h0M1556.7 910.1h0M1557.5 910.8h0M1262.3 911.6h0M1273.0 911.9h0M1277.2 911.8h0M1314.5 911.7h0M1344.7 911.5h0M1347.4 911.6h0M1377.3 911.6h0M1384.2 912.0h0M1385.2 911.5h0M1387.0 912.0h0M1389.1 911.3h0M1405.7 911.4h0M1418.8 911.3h0M1420.0 911.4h0M1427.0 911.8h0M1436.4 911.4h0M1495.9 911.9h0M1511.2 911.0h0M1566.0 911.1h0M1574.7 911.6h0M1575.8 911.1h0M1260.6 912.4h0M1262.6 912.0h0M1277.2 912.3h0M1282.4 912.3h0M1284.7 912.5h0M1289.1 912.1h0M1302.5 912.6h0M1304.0 912.4h0M1315.0 912.1h0M1315.8 912.4h0M1317.9 912.1h0M1323.7 912.5h0M1325.8 912.9h0M1326.8 912.2h0M1337.5 912.4h0M1340.4 912.7h0M1341.4 912.6h0M1342.2 913.0h0M1374.7 912.5h0M1378.0 912.2h0M1378.5 912.5h0M1382.4 913.0h0M1383.0 912.8h0M1401.5 913.0h0M1421.4 912.9h0M1424.1 912.4h0M1497.4 912.4h0M1506.6 912.2h0M1550.2 912.3h0M1568.8 912.6h0M1262.8 913.7h0M1314.1 913.4h0M1333.4 913.6h0M1368.1 913.5h0M1369.2 913.9h0M1376.1 913.9h0M1379.3 913.6h0M1385.9 913.3h0M1386.3 913.3h0M1395.5 913.3h0M1397.6 913.1h0M1401.8 913.1h0M1411.0 913.0h0M1414.2 913.1h0M1424.8 913.2h0M1428.2 913.3h0M1434.3 913.2h0M1445.4 913.6h0M1470.0 913.1h0M1505.9 913.4h0M1531.7 913.4h0M1540.8 913.9h0M1571.4 913.9h0M1265.9 914.7h0M1267.2 914.3h0M1277.7 914.6h0M1284.2 914.3h0M1286.6 914.0h0M1305.3 914.4h0M1307.9 914.7h0M1311.1 914.9h0M1312.5 914.1h0M1340.6 914.3h0M1342.1 914.5h0M1345.4 914.3h0M1367.8 915.0h0M1374.1 914.1h0M1375.7 915.0h0M1378.5 914.6h0M1383.3 914.9h0M1396.7 915.0h0M1415.0 914.1h0M1426.5 914.3h0M1438.3 914.2h0M1514.4 914.9h0M1517.0 914.5h0M1519.4 914.9h0M1532.2 914.4h0M1554.3 914.3h0M1557.0 914.1h0M1566.5 914.0h0M1586.0 914.6h0M1282.7 915.8h0M1285.1 915.0h0M1286.2 915.2h0M1331.6 916.0h0M1333.4 915.1h0M1341.1 915.3h0M1389.4 915.1h0M1406.9 915.9h0M1413.8 915.4h0M1433.3 915.9h0M1483.8 915.1h0M1558.9 915.5h0M1562.5 915.6h0M1563.7 915.7h0M1586.8 915.4h0M1261.0 916.6h0M1264.3 916.1h0M1267.5 916.9h0M1271.1 916.4h0M1279.1 916.1h0M1286.1 916.1h0M1287.9 916.1h0M1294.5 916.4h0M1298.0 916.6h0M1303.7 916.7h0M1311.8 916.4h0M1320.9 916.7h0M1360.1 916.3h0M1362.9 916.4h0M1390.2 916.7h0M1395.3 916.5h0M1397.3 916.1h0M1399.3 916.2h0M1419.9 916.1h0M1432.2 916.2h0M1470.1 916.8h0M1498.6 916.1h0M1504.5 916.4h0M1573.3 916.4h0M1579.5 916.4h0M1581.4 916.3h0M1585.8 916.5h0M765.9 917.2h0M769.9 917.9h0M773.8 917.8h0M775.4 917.8h0M778.6 917.9h0M1261.4 917.4h0M1279.9 917.7h0M1283.5 917.6h0M1284.1 917.7h0M1285.0 917.0h0M1289.5 917.8h0M1297.9 917.9h0M1298.7 917.4h0M1301.8 917.6h0M1311.3 917.8h0M1319.9 917.4h0M1333.8 917.3h0M1337.4 917.2h0M1346.7 917.6h0M1350.5 917.8h0M1354.8 917.6h0M1363.2 917.5h0M1375.9 917.6h0M1402.8 917.4h0M1405.4 917.9h0M1410.8 917.6h0M1416.3 917.6h0M1421.0 917.8h0M1510.7 917.4h0M1549.5 917.4h0M1550.7 917.8h0M1572.8 917.0h0M1585.5 917.2h0M1586.0 917.3h0M1590.1 917.7h0M1591.5 917.3h0M764.5 918.1h0M772.9 918.7h0M787.9 918.5h0M1268.3 918.3h0M1270.6 918.3h0M1276.4 918.4h0M1292.9 918.6h0M1293.0 918.9h0M1301.7 918.9h0M1308.4 918.8h0M1316.1 919.0h0M1337.0 918.8h0M1346.6 918.4h0M1361.4 918.1h0M1362.6 918.7h0M1376.4 918.9h0M1377.5 918.9h0M1386.6 918.6h0M1392.2 918.9h0M1396.4 918.5h0M1399.4 918.1h0M1401.2 918.2h0M1431.3 918.2h0M1433.9 918.5h0M1502.0 918.3h0M1571.1 918.5h0M1580.4 918.2h0M1592.8 918.2h0M684.9 919.3h0M758.9 919.6h0M763.8 919.7h0M771.3 919.0h0M776.2 919.5h0M780.6 919.3h0M784.7 919.7h0M785.5 919.9h0M789.3 919.7h0M1269.9 919.2h0M1277.5 919.2h0M1299.5 919.1h0M1330.7 919.8h0M1344.0 919.5h0M1353.9 919.8h0M1358.9 919.7h0M1359.3 919.7h0M1367.2 919.3h0M1374.3 919.2h0M1389.9 919.5h0M1399.6 919.2h0M1415.7 919.9h0M1417.0 920.0h0M1431.3 919.8h0M1479.2 919.1h0M1505.9 919.4h0M1521.1 919.7h0M1580.8 919.6h0M1587.3 919.4h0M1588.9 919.1h0M1594.2 919.8h0M680.4 920.2h0M683.5 920.6h0M693.8 920.4h0M759.8 920.3h0M767.1 920.5h0M777.1 921.0h0M786.7 920.1h0M1264.8 920.1h0M1275.3 920.5h0M1277.0 920.1h0M1280.1 920.7h0M1298.1 920.9h0M1300.2 921.0h0M1305.4 920.4h0M1318.8 920.2h0M1336.9 920.7h0M1340.6 920.5h0M1366.3 920.5h0M1372.3 920.7h0M1375.4 921.0h0M1396.8 920.4h0M1398.4 920.7h0M1404.6 920.9h0M1407.0 920.6h0M1419.9 920.1h0M1428.6 920.2h0M1509.1 920.8h0M1517.4 920.5h0M1525.8 920.7h0M1555.8 920.6h0M1581.0 920.2h0M1585.2 920.9h0M1587.3 920.0h0M1591.3 920.5h0M1593.5 920.7h0M1595.2 920.2h0M681.1 921.4h0M689.6 921.0h0M691.8 921.8h0M696.3 921.8h0M749.8 921.8h0M753.6 921.6h0M758.3 921.2h0M776.0 921.5h0M786.0 921.1h0M802.4 921.5h0M804.4 921.6h0M1266.7 921.0h0M1274.9 921.4h0M1280.6 921.5h0M1293.4 921.0h0M1295.5 921.0h0M1301.1 921.4h0M1302.8 921.1h0M1304.8 922.0h0M1313.2 921.7h0M1322.1 921.1h0M1336.8 921.1h0M1343.6 921.1h0M1349.0 921.0h0M1353.3 921.8h0M1362.9 921.2h0M1371.7 921.7h0M1388.3 921.7h0M1394.6 921.9h0M1410.6 921.2h0M1415.3 921.3h0M1417.5 921.2h0M1494.2 921.4h0M1498.3 921.3h0M1507.6 921.8h0M1509.1 921.3h0M1510.2 921.6h0M1517.1 921.5h0M1582.7 921.1h0M1583.7 921.8h0M1588.3 922.0h0M1593.1 921.3h0M677.9 922.0h0M681.9 922.7h0M682.8 922.4h0M684.5 922.5h0M686.4 922.2h0M690.8 922.7h0M692.9 922.1h0M741.4 922.2h0M744.9 923.0h0M784.4 922.8h0M789.8 922.4h0M792.3 922.2h0M795.6 923.0h0M1268.9 922.8h0M1273.4 922.7h0M1279.8 922.9h0M1285.1 922.5h0M1293.1 922.7h0M1308.0 922.3h0M1309.5 922.1h0M1318.3 922.9h0M1351.0 922.6h0M1352.9 922.7h0M1363.4 922.3h0M1367.7 922.1h0M1381.5 922.7h0M1388.1 922.7h0M1393.7 923.0h0M1395.5 922.9h0M1402.3 922.2h0M1421.8 922.9h0M1514.5 922.1h0M1518.4 922.1h0M1519.0 922.8h0M1574.0 923.0h0M1585.0 922.7h0M1589.1 922.8h0M680.6 923.9h0M683.5 923.8h0M686.6 923.9h0M695.4 923.5h0M703.7 923.8h0M756.7 923.5h0M760.8 923.1h0M777.4 923.4h0M787.4 924.0h0M788.9 923.3h0M793.9 923.4h0M797.7 923.8h0M818.0 923.3h0M818.4 923.1h0M1264.7 923.9h0M1276.4 923.1h0M1291.0 923.8h0M1292.1 923.6h0M1302.3 923.5h0M1305.5 923.5h0M1310.7 923.6h0M1313.6 923.1h0M1314.2 923.0h0M1320.2 923.6h0M1340.2 923.8h0M1353.9 923.7h0M1371.1 923.5h0M1373.4 923.2h0M1386.9 923.1h0M1391.7 923.2h0M1394.9 923.8h0M1395.1 923.7h0M1571.2 923.0h0M1582.9 923.7h0M703.7 924.8h0M705.7 924.5h0M706.7 924.5h0M722.3 924.9h0M725.6 924.1h0M738.1 924.8h0M747.9 924.0h0M761.0 924.3h0M774.1 924.4h0M806.5 925.0h0M807.3 924.3h0M809.4 924.8h0M1263.4 924.5h0M1273.3 924.1h0M1282.1 924.7h0M1289.5 924.6h0M1300.0 924.2h0M1300.4 924.5h0M1303.8 924.8h0M1310.7 924.3h0M1313.1 924.4h0M1314.9 924.0h0M1327.5 924.5h0M1336.4 924.3h0M1337.6 924.6h0M1342.6 924.6h0M1343.4 924.2h0M1345.3 924.1h0M1355.4 924.2h0M1360.9 924.9h0M1363.5 924.0h0M1376.1 924.8h0M1392.1 924.7h0M1393.0 924.3h0M1396.1 924.7h0M1399.4 924.7h0M1417.3 924.4h0M1428.7 924.5h0M1485.0 924.8h0M1501.6 924.6h0M1507.4 924.9h0M1513.2 924.0h0M1589.0 924.1h0M1596.9 924.6h0M1599.6 924.8h0M685.3 925.8h0M694.6 925.8h0M702.2 925.8h0M728.7 925.7h0M730.0 925.1h0M736.8 925.6h0M741.6 926.0h0M746.4 925.6h0M761.4 925.0h0M764.5 925.1h0M773.3 925.1h0M776.0 925.9h0M778.1 925.4h0M780.2 925.0h0M808.4 925.7h0M814.4 925.3h0M1267.8 925.1h0M1270.4 925.7h0M1275.7 926.0h0M1284.8 925.8h0M1289.0 925.4h0M1300.4 925.7h0M1305.4 925.6h0M1314.6 925.6h0M1344.2 925.7h0M1350.4 925.3h0M1419.2 925.5h0M1433.7 925.3h0M1507.2 925.7h0M1511.4 925.2h0M1512.5 925.8h0M1518.3 926.0h0M1588.4 925.4h0M688.3 926.2h0M689.3 926.5h0M690.0 926.8h0M701.9 926.3h0M709.8 926.4h0M718.8 927.0h0M756.1 926.9h0M772.3 926.4h0M774.9 926.9h0M813.1 926.1h0M821.2 926.6h0M1280.5 926.0h0M1293.5 926.8h0M1301.6 926.0h0M1306.2 926.1h0M1307.7 926.1h0M1318.6 926.6h0M1352.1 927.0h0M1364.8 926.4h0M1372.3 926.8h0M1390.2 926.5h0M1396.0 927.0h0M1403.9 926.5h0M1421.3 926.0h0M1426.3 926.1h0M1431.8 926.4h0M1433.6 926.1h0M1438.7 926.3h0M1583.2 926.1h0M1585.2 926.9h0M1600.4 926.6h0M675.9 927.0h0M677.2 928.0h0M689.1 927.2h0M698.4 927.9h0M710.0 927.4h0M729.6 927.2h0M737.5 927.0h0M738.4 928.0h0M741.8 927.5h0M752.3 927.5h0M754.8 927.5h0M775.7 927.2h0M777.1 927.9h0M812.8 927.1h0M831.6 927.4h0M1272.2 927.2h0M1274.6 927.7h0M1278.9 927.2h0M1306.2 927.2h0M1313.0 927.8h0M1326.7 928.0h0M1342.0 927.6h0M1344.8 927.6h0M1345.3 927.5h0M1353.1 927.9h0M1358.0 927.6h0M1359.2 927.7h0M1373.0 927.7h0M1376.1 927.8h0M1381.5 927.3h0M1404.0 927.9h0M1420.1 927.3h0M1435.4 927.3h0M1504.8 927.0h0M1512.3 927.3h0M1522.0 927.7h0M1559.0 927.7h0M1574.0 928.0h0M1584.5 927.4h0M1600.1 927.6h0M1606.0 927.8h0M677.1 928.5h0M683.6 928.8h0M686.6 928.6h0M690.7 928.9h0M693.5 928.9h0M697.2 928.9h0M700.5 928.6h0M701.8 928.4h0M721.3 928.4h0M722.6 928.2h0M724.8 928.4h0M732.5 928.9h0M734.4 928.3h0M735.6 928.9h0M750.7 928.4h0M755.5 928.6h0M757.7 928.5h0M765.1 928.2h0M772.5 928.3h0M777.1 928.9h0M814.2 928.4h0M824.0 928.7h0M829.5 928.9h0M1279.1 928.8h0M1305.5 928.2h0M1310.4 928.4h0M1326.0 928.6h0M1330.5 928.1h0M1333.0 928.8h0M1344.7 928.4h0M1349.8 928.8h0M1360.4 928.3h0M1367.3 928.1h0M1369.1 928.7h0M1379.8 928.9h0M1380.8 928.0h0M1388.8 928.4h0M1389.9 928.5h0M1433.7 928.7h0M1499.9 928.2h0M1574.7 928.8h0M1584.3 928.3h0M1586.6 928.7h0M1596.1 928.0h0M1606.6 928.8h0M670.3 929.9h0M673.0 929.7h0M686.3 929.8h0M696.4 929.8h0M701.6 929.4h0M702.4 929.2h0M705.8 929.4h0M709.4 929.9h0M711.5 929.1h0M721.0 929.5h0M721.7 929.4h0M725.8 929.6h0M729.8 929.5h0M736.8 929.4h0M758.7 929.1h0M769.3 929.0h0M771.9 929.4h0M833.2 929.9h0M1268.2 929.3h0M1276.8 929.3h0M1279.9 929.3h0M1282.7 929.3h0M1284.5 929.6h0M1285.7 929.8h0M1288.0 929.1h0M1288.7 929.8h0M1290.4 930.0h0M1309.8 929.1h0M1323.2 929.2h0M1327.4 930.0h0M1331.7 929.8h0M1335.5 929.9h0M1341.5 929.8h0M1350.0 929.9h0M1370.4 929.8h0M1371.3 929.1h0M1372.2 929.8h0M1394.7 929.6h0M1412.4 929.9h0M1415.9 929.8h0M1420.6 929.7h0M1423.7 929.1h0M1594.7 929.6h0M1604.3 929.6h0M1605.9 929.8h0M669.9 930.6h0M672.5 930.6h0M675.1 930.7h0M678.7 930.0h0M681.5 930.7h0M682.6 930.5h0M704.5 930.3h0M705.8 930.1h0M709.5 930.3h0M713.1 930.5h0M716.2 930.2h0M722.6 931.0h0M723.3 930.4h0M745.3 930.6h0M758.4 930.1h0M768.5 930.4h0M775.9 930.2h0M817.8 930.7h0M1270.9 930.7h0M1279.7 930.8h0M1282.4 930.2h0M1311.0 931.0h0M1329.6 930.0h0M1332.6 930.9h0M1340.1 930.5h0M1354.8 930.9h0M1363.2 930.9h0M1373.2 930.2h0M1376.2 930.5h0M1392.5 930.4h0M1420.1 930.5h0M1425.0 930.2h0M1432.8 930.6h0M1492.9 930.5h0M1496.4 930.7h0M1503.3 930.3h0M1509.2 930.7h0M1574.6 930.4h0M1580.8 930.6h0M1585.5 930.8h0M1587.2 930.4h0M1588.8 930.7h0M1604.1 930.1h0M668.7 931.3h0M680.6 931.6h0M689.3 931.8h0M702.9 931.8h0M708.8 931.8h0M713.9 931.7h0M724.9 931.9h0M725.6 931.2h0M752.4 931.8h0M755.8 931.9h0M821.8 931.7h0M827.0 931.9h0M829.7 931.3h0M1272.7 931.8h0M1274.8 931.9h0M1275.5 931.4h0M1280.8 931.4h0M1282.5 931.3h0M1305.1 931.0h0M1308.0 931.0h0M1323.4 931.5h0M1340.6 931.5h0M1343.4 931.4h0M1357.7 931.8h0M1374.2 931.7h0M1379.5 931.5h0M1380.8 931.2h0M1385.0 931.2h0M1390.0 931.9h0M1400.8 931.9h0M1416.6 931.1h0M1423.0 931.6h0M1489.3 931.2h0M1501.8 932.0h0M1503.1 931.5h0M1571.3 931.2h0M1573.6 931.1h0M1575.2 931.6h0M1580.6 931.9h0M1587.6 931.7h0M1591.8 931.6h0M677.6 932.9h0M679.5 932.4h0M687.9 932.1h0M691.9 932.1h0M703.4 932.4h0M704.7 932.6h0M706.7 932.7h0M712.8 932.4h0M716.7 932.0h0M726.6 932.3h0M742.8 932.6h0M744.9 932.7h0M745.7 932.8h0M756.4 932.7h0M762.6 933.0h0M763.2 932.9h0M766.7 932.4h0M772.0 932.2h0M817.0 932.7h0M1281.1 932.6h0M1288.8 932.6h0M1290.9 933.0h0M1294.9 932.2h0M1306.7 932.5h0M1309.1 932.6h0M1310.5 932.2h0M1328.6 932.8h0M1337.6 932.3h0M1339.2 932.0h0M1340.3 932.4h0M1349.1 932.4h0M1360.0 932.2h0M1365.5 932.8h0M1375.1 932.4h0M1379.9 933.0h0M1388.6 932.2h0M1389.8 932.9h0M1390.3 932.5h0M1397.8 932.7h0M1401.7 932.1h0M1406.5 932.5h0M1408.0 932.1h0M1409.6 932.2h0M1410.9 932.4h0M1428.8 932.8h0M1442.1 932.8h0M1507.7 932.4h0M1574.7 932.1h0M1576.8 932.3h0M1595.1 932.1h0M1600.1 932.6h0M1602.9 932.2h0M1606.3 932.9h0M1609.6 932.0h0M1613.2 932.8h0M673.6 933.6h0M674.1 933.6h0M675.8 933.2h0M696.1 933.7h0M698.7 933.3h0M700.8 933.0h0M704.0 933.8h0M707.6 933.7h0M710.8 933.4h0M717.9 933.2h0M718.1 933.9h0M723.2 933.0h0M724.5 933.6h0M728.2 933.6h0M732.8 933.7h0M750.2 933.1h0M755.8 934.0h0M756.6 933.8h0M765.0 933.2h0M822.3 933.6h0M823.6 933.9h0M1267.9 933.3h0M1273.6 933.4h0M1277.4 933.9h0M1280.6 933.7h0M1283.8 933.4h0M1301.5 933.4h0M1343.3 933.0h0M1348.0 934.0h0M1353.5 933.5h0M1376.7 933.6h0M1383.4 933.6h0M1397.7 933.8h0M1416.4 933.0h0M1423.7 933.3h0M1443.1 933.1h0M1546.8 934.0h0M1573.4 934.0h0M1574.2 933.5h0M1578.6 933.9h0M1579.0 933.6h0M1583.5 933.6h0M1585.4 933.1h0M1586.3 933.5h0M1592.5 933.4h0M1599.5 933.3h0M1604.8 933.5h0M667.7 934.9h0M668.8 934.4h0M672.5 934.3h0M677.9 934.2h0M682.3 934.8h0M687.9 934.3h0M690.8 934.9h0M709.6 934.6h0M712.0 934.4h0M719.5 934.3h0M729.1 934.1h0M733.6 934.9h0M743.4 934.7h0M748.4 934.2h0M757.5 934.7h0M766.8 934.6h0M770.6 934.3h0M771.3 934.9h0M825.5 934.5h0M827.7 934.3h0M1276.0 934.1h0M1283.9 934.5h0M1339.9 934.5h0M1344.7 934.6h0M1352.8 934.1h0M1358.8 934.6h0M1361.0 934.6h0M1383.4 934.6h0M1427.7 934.1h0M1428.6 934.7h0M1435.4 934.2h0M1436.6 934.5h0M1444.4 934.4h0M1571.4 934.6h0M1572.8 934.8h0M1573.1 934.4h0M1575.4 934.2h0M1593.2 934.8h0M1598.0 934.2h0M1610.4 934.5h0M1621.1 934.3h0M668.9 935.8h0M672.5 935.2h0M677.8 935.5h0M687.5 935.8h0M688.3 935.6h0M692.8 935.2h0M701.1 935.6h0M705.8 935.1h0M711.6 935.2h0M734.0 935.1h0M734.2 935.2h0M746.4 935.1h0M749.0 935.5h0M756.3 936.0h0M765.9 935.8h0M769.1 935.6h0M770.9 935.1h0M771.6 935.2h0M818.6 935.0h0M821.1 935.1h0M824.8 935.4h0M1273.4 936.0h0M1279.4 935.9h0M1297.4 935.5h0M1311.3 935.4h0M1312.8 935.6h0M1342.7 935.3h0M1343.5 935.4h0M1359.0 935.2h0M1387.2 935.2h0M1389.0 935.8h0M1392.3 935.6h0M1400.9 935.8h0M1425.3 935.9h0M1435.5 935.4h0M1495.9 935.9h0M1514.7 935.2h0M1516.8 935.8h0M1569.4 935.8h0M1572.0 935.8h0M1585.3 935.3h0M1598.4 935.4h0M1599.2 935.6h0M1600.3 935.4h0M1603.6 936.0h0M1609.6 935.8h0M1610.6 935.1h0M1613.1 935.9h0M1615.4 935.8h0M1616.3 936.0h0M1619.3 935.3h0M667.5 936.0h0M672.5 936.4h0M678.1 936.9h0M680.0 936.5h0M681.9 937.0h0M684.8 936.2h0M688.1 937.0h0M695.2 936.5h0M714.1 937.0h0M730.4 936.4h0M734.3 936.8h0M740.8 936.7h0M748.5 936.9h0M768.4 936.1h0M817.9 936.7h0M821.0 936.8h0M825.7 936.9h0M1268.1 936.1h0M1299.9 936.6h0M1343.2 936.6h0M1344.1 936.9h0M1347.4 936.3h0M1354.5 936.5h0M1355.5 936.5h0M1360.9 936.2h0M1371.2 936.2h0M1373.9 937.0h0M1380.0 936.2h0M1388.3 936.6h0M1409.6 936.2h0M1424.5 936.9h0M1434.6 937.0h0M1437.6 936.2h0M1440.1 936.3h0M1445.4 936.4h0M1496.5 936.5h0M1500.1 936.8h0M1515.4 936.5h0M1516.4 936.5h0M1517.5 936.6h0M1565.4 937.0h0M1586.8 936.8h0M1587.0 936.5h0M1590.2 936.5h0M1607.4 936.0h0M1609.9 936.7h0M668.0 937.8h0M668.5 937.0h0M672.6 937.2h0M674.4 937.3h0M682.5 937.7h0M684.0 937.2h0M692.3 937.3h0M695.9 937.5h0M700.7 937.6h0M701.2 937.9h0M716.5 937.7h0M739.2 937.6h0M748.7 937.6h0M750.1 937.4h0M756.2 937.7h0M759.9 937.6h0M771.5 937.2h0M820.2 937.9h0M1271.1 937.7h0M1275.1 937.5h0M1284.4 937.2h0M1290.1 938.0h0M1296.7 937.3h0M1303.5 937.5h0M1308.9 937.4h0M1348.0 937.9h0M1349.1 937.3h0M1367.1 937.5h0M1373.8 937.9h0M1376.7 937.3h0M1394.7 938.0h0M1404.5 937.8h0M1428.6 937.9h0M1430.1 937.8h0M1431.6 937.5h0M1438.0 937.4h0M1448.6 937.8h0M1488.6 937.1h0M1489.4 937.0h0M1559.5 937.6h0M1561.4 937.6h0M1569.1 937.3h0M1574.5 937.3h0M1582.3 937.1h0M1588.9 937.6h0M1591.8 937.1h0M1604.7 937.7h0M1605.8 937.2h0M1606.6 937.3h0M1609.5 937.8h0M1610.8 937.8h0M1612.5 937.1h0M1620.6 937.3h0M671.6 938.9h0M681.3 938.3h0M689.0 938.7h0M702.0 938.5h0M703.3 938.7h0M704.0 938.2h0M705.9 938.6h0M712.2 938.8h0M713.3 938.2h0M717.0 938.1h0M742.1 938.0h0M743.6 938.6h0M746.8 939.0h0M758.2 938.5h0M1289.2 939.0h0M1294.5 938.6h0M1296.1 938.7h0M1302.6 938.7h0M1310.1 938.5h0M1342.1 938.1h0M1351.6 938.1h0M1355.1 938.4h0M1364.7 938.7h0M1393.9 938.5h0M1394.0 938.6h0M1405.2 938.3h0M1406.1 938.2h0M1417.4 938.6h0M1428.2 938.1h0M1435.3 938.9h0M1436.5 938.7h0M1440.6 938.9h0M1442.5 938.5h0M1492.7 938.9h0M1514.5 938.0h0M1568.8 938.6h0M1571.8 938.2h0M1575.2 938.7h0M1577.9 938.6h0M1580.0 938.2h0M1587.7 938.3h0M1591.1 938.4h0M1597.0 938.9h0M1598.3 938.1h0M1614.0 938.9h0M1616.7 938.5h0M669.6 939.6h0M679.9 939.2h0M689.4 939.0h0M699.4 939.7h0M700.8 939.6h0M705.5 939.1h0M708.3 939.1h0M714.9 939.1h0M715.4 939.2h0M763.6 939.1h0M764.0 939.6h0M1281.8 939.9h0M1283.1 939.9h0M1287.9 939.6h0M1291.5 939.1h0M1292.3 939.5h0M1296.1 939.3h0M1346.2 939.8h0M1355.9 939.4h0M1357.4 939.8h0M1359.4 939.4h0M1360.4 939.9h0M1362.4 939.7h0M1392.8 939.8h0M1394.0 940.0h0M1399.0 939.6h0M1405.7 939.2h0M1409.5 939.2h0M1426.8 939.1h0M1438.0 939.2h0M1445.8 939.9h0M1477.2 939.1h0M1505.0 939.2h0M1508.0 939.5h0M1552.8 939.5h0M1584.3 939.9h0M1585.7 939.4h0M1602.3 939.2h0M1603.9 939.6h0M1608.9 939.8h0M1611.6 939.2h0M1614.1 939.3h0M1617.6 939.1h0M677.6 940.1h0M686.5 940.4h0M687.2 940.4h0M688.2 940.3h0M697.1 940.3h0M698.5 940.7h0M704.7 940.1h0M706.6 940.6h0M717.0 940.1h0M719.5 940.9h0M721.8 940.0h0M722.1 940.5h0M751.0 940.2h0M754.2 940.7h0M759.6 940.3h0M762.3 940.5h0M763.5 940.1h0M1271.9 940.7h0M1274.2 940.8h0M1275.7 940.4h0M1281.9 940.1h0M1283.8 941.0h0M1295.5 941.0h0M1296.5 940.6h0M1308.8 940.4h0M1313.3 940.1h0M1339.4 940.1h0M1340.4 940.6h0M1348.0 940.4h0M1350.1 940.2h0M1353.5 940.6h0M1365.5 940.5h0M1399.1 940.2h0M1401.2 940.1h0M1413.9 940.9h0M1426.2 940.8h0M1446.4 940.2h0M1513.6 940.7h0M1554.5 940.5h0M1578.9 940.7h0M1579.2 940.7h0M1586.0 940.2h0M1587.7 940.6h0M1599.5 940.6h0M1605.0 940.8h0M1612.8 940.7h0M667.0 941.3h0M668.4 941.2h0M673.7 941.1h0M676.0 941.4h0M686.8 941.5h0M694.3 941.2h0M696.6 941.2h0M699.4 941.1h0M700.9 942.0h0M710.5 941.2h0M711.3 941.8h0M717.9 942.0h0M721.0 941.1h0M723.6 941.3h0M750.8 941.0h0M765.4 941.7h0M1272.0 941.3h0M1274.4 941.9h0M1290.3 941.5h0M1295.3 941.9h0M1301.1 941.8h0M1312.5 941.6h0M1326.9 942.0h0M1327.2 941.9h0M1332.2 941.9h0M1334.1 941.3h0M1341.3 941.1h0M1353.9 941.6h0M1358.6 941.7h0M1359.2 941.8h0M1362.8 941.6h0M1376.3 941.2h0M1380.7 941.6h0M1384.8 941.6h0M1393.2 941.0h0M1400.4 941.5h0M1419.6 941.9h0M1441.2 941.2h0M1443.5 941.4h0M1524.5 941.1h0M1543.7 941.9h0M1565.2 941.0h0M1572.0 941.4h0M1573.9 941.6h0M1574.5 941.9h0M1583.6 941.5h0M1587.7 941.4h0M1606.6 942.0h0M1619.4 941.2h0M664.8 942.5h0M673.1 942.6h0M678.9 942.8h0M696.5 942.5h0M697.6 942.5h0M702.1 942.2h0M703.9 942.3h0M704.3 942.2h0M706.4 942.4h0M710.7 942.1h0M713.7 942.3h0M717.6 942.6h0M747.5 942.4h0M748.7 942.5h0M761.7 942.2h0M768.0 942.0h0M772.1 942.8h0M1277.6 942.7h0M1284.2 942.4h0M1291.5 942.7h0M1294.6 942.7h0M1300.0 942.5h0M1302.8 942.9h0M1308.4 943.0h0M1321.5 942.6h0M1338.6 942.2h0M1345.8 942.4h0M1359.7 942.5h0M1362.9 942.4h0M1364.8 942.7h0M1377.7 942.9h0M1380.4 942.5h0M1382.6 942.9h0M1388.1 942.4h0M1389.7 942.5h0M1393.5 942.9h0M1422.2 942.8h0M1436.1 942.1h0M1469.9 942.1h0M1487.1 942.5h0M1490.9 942.7h0M1564.0 942.6h0M1568.9 942.6h0M1571.9 942.8h0M1609.4 942.6h0M1615.5 943.0h0M684.0 943.4h0M690.9 943.3h0M691.8 943.6h0M692.6 943.4h0M699.0 943.5h0M709.0 943.8h0M712.6 943.2h0M714.6 943.7h0M718.2 943.8h0M721.0 943.1h0M721.1 943.5h0M758.2 943.4h0M759.4 944.0h0M1298.4 943.3h0M1320.1 943.2h0M1323.5 943.1h0M1336.9 943.4h0M1340.9 943.8h0M1351.3 943.8h0M1361.2 943.5h0M1363.8 943.0h0M1365.9 943.3h0M1366.6 943.3h0M1368.7 943.7h0M1372.9 943.8h0M1373.4 943.2h0M1379.9 943.7h0M1380.8 943.9h0M1413.9 943.6h0M1420.5 943.5h0M1439.2 943.9h0M1450.0 943.6h0M1451.3 943.8h0M1550.2 943.0h0M1564.2 943.9h0M1574.8 943.2h0M1576.5 943.9h0M1615.3 943.0h0M678.8 944.5h0M682.3 944.9h0M688.0 944.5h0M700.4 944.5h0M702.6 944.0h0M703.2 944.8h0M708.4 944.5h0M710.7 944.9h0M715.5 944.9h0M719.5 944.8h0M720.2 944.3h0M721.5 944.8h0M724.9 944.3h0M728.4 944.4h0M763.5 944.5h0M1292.4 944.2h0M1295.1 944.9h0M1297.4 944.3h0M1300.5 944.3h0M1308.6 944.8h0M1331.9 944.3h0M1335.4 944.2h0M1358.3 944.9h0M1380.8 944.5h0M1382.2 944.9h0M1392.2 944.1h0M1400.9 944.9h0M1403.7 944.5h0M1409.9 944.0h0M1420.3 944.1h0M1421.6 944.5h0M1441.8 944.2h0M1483.2 944.7h0M1485.5 944.4h0M1489.7 944.2h0M1570.3 944.8h0M1589.0 944.1h0M1609.4 944.6h0M1610.2 944.7h0M664.4 945.5h0M668.8 945.9h0M678.7 945.1h0M687.4 945.5h0M690.0 945.0h0M694.6 945.9h0M695.3 945.8h0M697.4 945.6h0M703.6 945.3h0M704.2 945.0h0M709.2 945.1h0M722.5 945.5h0M729.7 945.1h0M753.8 946.0h0M755.6 945.9h0M760.4 945.6h0M762.1 945.8h0M764.3 945.5h0M765.7 945.9h0M1299.2 945.8h0M1314.0 945.0h0M1315.9 945.2h0M1324.1 945.7h0M1333.6 945.8h0M1344.6 945.9h0M1346.2 945.9h0M1348.1 945.1h0M1356.3 946.0h0M1359.2 945.9h0M1389.5 946.0h0M1391.6 945.2h0M1399.0 945.2h0M1406.8 946.0h0M1410.2 945.9h0M1431.9 945.4h0M1434.8 945.1h0M1550.7 945.7h0M1580.4 945.3h0M1615.6 945.4h0M1616.8 945.6h0M1620.4 945.6h0M666.7 946.4h0M668.6 946.4h0M674.7 946.1h0M679.0 946.8h0M679.5 946.2h0M686.8 946.4h0M689.6 946.9h0M714.3 946.9h0M717.7 946.6h0M722.5 946.8h0M750.3 946.4h0M755.5 946.3h0M758.4 946.3h0M760.8 946.5h0M768.5 946.3h0M772.8 946.9h0M1283.7 946.2h0M1298.5 946.6h0M1310.1 946.5h0M1314.2 946.3h0M1324.3 946.3h0M1336.8 946.4h0M1337.1 946.2h0M1339.7 946.6h0M1343.8 946.5h0M1351.0 946.0h0M1351.7 946.1h0M1352.8 946.5h0M1367.6 946.4h0M1374.4 946.7h0M1404.1 946.2h0M1406.4 946.1h0M1434.5 946.2h0M1450.5 946.1h0M1451.3 946.9h0M1492.0 947.0h0M1565.7 946.8h0M1567.8 946.3h0M1573.3 946.9h0M1579.0 947.0h0M1579.7 946.4h0M1581.6 946.4h0M1611.9 946.8h0M671.8 947.7h0M682.6 947.7h0M684.1 947.2h0M685.5 947.8h0M698.3 947.9h0M702.5 947.8h0M704.8 947.2h0M708.6 947.4h0M714.2 947.4h0M716.6 947.7h0M719.4 947.3h0M730.7 947.4h0M755.0 947.6h0M759.9 947.4h0M760.9 947.1h0M772.0 947.2h0M1290.2 947.1h0M1295.1 947.6h0M1301.1 947.3h0M1304.2 948.0h0M1310.0 948.0h0M1311.6 947.2h0M1314.1 947.9h0M1337.8 947.9h0M1344.6 948.0h0M1351.3 947.0h0M1358.7 947.2h0M1360.3 947.5h0M1372.9 947.0h0M1373.8 947.7h0M1375.0 947.6h0M1376.9 947.7h0M1390.9 947.7h0M1396.6 947.8h0M1400.9 947.1h0M1404.6 947.7h0M1443.4 947.6h0M1445.1 947.5h0M1457.5 947.8h0M1567.3 947.4h0M1569.2 947.5h0M1587.5 947.7h0M1612.5 947.0h0M667.4 948.7h0M670.8 948.7h0M682.4 948.4h0M684.7 948.4h0M686.9 948.7h0M700.2 948.5h0M1289.2 948.7h0M1290.3 948.8h0M1296.6 948.7h0M1300.7 948.1h0M1301.5 948.3h0M1320.4 948.7h0M1322.6 948.4h0M1331.9 948.0h0M1339.1 948.3h0M1344.1 948.4h0M1352.8 948.3h0M1358.2 948.4h0M1369.2 948.9h0M1370.0 948.7h0M1386.5 948.1h0M1395.2 948.9h0M1406.9 948.9h0M1462.7 948.6h0M1475.3 948.7h0M1485.6 948.2h0M1552.2 948.3h0M1579.9 948.2h0M667.3 949.4h0M669.7 949.1h0M672.0 949.2h0M674.1 949.5h0M680.6 949.7h0M682.5 949.7h0M687.5 949.8h0M690.3 949.8h0M700.1 949.7h0M706.5 949.5h0M707.1 949.8h0M708.8 950.0h0M722.6 950.0h0M737.0 949.3h0M765.2 949.6h0M1282.3 949.8h0M1314.6 949.7h0M1319.4 949.9h0M1320.6 949.6h0M1329.5 949.9h0M1335.5 949.6h0M1343.4 949.2h0M1346.2 949.9h0M1349.4 949.6h0M1374.6 949.2h0M1384.7 949.8h0M1388.9 949.9h0M1390.7 949.5h0M1393.9 949.3h0M1395.2 949.8h0M1531.6 949.6h0M1577.9 949.1h0M1578.4 949.8h0M1580.9 949.6h0M1583.5 949.5h0M1602.4 949.7h0M1607.0 949.9h0M666.0 950.7h0M677.0 950.4h0M677.4 950.3h0M708.6 950.1h0M714.7 950.3h0M1278.9 950.1h0M1292.9 951.0h0M1294.9 950.9h0M1295.4 950.5h0M1297.8 950.4h0M1303.0 950.2h0M1303.3 950.8h0M1307.4 950.2h0M1308.3 950.3h0M1310.5 950.2h0M1311.1 950.0h0M1314.3 950.1h0M1321.4 950.3h0M1329.8 950.4h0M1337.7 950.1h0M1343.8 950.4h0M1345.8 950.2h0M1347.6 950.1h0M1360.7 950.1h0M1380.3 950.1h0M1382.7 950.9h0M1394.7 951.0h0M1398.2 950.7h0M1402.4 950.0h0M1507.1 950.9h0M1514.4 950.1h0M1515.8 950.7h0M1527.9 950.5h0M1561.7 950.0h0M1562.6 950.1h0M1566.5 950.2h0M1570.7 950.1h0M1576.7 950.9h0M1581.9 950.8h0M1584.9 950.5h0M1585.3 951.0h0M1586.3 950.2h0M1610.7 950.4h0M1611.2 950.6h0M669.5 951.9h0M674.0 952.0h0M685.5 951.9h0M686.3 951.3h0M689.4 951.3h0M695.6 952.0h0M698.3 951.7h0M715.8 951.0h0M722.0 951.6h0M739.4 951.3h0M1297.5 951.9h0M1301.2 951.7h0M1303.7 951.0h0M1319.4 951.0h0M1353.7 952.0h0M1357.5 951.5h0M1361.9 951.6h0M1378.2 951.8h0M1388.4 951.1h0M1392.1 951.7h0M1402.1 951.3h0M1467.1 951.4h0M1469.5 951.5h0M1501.2 951.6h0M1506.8 951.2h0M1557.7 951.7h0M1561.9 951.6h0M1566.8 951.7h0M1568.8 951.7h0M1574.7 951.5h0M1579.5 951.1h0M1586.2 951.4h0M1593.0 951.3h0M1594.2 951.9h0M1602.2 951.9h0M1610.5 951.5h0M668.3 952.2h0M680.5 952.3h0M684.8 952.9h0M687.9 952.6h0M688.2 952.4h0M691.3 952.8h0M700.1 952.4h0M708.4 952.6h0M710.4 952.4h0M722.8 952.7h0M726.1 952.6h0M746.6 952.8h0M749.4 953.0h0M1296.9 952.2h0M1297.1 952.9h0M1304.0 952.1h0M1305.4 952.9h0M1313.0 952.3h0M1313.7 952.0h0M1319.2 952.2h0M1324.0 952.2h0M1328.7 952.6h0M1330.2 952.4h0M1334.9 952.2h0M1344.3 952.2h0M1347.6 952.2h0M1355.4 952.2h0M1359.3 952.8h0M1366.4 952.9h0M1367.3 952.2h0M1384.7 952.2h0M1390.6 952.1h0M1393.3 952.0h0M1397.5 952.1h0M1399.3 952.6h0M1463.1 952.9h0M1492.5 952.4h0M1571.4 952.9h0M1577.1 952.2h0M1586.0 952.2h0M1589.6 952.5h0M1593.8 953.0h0M1599.7 953.0h0M1606.8 952.1h0M686.2 953.9h0M687.5 953.9h0M689.4 953.6h0M712.8 953.6h0M716.3 953.7h0M731.5 954.0h0M737.5 953.8h0M751.5 953.2h0M1299.9 953.1h0M1302.8 953.6h0M1306.0 953.9h0M1307.9 953.3h0M1314.2 953.7h0M1318.3 953.1h0M1319.4 953.7h0M1322.1 953.6h0M1335.3 953.0h0M1354.7 953.7h0M1355.3 953.1h0M1358.5 953.5h0M1371.1 953.5h0M1374.2 953.4h0M1383.6 953.9h0M1384.6 953.0h0M1386.1 953.0h0M1390.9 953.1h0M1395.1 953.1h0M1402.2 953.8h0M1448.8 953.2h0M1562.8 953.2h0M1568.7 953.8h0M1574.1 953.0h0M1589.3 953.0h0M1590.5 953.9h0M1598.1 953.3h0M1602.1 953.6h0M712.6 954.1h0M715.2 954.7h0M740.5 954.3h0M1291.9 954.9h0M1298.9 954.3h0M1299.5 954.7h0M1309.6 954.5h0M1311.1 954.4h0M1315.4 954.5h0M1330.1 954.1h0M1337.0 954.3h0M1339.9 954.3h0M1363.2 954.5h0M1364.7 954.9h0M1366.6 955.0h0M1368.3 954.8h0M1377.5 954.7h0M1379.1 954.4h0M1390.7 954.4h0M1447.3 954.3h0M1508.2 954.4h0M1517.5 954.7h0M1565.2 954.7h0M1568.5 954.1h0M1576.6 954.5h0M1579.8 954.9h0M1595.0 955.0h0M713.4 955.3h0M743.2 955.1h0M744.7 955.0h0M754.0 955.5h0M1283.6 955.4h0M1288.8 955.8h0M1298.4 955.1h0M1316.2 955.5h0M1324.0 955.3h0M1333.8 955.3h0M1334.6 955.4h0M1338.2 955.8h0M1340.6 956.0h0M1342.4 955.8h0M1363.1 955.1h0M1372.9 955.3h0M1378.6 955.9h0M1384.5 955.1h0M1387.9 955.3h0M1403.7 955.3h0M1447.4 955.4h0M1481.2 955.9h0M1496.6 955.5h0M1523.7 955.7h0M1529.6 955.9h0M1567.3 955.1h0M1570.5 955.0h0M1571.8 955.9h0M1579.9 955.8h0M1582.7 955.9h0M1583.2 955.2h0M1587.4 955.7h0M1589.8 955.1h0M1591.9 955.3h0M715.9 956.1h0M721.7 956.8h0M728.1 956.2h0M741.5 957.0h0M754.9 956.1h0M761.6 957.0h0M1289.3 956.2h0M1309.4 956.2h0M1330.2 956.0h0M1331.1 956.6h0M1332.9 956.1h0M1351.5 956.3h0M1354.9 956.6h0M1356.7 956.2h0M1366.0 956.0h0M1366.5 956.1h0M1368.0 956.1h0M1374.9 957.0h0M1376.3 956.6h0M1377.1 956.3h0M1383.2 956.5h0M1398.9 956.9h0M1399.4 956.6h0M1442.3 956.2h0M1488.3 956.7h0M1530.5 956.6h0M1569.5 956.7h0M1587.2 956.2h0M1591.3 956.9h0M1595.8 956.1h0M715.6 957.5h0M716.9 957.0h0M720.0 957.2h0M734.4 957.4h0M740.2 957.9h0M1290.1 957.0h0M1302.5 957.9h0M1305.2 957.3h0M1308.7 957.8h0M1320.9 957.1h0M1329.2 957.0h0M1331.3 958.0h0M1339.7 957.7h0M1356.9 957.1h0M1359.6 957.8h0M1364.9 957.8h0M1378.9 957.2h0M1386.5 957.6h0M1389.3 957.1h0M1393.6 957.0h0M1404.8 957.4h0M1482.7 957.9h0M1504.9 957.3h0M1526.7 957.5h0M1536.5 957.8h0M1537.6 957.5h0M1545.8 957.2h0M1578.4 957.1h0M1580.2 957.6h0M1586.3 957.1h0M1588.0 957.3h0M1589.2 957.1h0M1591.5 957.5h0M1595.3 957.2h0M1596.7 957.1h0M729.8 958.4h0M1286.3 958.2h0M1294.8 958.6h0M1301.3 958.8h0M1316.5 958.7h0M1330.5 958.4h0M1334.3 958.2h0M1339.7 958.9h0M1340.5 958.5h0M1365.8 958.6h0M1366.0 958.3h0M1367.3 958.1h0M1395.8 958.2h0M1411.2 958.1h0M1416.7 958.2h0M1426.2 958.8h0M1441.9 958.8h0M1454.9 958.8h0M1491.5 958.7h0M1492.4 958.6h0M1500.9 958.2h0M1515.0 958.4h0M1538.6 958.5h0M1575.9 958.8h0M1584.3 958.2h0M1586.7 958.0h0M1588.4 958.2h0M727.1 959.4h0M729.4 959.9h0M732.1 959.6h0M743.8 959.8h0M750.7 959.3h0M752.3 959.2h0M756.6 959.3h0M1290.4 959.4h0M1293.8 959.9h0M1301.6 959.1h0M1303.4 959.2h0M1321.0 959.0h0M1328.0 959.8h0M1329.6 959.8h0M1342.9 959.2h0M1343.0 959.4h0M1346.4 959.8h0M1355.1 959.5h0M1386.8 959.7h0M1389.9 959.9h0M1408.7 959.8h0M1411.3 959.2h0M1478.8 959.5h0M1540.9 959.6h0M1543.9 959.3h0M1552.6 960.0h0M1568.6 959.6h0M1572.9 959.1h0M1573.9 959.5h0M1593.0 959.9h0M1595.7 959.6h0M731.8 960.0h0M732.4 960.0h0M1290.5 960.5h0M1325.0 960.0h0M1329.3 960.3h0M1333.9 960.2h0M1334.2 960.2h0M1335.6 961.0h0M1339.5 960.4h0M1341.0 960.1h0M1342.8 960.6h0M1347.8 960.8h0M1353.8 960.6h0M1359.2 960.4h0M1369.3 960.5h0M1388.5 960.1h0M1394.2 960.1h0M1399.4 960.3h0M1400.6 960.3h0M1401.1 960.9h0M1407.8 960.6h0M1419.2 960.8h0M1420.9 960.5h0M1423.1 960.5h0M1425.9 960.4h0M1429.8 960.6h0M1439.4 960.1h0M1474.2 960.7h0M1493.3 960.9h0M1530.6 960.9h0M1556.5 960.8h0M1563.9 960.9h0M1572.2 960.9h0M1575.6 960.5h0M1589.9 961.0h0M1590.7 960.7h0M760.9 961.3h0M1287.5 961.0h0M1289.4 961.3h0M1320.6 961.2h0M1328.9 961.3h0M1329.8 961.5h0M1345.6 961.7h0M1368.8 961.7h0M1370.9 961.8h0M1373.1 961.9h0M1377.5 961.8h0M1379.5 961.8h0M1381.9 961.9h0M1382.0 961.4h0M1386.8 961.7h0M1395.5 961.4h0M1427.6 961.7h0M1428.9 961.9h0M1472.8 961.5h0M1482.1 961.1h0M1527.8 961.1h0M1540.5 961.4h0M1580.0 961.9h0M1583.6 961.2h0M722.9 962.7h0M723.6 962.4h0M726.7 962.8h0M756.7 962.8h0M760.7 962.6h0M761.2 962.1h0M768.3 962.0h0M808.2 962.8h0M1293.0 962.3h0M1307.3 962.0h0M1309.5 962.5h0M1314.1 962.0h0M1323.1 962.1h0M1325.9 962.2h0M1330.6 962.5h0M1341.0 962.0h0M1372.6 962.5h0M1374.1 962.2h0M1385.0 963.0h0M1386.1 962.4h0M1388.8 962.7h0M1390.0 962.2h0M1392.6 962.9h0M1408.2 962.3h0M1422.1 962.8h0M1423.3 962.3h0M1424.8 962.9h0M1436.6 962.2h0M1437.9 962.3h0M1458.3 962.4h0M1461.2 962.9h0M1463.4 962.8h0M1530.5 962.2h0M1533.0 962.4h0M1545.5 962.7h0M1546.7 962.6h0M1554.1 962.0h0M1558.4 963.0h0M1561.8 962.8h0M1564.7 962.0h0M1566.8 962.8h0M1575.5 962.6h0M1578.4 962.5h0M1580.7 962.5h0M1581.1 962.6h0M1584.1 963.0h0M1585.8 962.6h0M1586.5 962.2h0M1588.0 962.0h0M1589.0 962.9h0M1591.6 962.1h0M1592.1 962.5h0M1593.9 962.3h0M726.2 963.8h0M804.3 963.9h0M807.0 963.3h0M1286.2 964.0h0M1293.0 963.9h0M1297.1 963.8h0M1308.6 963.6h0M1331.1 963.1h0M1335.0 963.2h0M1339.0 963.7h0M1355.9 963.9h0M1362.6 963.0h0M1383.3 963.7h0M1386.8 963.3h0M1403.5 963.3h0M1419.3 963.1h0M1443.7 963.5h0M1444.3 963.4h0M1455.5 963.8h0M1504.9 963.5h0M1506.3 963.3h0M1545.9 963.3h0M1547.8 963.4h0M1558.4 963.1h0M1559.2 963.3h0M1566.0 963.1h0M1576.1 963.3h0M1579.2 963.4h0M1581.5 963.9h0M1588.8 963.1h0M1590.5 963.5h0M722.4 964.4h0M727.2 964.6h0M758.0 965.0h0M804.1 964.2h0M1298.5 965.0h0M1324.3 964.1h0M1327.7 964.1h0M1330.4 964.3h0M1334.7 964.1h0M1335.6 964.1h0M1336.4 964.6h0M1348.4 964.9h0M1360.0 964.2h0M1367.0 964.6h0M1372.7 964.8h0M1379.2 964.6h0M1389.3 964.0h0M1451.3 964.9h0M1463.9 964.9h0M1475.8 964.1h0M1482.7 964.7h0M1496.9 965.0h0M1506.8 964.4h0M1544.8 964.1h0M1564.6 964.0h0M1575.0 964.0h0M1578.5 964.4h0M1581.7 964.3h0M1589.4 964.3h0M1590.8 964.9h0M1593.0 964.8h0M724.6 965.2h0M752.6 965.3h0M756.0 965.8h0M798.5 965.6h0M805.7 965.9h0M808.4 965.0h0M1297.9 965.2h0M1299.4 965.8h0M1303.5 965.1h0M1314.0 965.2h0M1323.9 965.4h0M1324.1 965.8h0M1348.2 965.3h0M1363.0 965.1h0M1370.3 966.0h0M1374.4 965.3h0M1375.2 965.1h0M1379.5 965.9h0M1384.1 965.3h0M1399.6 965.6h0M1417.6 965.4h0M1444.0 965.1h0M1498.3 965.5h0M1506.9 965.5h0M1529.1 965.6h0M1531.0 965.4h0M1532.5 965.0h0M1568.1 965.9h0M1575.3 965.5h0M1579.0 965.0h0M1581.5 965.9h0M768.0 966.5h0M814.7 966.0h0M1301.8 966.2h0M1310.3 966.1h0M1319.4 966.3h0M1332.5 966.9h0M1339.2 966.5h0M1348.4 966.1h0M1356.4 966.6h0M1357.4 966.4h0M1360.2 966.8h0M1368.1 966.6h0M1374.0 966.2h0M1382.2 966.1h0M1390.5 966.9h0M1417.5 966.8h0M1440.5 967.0h0M1446.8 966.4h0M1459.9 966.6h0M1500.3 966.4h0M1504.4 966.1h0M1511.1 966.8h0M1528.9 966.5h0M1543.2 966.1h0M1552.3 966.3h0M1557.9 966.7h0M1560.5 966.1h0M1567.9 966.5h0M1569.0 966.7h0M1582.0 966.7h0M727.7 967.2h0M731.7 967.3h0M734.4 967.1h0M741.8 967.2h0M758.5 967.7h0M770.9 967.9h0M799.4 967.9h0M800.8 967.6h0M801.5 967.7h0M807.7 967.2h0M1296.8 967.1h0M1300.8 967.8h0M1301.9 967.8h0M1306.0 967.6h0M1318.2 967.6h0M1323.7 967.8h0M1333.7 967.9h0M1342.0 967.5h0M1352.1 967.7h0M1360.7 967.7h0M1373.2 967.6h0M1407.1 967.2h0M1551.8 967.6h0M1554.6 967.5h0M1568.7 967.6h0M1576.9 967.3h0M1590.7 967.4h0M729.8 968.7h0M742.9 968.8h0M744.0 968.9h0M747.3 968.6h0M798.2 968.2h0M801.3 968.3h0M803.2 968.7h0M811.1 968.3h0M1296.2 968.3h0M1298.0 968.1h0M1303.2 968.2h0M1335.6 968.1h0M1346.2 968.8h0M1351.5 968.4h0M1353.4 968.0h0M1358.9 968.2h0M1383.5 968.7h0M1387.6 968.6h0M1388.1 968.2h0M1429.9 968.3h0M1514.6 968.6h0M1520.9 968.7h0M1532.0 968.9h0M1546.4 968.4h0M1547.3 968.1h0M1555.5 968.8h0M1556.6 968.4h0M1559.9 968.2h0M1568.8 968.8h0M1577.6 968.0h0M730.9 969.6h0M732.2 969.5h0M733.3 969.9h0M736.7 969.8h0M742.3 969.4h0M743.9 969.9h0M801.3 969.5h0M804.5 969.4h0M815.7 969.3h0M1305.7 969.9h0M1306.0 969.7h0M1319.0 970.0h0M1320.0 969.5h0M1322.4 969.9h0M1337.3 969.7h0M1348.1 969.7h0M1350.9 969.4h0M1353.9 969.9h0M1359.4 969.5h0M1374.3 969.6h0M1396.7 969.2h0M1404.1 969.5h0M1405.1 969.6h0M1422.5 969.8h0M1424.9 969.5h0M1426.7 969.1h0M1514.9 969.9h0M1517.9 969.4h0M1525.6 969.3h0M1531.9 969.8h0M1550.8 969.8h0M1556.5 969.3h0M1571.6 969.2h0M1572.7 969.3h0M736.5 970.2h0M741.3 970.8h0M745.5 970.8h0M751.7 970.7h0M798.4 970.0h0M800.7 970.5h0M806.6 970.8h0M807.1 970.9h0M814.8 971.0h0M1302.9 970.8h0M1313.1 971.0h0M1314.3 970.9h0M1317.3 970.6h0M1320.4 970.9h0M1321.5 970.7h0M1322.2 970.6h0M1336.6 970.8h0M1340.1 970.4h0M1350.9 970.6h0M1351.6 970.7h0M1355.6 970.3h0M1362.5 970.6h0M1380.7 970.3h0M1396.5 970.9h0M1412.0 970.1h0M1413.9 970.1h0M1414.9 970.8h0M1415.1 970.8h0M1524.1 970.0h0M1554.1 970.8h0M1556.5 970.4h0M1559.7 970.2h0M1563.3 970.4h0M1568.8 970.6h0M1569.6 970.7h0M1576.0 971.0h0M1584.5 970.2h0M1588.0 970.3h0M734.6 971.7h0M742.6 971.8h0M743.6 971.8h0M745.4 971.5h0M746.4 971.6h0M750.9 971.9h0M751.1 972.0h0M797.1 971.3h0M806.6 971.1h0M810.9 971.9h0M811.6 971.5h0M814.2 971.1h0M1303.1 971.7h0M1308.3 971.6h0M1313.2 971.4h0M1315.5 971.1h0M1316.9 971.7h0M1335.1 971.2h0M1337.9 971.3h0M1352.6 971.5h0M1374.7 971.4h0M1409.0 971.5h0M1411.1 971.7h0M1413.2 971.9h0M1566.6 971.4h0M1572.8 971.1h0M738.2 972.8h0M740.2 972.3h0M741.1 973.0h0M746.2 972.1h0M797.4 972.9h0M810.9 972.7h0M1312.2 972.3h0M1324.3 972.4h0M1328.7 972.4h0M1329.9 972.2h0M1336.6 972.5h0M1339.2 972.9h0M1340.8 972.9h0M1346.6 972.3h0M1354.3 972.0h0M1360.2 972.7h0M1370.5 972.8h0M1574.3 972.7h0M741.3 973.5h0M742.2 973.7h0M746.5 973.3h0M750.9 973.3h0M753.9 973.9h0M766.8 973.2h0M798.1 973.6h0M1311.5 973.7h0M1314.3 974.0h0M1319.4 973.9h0M1326.0 973.5h0M1328.3 973.8h0M1329.4 973.9h0M1342.4 973.4h0M1357.9 973.5h0M1362.4 973.2h0M1368.2 973.6h0M1369.3 973.6h0M747.0 974.3h0M747.1 974.9h0M748.5 974.5h0M766.4 974.4h0M800.2 974.5h0M802.0 974.9h0M808.0 974.2h0M808.1 975.0h0M811.6 974.8h0M1309.4 974.7h0M1311.4 974.6h0M1313.1 974.7h0M1324.4 974.4h0M1325.5 974.7h0M1326.6 974.5h0M1327.8 974.5h0M1330.0 974.1h0M1335.0 974.6h0M1339.0 974.8h0M1344.7 974.8h0M1349.6 974.9h0M1353.8 974.9h0M1355.3 974.8h0M1372.5 974.1h0M1374.4 974.7h0M745.9 975.3h0M750.7 975.9h0M751.6 975.2h0M752.6 975.6h0M771.9 975.9h0M800.7 975.6h0M802.9 975.9h0M809.1 975.9h0M811.2 975.9h0M812.1 975.3h0M1318.2 975.7h0M1321.9 975.5h0M1322.6 975.8h0M1323.5 975.6h0M1334.5 975.8h0M1346.9 975.4h0M1349.1 976.0h0M1366.4 975.3h0M749.5 976.9h0M753.4 976.8h0M765.8 976.8h0M799.5 976.4h0M801.4 976.1h0M803.8 976.9h0M804.3 977.0h0M807.4 976.5h0M812.9 976.6h0M1321.6 976.9h0M1332.9 976.8h0M1340.4 976.3h0M1356.9 976.9h0M1358.5 976.3h0M1360.0 976.7h0M750.1 977.4h0M751.7 977.8h0M754.1 977.4h0M768.0 977.0h0M808.3 977.6h0M813.9 977.7h0M1316.9 977.1h0M1322.5 977.5h0M1341.9 977.4h0M1348.0 977.7h0M1356.2 977.7h0M1362.3 977.4h0M1364.9 977.2h0M751.8 979.0h0M757.3 978.3h0M764.4 978.5h0M813.4 978.2h0M1331.7 978.5h0M1334.0 978.3h0M1336.2 978.8h0M1344.9 978.6h0M1351.4 978.5h0M1357.7 978.8h0M1359.1 979.0h0M752.4 979.9h0M753.6 979.7h0M758.7 979.9h0M1318.8 979.7h0M1321.0 980.0h0M1323.2 979.8h0M1331.7 979.2h0M1333.2 979.4h0M1340.5 979.9h0M1343.4 979.8h0M1344.6 979.6h0M1350.8 979.7h0M750.8 980.6h0M752.3 980.2h0M759.8 981.0h0M1324.2 980.6h0M1325.3 980.9h0M1338.2 980.9h0M754.6 981.2h0M756.0 981.2h0M770.5 981.2h0M1322.6 981.1h0M1329.6 981.2h0M1331.6 981.9h0M1334.6 981.8h0M1337.2 981.6h0M757.2 982.0h0M770.9 982.4h0M771.5 982.0h0M774.0 982.3h0M1331.3 982.3h0M761.6 983.5h0M773.0 983.1h0M757.8 984.0h0M762.3 984.7h0M764.9 985.4h0M757.9 986.5h0M763.4 986.9h0M764.5 986.8h0M762.0 987.4h0M762.4 987.4h0M766.2 987.7h0M766.9 988.1h0M768.3 988.3h0M765.7 989.6h0M769.9 989.3h0M775.5 989.6h0M777.0 989.5h0M761.7 990.1h0M763.7 990.7h0M766.2 990.6h0M769.0 990.2h0M766.5 991.6h0M771.2 992.0h0M772.5 991.8h0M782.3 991.9h0M766.5 992.2h0M767.9 992.0h0M769.5 992.5h0M774.5 993.0h0M777.2 992.5h0M773.5 993.1h0M777.1 994.0h0M778.4 995.0h0M787.9 994.8h0M770.6 995.6h0M773.3 995.6h0M776.0 995.8h0M777.4 995.6h0M773.8 996.9h0M774.1 996.2h0M785.1 996.7h0M786.9 996.5h0M770.1 997.1h0M774.2 997.0h0M787.1 997.6h0M770.1 998.3h0M780.1 998.1h0M781.4 998.8h0M782.8 998.0h0M785.9 998.9h0M775.8 999.4h0M776.1 999.5h0M781.9 999.3h0M774.9 1000.5h0M775.5 1000.6h0M778.6 1000.8h0M782.3 1000.9h0M777.7 1001.0h0M778.5 1001.5h0M776.0 1003.2h0M781.9 1003.7h0M783.5 1003.6h0M784.6 1003.5h0M789.7 1003.3h0M789.3 1004.3h0M790.9 1004.5h0M777.8 1005.5h0M778.1 1005.3h0M784.6 1005.2h0M786.2 1005.4h0M778.0 1006.3h0M782.2 1006.8h0M787.4 1006.5h0M777.1 1007.4h0M780.5 1009.9h0M781.8 1009.7h0M782.9 1009.9h0M786.1 1009.2h0M793.7 1009.5h0M784.5 1010.7h0M785.8 1010.3h0M786.9 1010.1h0M789.3 1010.7h0M790.1 1010.4h0M783.2 1011.1h0M784.3 1011.7h0M785.8 1011.6h0M786.6 1011.3h0M782.1 1013.0h0M797.6 1012.9h0M800.6 1012.6h0M802.3 1012.7h0M805.8 1012.5h0M790.5 1013.4h0M798.7 1013.9h0M802.5 1013.2h0M805.1 1013.9h0M784.6 1014.7h0M786.4 1014.1h0M791.1 1014.7h0M796.5 1014.3h0M801.4 1014.7h0M804.2 1014.3h0M787.4 1015.8h0M794.5 1015.4h0M796.5 1015.8h0M801.8 1015.7h0M804.1 1015.2h0M783.9 1016.6h0M786.3 1016.9h0M798.7 1016.2h0M801.6 1016.5h0M793.4 1017.5h0M796.3 1017.5h0M802.3 1017.9h0M803.9 1017.2h0M789.3 1018.6h0M787.3 1019.5h0M789.9 1019.0h0M794.5 1019.3h0M797.9 1020.0h0M800.7 1019.1h0M804.4 1019.5h0M787.6 1020.7h0M795.0 1020.6h0M801.7 1020.6h0M792.0 1021.3h0M798.5 1021.4h0M802.1 1021.1h0M793.0 1022.5h0M794.8 1022.6h0M806.1 1022.4h0M800.8 1023.8h0M803.8 1023.0h0M793.7 1024.5h0M795.0 1024.5h0M795.5 1024.9h0M805.0 1024.2h0M792.8 1025.4h0M801.5 1025.5h0M793.8 1026.4h0M794.1 1026.5h0M797.3 1026.7h0M803.7 1026.1h0M805.7 1026.5h0M796.4 1027.4h0M806.9 1027.1h0M799.0 1028.1h0M800.9 1028.3h0M794.9 1029.5h0M799.6 1029.9h0M803.4 1030.2h0M798.9 1031.1h0M796.7 1033.3h0M794.7 1034.4h0M796.5 1034.9h0M798.0 1034.0h0M799.8 1035.4h0M800.6 1035.7h0M798.0 1036.5h0M799.7 1036.9h0M796.2 1037.9h0M798.8 1037.8h0M794.0 1039.6h0M799.6 1039.8h0M791.8 1040.4h0M795.3 1041.5h0M797.5 1041.4h0M792.1 1042.9h0M796.4 1042.2h0M795.9 1043.5h0M790.8 1046.0h0M791.8 1045.6h0M786.8 1046.4h0M785.3 1047.9h0M789.9 1047.1h0M783.8 1049.7h0M783.6 1050.7h0M785.4 1050.7h0M780.0 1051.6h0M1140.7 683.3h0M1150.7 686.4h0M1128.7 698.7h0M1137.3 701.3h0M1172.0 706.0h0M1184.0 708.7h0M1124.0 723.7h0M1170.7 778.7h0M1174.7 783.3h0M1170.0 785.3h0M1188.7 796.0h0M1274.0 766.7h0M1276.7 773.3h0M1274.0 778.7h0M1304.0 778.7h0M1282.0 784.7h0M1291.3 784.7h0M1279.3 790.0h0M1287.3 791.3h0M1312.7 790.7h0M1266.0 806.0h0M1272.0 806.0h0M1363.3 627.3h0M1447.3 680.0h0M1456.7 672.7h0M1458.7 706.7h0M1508.7 771.3h0M1543.3 797.3h0M1547.3 798.3h0M1447.3 736.0h0M1442.7 746.0h0M1452.0 744.7h0M1460.0 745.3h0M1474.7 746.0h0M1446.0 751.3h0M1440.7 755.3h0M1460.7 754.7h0M1452.7 760.0h0M1448.0 768.7h0M1559.3 844.7h0M1548.0 862.7h0M1478.0 816.0h0M1500.7 831.3h0M1500.0 836.0h0M1494.0 840.0h0M1508.0 842.0h0M1488.0 848.7h0M1506.7 852.7h0M1494.0 865.7h0M1518.7 820.7h0M1477.3 869.3h0M1478.7 872.7h0M1469.3 878.7h0M1474.7 886.7h0M1476.7 890.7h0M1520.7 930.7h0M1537.3 932.7h0M1532.0 938.0h0M1537.3 942.0h0M1546.7 943.3h0M1532.7 947.3h0M1542.7 950.7h0M1485.3 906.0h0M1480.0 912.7h0M1485.3 917.3h0M1456.0 922.0h0M1464.0 921.3h0M1468.0 925.3h0M1458.0 929.3h0M1474.7 928.7h0M1480.0 928.0h0M1485.3 932.0h0M1450.7 932.0h0M1444.0 938.7h0M1369.5 489.2h0M1307.7 485.4h0M1295.9 479.0h0M1245.8 479.6h0M1382.7 437.4h0M1141.3 220.5h0M1220.7 272.1h0M1182.9 461.9h0M1435.6 405.4h0M693.7 913.0h0M707.5 917.6h0M834.8 919.9h0M794.9 933.7h0M793.4 938.3h0M801.8 930.6h0M800.3 940.6h0M808.7 945.9h0M798.7 949.8h0M805.6 952.1h0M787.2 953.6h0M791.8 955.1h0M784.9 959.7h0M804.9 959.7h0M779.5 949.8h0M776.5 958.2h0M773.4 963.6h0M781.1 967.4h0M790.3 967.4h0M787.2 972.0h0M774.9 972.0h0M770.3 976.6h0M779.5 977.4h0M785.7 975.8h0M808.7 990.4h0M805.6 995.0h0M803.3 1000.4h0M807.9 1010.3h0M778.8 1054.8h0M770.3 1054.8h0M771.1 1060.2h0M776.5 1020.3h0M767.3 1028.0h0M771.1 1027.5h0M773.1 1036.7h0M755.3 1042.1h0M731.2 946.7h0M734.3 955.9h0M745.0 976.6h0M758.8 976.9h0M784.1 989.6h0M788.0 989.2h0M697.5 1088.6h0M672.5 590.7h0M715.7 607.1h0M689.6 607.5h0M683.2 604.3h0M752.5 614.6h0M765.0 619.1h0M767.9 620.0h0M771.4 621.1h0M775.0 622.9h0M777.1 624.1h0M341.0 745.2h0M337.6 747.1h0M340.0 748.6h0M346.7 746.7h0M333.3 753.3h0M332.4 754.8h0M335.2 757.1h0M337.1 758.6h0M343.8 756.2h0M341.4 755.2h0M336.2 751.0h0M342.9 749.5h0M352.0 746.3h0M349.0 753.3h0M341.4 752.4h0M530.7 1194.1h0M533.6 1195.7h0M536.2 1197.2h0M539.3 1197.0h0M539.3 1199.9h0M542.0 1202.0h0M544.0 1202.5h0M543.5 1206.1h0M544.0 1207.7h0M549.8 1197.8h0M554.5 1203.0h0M561.1 1197.8h0M561.1 1202.5h0M569.5 1195.9h0M579.7 1195.7h0M583.9 1197.0h0M589.6 1194.6h0M583.3 1199.9h0M577.6 1203.5h0M576.0 1205.1h0M571.8 1204.6h0M569.2 1207.7h0M565.0 1206.7h0M562.4 1207.7h0M558.7 1207.7h0M557.1 1211.4h0M563.4 1211.9h0M555.0 1214.5h0M559.8 1215.0h0M553.0 1213.0h0M562.9 1213.5h0M550.9 1211.4h0M570.8 1201.4h0M546.7 1204.6h0M558.7 1204.0h0M1657.7 778.3h0M1661.5 779.3h0M1661.5 782.5h0M1669.5 780.9h0M1674.8 779.9h0M1682.5 781.2h0M1688.4 781.5h0M1690.8 784.1h0M1688.7 786.3h0M1675.3 784.1h0M1673.2 791.3h0M1678.0 788.4h0M1685.5 791.1h0M1681.2 793.2h0M1683.3 794.8h0M1679.1 797.5h0M1677.5 803.3h0M1676.4 805.5h0M1680.1 804.9h0M1676.9 808.1h0M1678.0 800.7h0M1686.0 787.3h0M1679.6 790.5h0M1458.3 1235.5h0M1461.0 1236.9h0M1463.8 1237.4h0M1465.7 1239.5h0M1469.8 1238.3h0M1467.6 1241.4h0M1466.7 1243.3h0M1470.0 1243.3h0M1471.4 1245.2h0M1473.8 1245.2h0M1475.7 1246.7h0M1477.6 1247.4h0M1469.5 1241.0h0M1462.9 1239.0h0M1127.5 677.7h0M1125.5 682.1h0M1120.9 682.7h0M1119.2 683.4h0M1119.9 687.3h0M1118.7 686.0h0M1121.3 696.5h0M1119.6 697.4h0M1117.2 699.2h0M1116.7 693.7h0M1115.8 699.7h0M1116.1 699.9h0M1124.0 703.1h0M1121.9 707.1h0M1126.9 707.2h0M1126.1 703.4h0M1128.8 709.6h0M1115.6 694.3h0M1119.7 699.2h0M1118.3 701.6h0M1118.6 702.6h0M1121.1 706.4h0M1120.5 708.3h0M1126.5 706.6h0M1126.8 712.8h0M1129.2 715.1h0M1184.7 248.1h0M1185.1 252.6h0M1189.0 252.8h0M1187.6 255.4h0M1191.0 254.7h0M1192.1 255.1h0M1192.4 257.2h0M1195.6 257.8h0M1195.0 260.4h0M1199.5 260.4h0M1202.3 262.6h0M1200.4 261.8h0M1204.9 265.3h0M1207.4 261.1h0M1208.3 263.2h0M1208.5 265.3h0M1210.4 266.9h0M1211.7 269.9h0M1215.5 270.8h0M1216.7 268.8h0M1216.7 270.2h0M1219.7 271.9h0M1143.0 223.4h0M1143.6 220.2h0M1150.9 220.2h0M1150.5 224.0h0M1152.3 221.0h0M1152.2 223.1h0M1154.7 223.2h0M1156.9 225.1h0M1160.7 224.7h0M1161.3 224.8h0M1185.5 462.4h0M1182.7 463.6h0M1186.3 462.1h0M1186.4 460.7h0M1188.5 460.1h0M1191.7 463.0h0M1193.7 461.8h0M1196.6 462.1h0M1195.8 465.7h0M1195.2 463.5h0M1202.4 465.5h0M1202.5 463.9h0M1202.6 463.5h0M1201.6 466.5h0M1203.3 466.3h0M1208.7 465.1h0M1206.5 468.8h0M1210.1 462.0h0M1211.9 464.5h0M1212.0 466.4h0M1216.5 467.2h0M1214.2 466.9h0M1217.0 464.9h0M1220.3 468.6h0M1219.7 464.0h0M1416.7 425.3h0M1415.2 420.0h0M1421.5 420.7h0M1420.1 419.5h0M1421.2 420.4h0M1422.2 417.3h0M1422.2 418.5h0M1423.5 417.3h0M1424.9 414.0h0M1427.5 412.9h0M1425.1 410.3h0M1429.4 408.7h0M1426.1 410.1h0M1432.6 406.9h0M1429.5 408.6h0M1433.4 405.3h0M1434.0 404.0h0M1435.4 405.4h0M1300.6 468.2h0M1295.9 462.7h0M1299.2 467.3h0M1297.2 463.3h0M1303.1 470.2h0M1300.9 472.9h0M1303.2 473.7h0M1309.7 474.7h0M1313.1 470.7h0M1310.0 467.8h0M767.6 1062.1h0M767.6 1062.9h0M763.3 1064.0h0M764.4 1062.0h0M761.7 1064.6h0M758.9 1064.5h0M759.8 1065.7h0M753.6 1065.3h0M751.6 1068.2h0M752.4 1065.5h0M747.1 1064.0h0M746.8 1065.4h0M744.3 1064.9h0M740.9 1065.0h0M742.1 1066.1h0M739.0 1065.6h0M737.6 1065.6h0M735.8 1070.0h0M734.0 1071.6h0M729.8 1068.0h0M725.8 1072.1h0M725.9 1071.6h0M723.4 1070.5h0M719.3 1071.0h0M720.0 1075.5h0M717.6 1073.6h0M715.2 1077.5h0M711.8 1074.7h0M711.4 1077.8h0M709.2 1080.2h0M708.7 1082.9h0M707.8 1081.1h0M702.3 1084.4h0M702.1 1084.0h0M700.1 1088.9h0M699.0 1089.2h0M747.3 1062.1h0M741.9 1061.6h0M738.7 1059.4h0M737.0 1062.6h0M735.1 1063.5h0M732.5 1065.8h0M726.3 1063.5h0M710.7 1076.1h0M705.9 1079.4h0M704.7 1080.9h0M704.6 1081.0h0M697.9 1083.4h0"/>
<path stroke="#E8536A" d="M1104.0 672.7h0M1109.7 674.9h0M1120.7 696.3h0M1134.4 707.1h0M1135.3 720.9h0M1143.1 739.3h0M1149.1 742.0h0M1160.9 747.3h0M1153.7 760.4h0M1160.4 771.6h0M1184.0 794.0h0M1189.3 742.4h0M1188.0 748.7h0M1183.3 752.0h0M1182.7 756.0h0M1189.3 764.7h0M1188.7 767.3h0M1198.0 758.7h0M1197.3 770.0h0M1198.3 776.7h0M1204.7 713.7h0M1204.0 719.6h0M1202.4 749.6h0M1208.3 741.6h0M1209.1 751.7h0M1212.0 767.3h0M1218.7 693.1h0M1218.0 706.3h0M1221.1 732.0h0M1228.7 729.6h0M1225.3 758.3h0M1226.7 775.3h0M1220.7 777.3h0M1222.7 782.7h0M1220.4 788.0h0M1216.7 805.3h0M1248.7 727.3h0M1242.7 732.0h0M1244.7 733.3h0M1242.4 759.3h0M1243.1 774.9h0M1248.3 798.7h0M1244.3 806.4h0M1238.7 810.0h0M1262.0 736.9h0M1274.7 812.3h0M1278.0 687.1h0M1300.3 695.7h0M1308.7 700.7h0M1313.6 727.6h0M1312.9 734.7h0M1330.0 760.4h0M1335.3 769.1h0M1325.3 772.7h0M1318.3 781.1h0M1327.6 780.7h0M1338.7 783.3h0M1354.7 781.3h0M1362.0 765.3h0M1366.7 768.7h0M1306.7 802.0h0M1311.3 804.0h0M1316.7 802.7h0M1317.3 811.3h0M1342.9 814.0h0M1354.0 822.4h0M1304.0 827.7h0M1322.0 830.7h0M1343.7 827.7h0M1335.3 834.7h0M1353.3 645.6h0M1358.9 651.7h0M1360.7 657.7h0M1368.7 660.0h0M1413.3 643.3h0M1421.3 649.7h0M1418.7 652.4h0M1467.3 660.0h0M1395.1 674.9h0M1391.3 681.6h0M1395.6 701.3h0M1435.6 694.9h0M1443.3 703.3h0M1441.3 715.3h0M1449.3 716.4h0M1438.7 719.6h0M1443.3 720.0h0M1394.4 722.7h0M1399.3 728.4h0M1376.0 730.0h0M1383.1 734.3h0M1387.7 743.1h0M1394.0 747.1h0M1488.7 729.7h0M1498.0 731.6h0M1500.7 741.3h0M1505.3 743.1h0M1488.9 745.3h0M1492.4 756.3h0M1498.4 757.3h0M1422.7 760.4h0M1371.7 763.3h0M1400.7 776.7h0M1432.7 782.0h0M1468.4 782.0h0M1414.0 788.7h0M1390.0 792.0h0M1405.7 791.6h0M1478.7 791.6h0M1412.0 797.3h0M1404.0 800.4h0M1446.7 798.7h0M1454.4 797.3h0M1448.7 802.7h0M1516.7 798.3h0M1522.0 802.0h0M1377.3 807.3h0M1402.7 806.7h0M1408.0 807.3h0M1416.7 806.7h0M1423.3 804.7h0M1440.7 808.7h0M1371.3 837.1h0M1440.0 834.3h0M1465.3 827.1h0M1478.0 848.0h0M1243.3 861.7h0M1236.7 886.0h0M1244.0 887.7h0M1246.0 895.7h0M1249.6 896.7h0M1310.0 866.9h0M1319.3 862.0h0M1342.4 877.3h0M1355.3 889.6h0M1363.7 889.1h0M1384.0 886.9h0M1390.3 878.0h0M1330.7 898.4h0M1293.3 906.7h0M1449.1 890.7h0M1390.4 914.7h0M1418.0 914.0h0M1370.4 918.4h0M1435.6 921.1h0M1406.3 923.3h0M1284.4 921.1h0M1305.7 920.7h0M1273.7 924.0h0M1268.0 926.0h0M1293.3 933.7h0M1397.3 935.3h0M1384.9 938.4h0M1343.7 938.9h0M1332.7 944.0h0M1299.3 943.3h0M1346.3 949.6h0M1402.7 947.7h0M1296.3 954.7h0M1299.3 960.7h0M1388.3 957.6h0M1398.0 961.1h0M1338.3 961.7h0M1328.4 966.4h0M1365.3 975.1h0M1385.7 970.7h0M1419.3 966.7h0M1434.7 964.4h0M1458.0 960.4h0M1460.0 936.7h0M1471.6 935.7h0M1500.0 812.0h0M1536.0 815.7h0M1542.4 826.4h0M1521.3 847.6h0M1487.6 861.3h0M1543.7 896.3h0M1531.3 907.1h0M1547.3 909.1h0M1575.3 910.9h0M1585.3 915.7h0M1490.4 919.1h0M1533.3 918.3h0M1519.1 924.0h0M1586.7 926.0h0M1603.6 930.4h0M1602.7 933.3h0M1578.7 936.0h0M1582.7 934.7h0M1589.3 934.0h0M1580.0 940.0h0M1610.0 939.7h0M1592.7 942.4h0M1586.0 944.3h0M1597.3 946.0h0M1579.3 949.1h0M1572.0 949.3h0M1565.6 951.3h0M1552.7 951.7h0M1604.0 950.0h0M1512.7 944.9h0M1500.7 946.7h0M1525.7 947.7h0M1501.3 952.0h0M1506.7 954.0h0M1520.7 955.1h0M1573.3 954.7h0M1576.0 958.7h0M1566.7 959.3h0M1580.0 960.7h0M1558.7 964.9h0M1567.7 966.4h0M1576.0 966.7h0M1589.3 964.7h0M1574.7 971.3h0M1240.9 464.0h0M1329.0 475.1h0M676.3 932.6h0M684.0 921.4h0M688.8 926.0h0M692.1 929.8h0M696.0 933.2h0M698.7 921.4h0M707.0 926.3h0M707.0 946.4h0M702.1 951.0h0M722.0 930.6h0M734.3 930.3h0M741.2 935.5h0M745.8 932.9h0M749.6 932.1h0M751.9 927.8h0M756.9 923.2h0M769.3 917.3h0M763.4 926.8h0M765.0 931.4h0M763.1 938.7h0M774.9 930.6h0M780.3 932.9h0M757.8 947.5h0M755.8 952.8h0M767.0 961.3h0M792.3 924.2h0M807.2 921.7h0M812.5 924.5h0M817.9 925.7h0M816.4 931.4h0M829.8 926.5h0M782.6 974.6h0M769.9 983.5h0M783.7 994.2h0M685.0 594.6h0M685.4 597.9h0M698.2 595.7h0M696.4 600.0h0M772.9 621.6h0M351.4 746.0h0M341.0 751.9h0M348.3 752.9h0M533.6 1196.5h0M550.1 1203.8h0M553.7 1207.7h0M549.8 1209.0h0M567.1 1200.6h0M575.0 1199.6h0M579.7 1198.8h0M1681.7 785.2h0M1679.9 800.4h0"/>
<path stroke="#FCF7B4" d="M1237.3 794.3h0M1492.7 794.7h0M1383.3 810.0h0M1280.7 896.7h0M1450.9 966.7h0M1597.1 950.0h0M1521.7 960.7h0M761.9 917.6h0M804.9 940.1h0"/>
</g>
<g stroke="#000" stroke-width="4.6" fill="none" stroke-linecap="butt">
<path d="M222.5 142.7V1304.6"/>
<path d="M220.2 1302.3H1801.4"/>
<path d="M208 197.8H222.5"/>
<path d="M208 482.0H222.5"/>
<path d="M208 766.2H222.5"/>
<path d="M208 1050.4H222.5"/>
<path d="M293.8 1302.3V1316.8"/>
<path d="M788.0 1302.3V1316.8"/>
<path d="M1282.2 1302.3V1316.8"/>
<path d="M1776.4 1302.3V1316.8"/>
</g>
<g font-family="'Liberation Sans', Arial, Helvetica, sans-serif" fill="#000">
<text transform="translate(1010.8 101) scale(1 1.065)" font-size="66.7" font-weight="bold" text-anchor="middle">CTSO</text>
<text transform="translate(194.2 216.4) scale(1 1.035)" font-size="50" text-anchor="end">20</text>
<text transform="translate(194.2 500.6) scale(1 1.035)" font-size="50" text-anchor="end">10</text>
<text transform="translate(194.2 784.8) scale(1 1.035)" font-size="50" text-anchor="end">0</text>
<text transform="translate(194.2 1069.0) scale(1 1.035)" font-size="50" text-anchor="end">-10</text>
<text transform="translate(293.8 1366.8) scale(1 1.035)" font-size="50" text-anchor="middle">-10</text>
<text transform="translate(788.0 1366.8) scale(1 1.035)" font-size="50" text-anchor="middle">0</text>
<text transform="translate(1282.2 1366.8) scale(1 1.035)" font-size="50" text-anchor="middle">10</text>
<text transform="translate(1776.4 1366.8) scale(1 1.035)" font-size="50" text-anchor="middle">20</text>
<text transform="translate(1008.5 1435.3) scale(1 1.035)" font-size="57.8" text-anchor="middle">UMAP_1</text>
<text transform="translate(95 723) rotate(-90) scale(1 1.06)" font-size="58" text-anchor="middle">UMAP_2</text>
<text transform="translate(1950 625.6) scale(1 1.035)" font-size="50">1.00</text>
<text transform="translate(1950 698.5) scale(1 1.035)" font-size="50">0.75</text>
<text transform="translate(1950 771.3) scale(1 1.035)" font-size="50">0.50</text>
<text transform="translate(1950 844.0) scale(1 1.035)" font-size="50">0.25</text>
<text transform="translate(1950 916.3) scale(1 1.035)" font-size="50">0.00</text>
</g>
<defs><linearGradient id="mg" x1="0" y1="1" x2="0" y2="0"><stop offset="0.0000" stop-color="#000004"/><stop offset="0.0345" stop-color="#02020c"/><stop offset="0.0690" stop-color="#07061c"/><stop offset="0.1034" stop-color="#0f0b2e"/><stop offset="0.1379" stop-color="#1a1042"/><stop offset="0.1724" stop-color="#271258"/><stop offset="0.2069" stop-color="#36106b"/><stop offset="0.2414" stop-color="#451077"/><stop offset="0.2759" stop-color="#54137d"/><stop offset="0.3103" stop-color="#621980"/><stop offset="0.3448" stop-color="#701f81"/><stop offset="0.3793" stop-color="#7e2482"/><stop offset="0.4138" stop-color="#8c2981"/><stop offset="0.4483" stop-color="#9b2e7f"/><stop offset="0.4828" stop-color="#aa337d"/><stop offset="0.5172" stop-color="#b93778"/><stop offset="0.5517" stop-color="#c73d73"/><stop offset="0.5862" stop-color="#d5446d"/><stop offset="0.6207" stop-color="#e24d66"/><stop offset="0.6552" stop-color="#ec5860"/><stop offset="0.6897" stop-color="#f4675c"/><stop offset="0.7241" stop-color="#f9795d"/><stop offset="0.7586" stop-color="#fc8961"/><stop offset="0.7931" stop-color="#fe9b6a"/><stop offset="0.8276" stop-color="#feac76"/><stop offset="0.8621" stop-color="#febe84"/><stop offset="0.8966" stop-color="#fecf92"/><stop offset="0.9310" stop-color="#fde0a1"/><stop offset="0.9655" stop-color="#fcf0b2"/><stop offset="1.0000" stop-color="#fcfdbf"/></linearGradient></defs>
<rect x="1856.8" y="578" width="64" height="319.8" fill="url(#mg)"/>
<g stroke="#fff" stroke-width="2.2">
<path d="M1856.8 606.8h12.8M1908 606.8h12.8"/>
<path d="M1856.8 679.7h12.8M1908 679.7h12.8"/>
<path d="M1856.8 752.5h12.8M1908 752.5h12.8"/>
<path d="M1856.8 825.2h12.8M1908 825.2h12.8"/>
<path d="M1856.8 897.5h12.8M1908 897.5h12.8"/>
</g>
</svg>
</body></html>
